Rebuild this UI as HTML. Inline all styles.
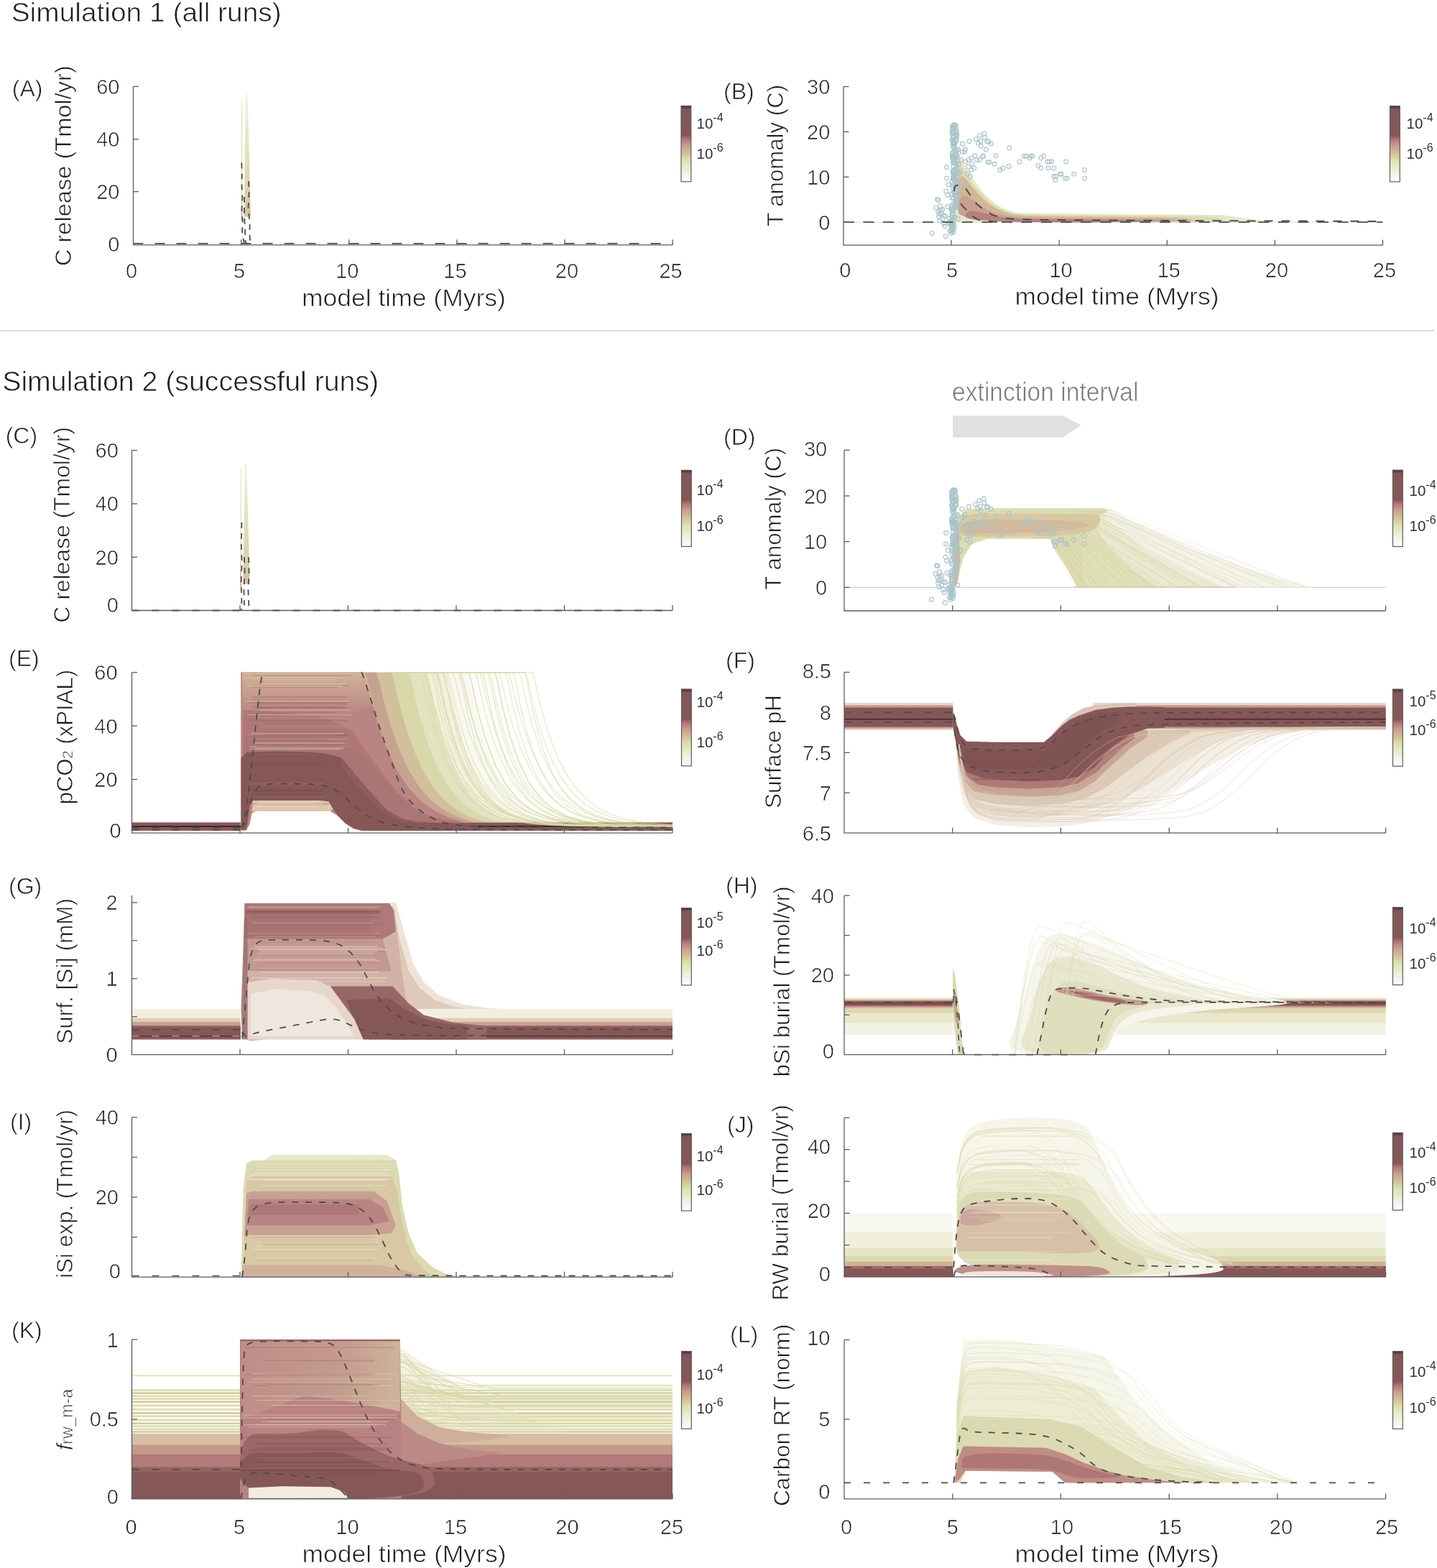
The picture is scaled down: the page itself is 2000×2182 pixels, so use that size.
<!DOCTYPE html><html><head><meta charset="utf-8"><style>html,body{margin:0;padding:0;background:#fff;}svg{display:block;}</style></head><body><svg width="2000" height="2182" viewBox="0 0 2000 2182" font-family="'Liberation Sans', Arial, Helvetica, sans-serif">
<style>text.t{stroke:#fff;stroke-width:0.65px;paint-order:normal;}</style>
<rect width="2000" height="2182" fill="#fff"/>
<polygon points="1328.7,1002.6 1333.3,1080.9 1340.8,1120.1 1355.9,1139.1 1386,1148.0 1431.2,1151.4 1476.4,1150.3 1512.6,1145.8 1551.8,1134.6 1597,1116.7 1642.2,1092.1 1687.4,1064.1 1732.7,1038.4 1777.9,1022.7 1823.1,1013.8 1823.1,1002.6 1621.1,1002.6 1572.9,1002.6 1548.8,1008.2 1524.7,1025.0 1500.6,1047.3 1476.4,1064.1 1452.3,1069.7 1343.8,1069.7 1331.7,1036.2" fill="#f3efe6" />
<polygon points="1328.7,1002.6 1333.3,1069.7 1340.8,1103.3 1355.9,1125.6 1386,1134.6 1431.2,1136.8 1476.4,1134.6 1512.6,1127.9 1551.8,1114.5 1597,1092.1 1642.2,1064.1 1687.4,1036.2 1732.7,1019.4 1732.7,1002.6 1621.1,1002.6 1572.9,1002.6 1548.8,1008.2 1524.7,1025.0 1500.6,1047.3 1476.4,1064.1 1452.3,1069.7 1343.8,1069.7 1331.7,1036.2" fill="#ebe1d2" />
<polygon points="1328.7,1002.6 1333.3,1060.8 1340.8,1092.1 1355.9,1112.2 1386,1118.9 1431.2,1121.2 1476.4,1118.9 1506.6,1112.2 1536.7,1097.7 1566.9,1075.3 1597,1052.9 1627.2,1033.9 1657.3,1019.4 1657.3,1002.6 1621.1,1002.6 1572.9,1002.6 1548.8,1008.2 1524.7,1025.0 1500.6,1047.3 1476.4,1064.1 1452.3,1069.7 1343.8,1069.7 1331.7,1036.2" fill="#dccab6" />
<polygon points="1328.7,1002.6 1333.3,1056.3 1340.8,1085.4 1355.9,1101.0 1386,1106.6 1431.2,1108.9 1476.4,1106.6 1500.6,1101.0 1524.7,1086.5 1548.8,1064.1 1572.9,1041.8 1597,1025.0 1597,1002.6 1621.1,1002.6 1572.9,1002.6 1548.8,1008.2 1524.7,1025.0 1500.6,1047.3 1476.4,1064.1 1452.3,1069.7 1343.8,1069.7 1331.7,1036.2" fill="#c8a494" />
<polygon points="1328.7,1002.6 1333.3,1052.9 1342.3,1078.7 1361.9,1092.1 1386,1095.4 1431.2,1097.7 1476.4,1095.4 1500.6,1089.9 1524.7,1075.3 1542.8,1058.5 1560.8,1041.8 1578.9,1027.2 1578.9,1002.6 1621.1,1002.6 1572.9,1002.6 1548.8,1008.2 1524.7,1025.0 1500.6,1047.3 1476.4,1064.1 1452.3,1069.7 1343.8,1069.7 1331.7,1036.2" fill="#ad7a76" />
<rect x="1175.0" y="978.0" width="151.3" height="38.0" fill="#e8d8c8"/>
<rect x="1175.0" y="981.4" width="151.3" height="32.4" fill="#c49a8c"/>
<rect x="1175.0" y="984.7" width="151.3" height="26.8" fill="#865757"/>
<rect x="1175.0" y="999.8" width="151.3" height="2.2" fill="#5a3434"/>
<rect x="1521.7" y="978.0" width="406.9" height="38.0" fill="#e8d8c8"/>
<rect x="1521.7" y="981.4" width="406.9" height="32.4" fill="#c49a8c"/>
<rect x="1521.7" y="984.7" width="406.9" height="26.8" fill="#865757"/>
<rect x="1521.7" y="999.8" width="406.9" height="2.2" fill="#5a3434"/>
<polygon points="1455.3,1033.9 1467.4,1018.3 1479.5,1004.8 1491.5,994.8 1506.6,985.8 1524.7,981.4 1551.8,979.1 1581.9,978.0 1581.9,991.4 1476.4,1036.2" fill="#dcc4b4" />
<polygon points="1326.3,1011.6 1326.3,991.4 1328.7,995.9 1331.7,1008.2 1336.3,1022.7 1345.3,1031.7 1386,1032.8 1452.9,1032.8 1465,1022.7 1477,1010.4 1488.8,1001.5 1500.9,995.9 1524.7,988.1 1548.8,984.7 1572.9,983.6 1597,983.6 1621.1,984.2 1621.1,1012.7 1597,1013.8 1572.9,1021.6 1560.8,1030.6 1548.8,1039.5 1536.7,1051.8 1524.7,1066.4 1500.6,1080.9 1476.4,1085.4 1429.1,1087.6 1369.1,1083.1 1345.3,1074.2 1333.3,1047.3 1328.7,1025.0" fill="#865757" />
<polygon points="1340.8,1041.8 1361.9,1045.1 1452.3,1045.1 1467.4,1031.7 1485.5,1013.8 1506.6,999.3 1530.7,992.5 1554.8,991.4 1554.8,1007.1 1530.7,1018.3 1512.6,1036.2 1494.5,1056.3 1470.4,1069.7 1361.9,1069.7 1343.8,1060.8" fill="#7c4e50" fill-opacity="0.6" />
<polyline points="1334.8,1036.2 1335.3,1041.0 1336.5,1050.8 1338.2,1065.4 1340.4,1084.9 1343.8,1100.9 1348.3,1113.5 1354,1122.5 1360.8,1128.1 1367.5,1132.7 1374.3,1136.2 1381,1138.6 1387.8,1140.0 1396.6,1139.1 1407.5,1135.7 1420.5,1130.1 1435.6,1122.1 1450.6,1112.0 1465.7,1100.0 1480.8,1086.0 1495.9,1069.9 1510.9,1055.9 1526,1043.9 1541.1,1033.8 1556.1,1025.8 1589.3,1019.7 1640.6,1015.4 1709.9,1013.0 1797.4,1012.4 1863,1012.0 1906.7,1011.7 1928.6,1011.6" fill="none" stroke="#d8c4ae" stroke-width="0.9" stroke-opacity="0.5" stroke-linejoin="round"/>
<polyline points="1334.8,1036.2 1335.3,1041.2 1336.5,1051.4 1338.2,1066.6 1340.4,1086.8 1343.8,1103.4 1348.3,1116.3 1354,1125.6 1360.8,1131.2 1368.5,1135.7 1377.2,1139.2 1386.9,1141.7 1397.5,1143.1 1409.3,1142.1 1422.1,1138.7 1436.1,1132.9 1451.1,1124.7 1466.2,1114.4 1481.3,1102.1 1496.4,1087.7 1511.4,1071.3 1526.5,1056.9 1541.6,1044.6 1556.6,1034.3 1571.7,1026.1 1603.9,1019.8 1653.2,1015.4 1719.7,1013.0 1803.2,1012.4 1865.9,1012.0 1907.7,1011.7 1928.6,1011.6" fill="none" stroke="#d8c4ae" stroke-width="0.9" stroke-opacity="0.5" stroke-linejoin="round"/>
<polyline points="1334.8,1036.2 1335.3,1040.5 1336.5,1049.2 1338.2,1062.3 1340.4,1079.6 1343.8,1094.1 1348.3,1105.6 1354,1114.1 1360.8,1119.7 1369,1124.3 1378.6,1127.8 1389.7,1130.2 1402.2,1131.6 1415.4,1130.8 1429.2,1127.7 1443.6,1122.5 1458.7,1115.0 1473.8,1105.6 1488.8,1094.4 1503.9,1081.2 1519,1066.3 1534.1,1053.1 1549.1,1041.9 1564.2,1032.5 1579.3,1025.0 1611,1019.3 1659.4,1015.2 1724.4,1013.0 1806.1,1012.4 1867.3,1012.0 1908.2,1011.7 1928.6,1011.6" fill="none" stroke="#d8c4ae" stroke-width="0.9" stroke-opacity="0.5" stroke-linejoin="round"/>
<polyline points="1334.8,1036.2 1335.3,1040.2 1336.5,1048.2 1338.2,1060.2 1340.4,1076.2 1343.8,1089.6 1348.3,1100.4 1354,1108.6 1360.8,1114.2 1369,1118.7 1378.8,1122.2 1390.1,1124.7 1402.9,1126.1 1416.2,1125.3 1430.1,1122.4 1444.6,1117.4 1459.7,1110.3 1474.8,1101.3 1489.8,1090.6 1504.9,1078.1 1520,1063.8 1535.1,1051.3 1550.1,1040.6 1565.2,1031.7 1580.3,1024.5 1611.9,1019.0 1660.2,1015.2 1725,1013.0 1806.5,1012.4 1867.5,1012.0 1908.2,1011.7 1928.6,1011.6" fill="none" stroke="#d8c4ae" stroke-width="0.9" stroke-opacity="0.5" stroke-linejoin="round"/>
<polyline points="1334.8,1036.2 1335.3,1040.3 1336.5,1048.7 1338.2,1061.3 1340.4,1078.0 1343.8,1091.9 1348.3,1103.1 1354,1111.5 1360.8,1117.1 1369.6,1121.6 1380.6,1125.1 1393.6,1127.5 1408.7,1128.9 1423.7,1128.2 1438.8,1125.2 1453.9,1120.0 1469,1112.7 1484.1,1103.6 1499.1,1092.6 1514.2,1079.7 1529.3,1065.1 1544.3,1052.3 1559.4,1041.3 1574.5,1032.1 1589.6,1024.8 1620.6,1019.2 1667.7,1015.2 1730.8,1013.0 1809.9,1012.4 1869.3,1012.0 1908.8,1011.7 1928.6,1011.6" fill="none" stroke="#d8c4ae" stroke-width="0.9" stroke-opacity="0.5" stroke-linejoin="round"/>
<polyline points="1334.8,1036.2 1335.3,1041.2 1336.5,1051.2 1338.2,1066.3 1340.4,1086.4 1343.8,1102.8 1348.3,1115.7 1354,1124.9 1360.8,1130.5 1370.3,1135.0 1382.5,1138.5 1397.4,1141.0 1415.1,1142.4 1432.1,1141.4 1448.4,1138.0 1464.1,1132.2 1479.2,1124.0 1494.3,1113.8 1509.4,1101.6 1524.4,1087.3 1539.5,1071.0 1554.6,1056.7 1569.6,1044.4 1584.7,1034.2 1599.8,1026.0 1630.2,1019.8 1676,1015.4 1737.2,1013.0 1813.8,1012.4 1871.2,1012.0 1909.5,1011.7 1928.6,1011.6" fill="none" stroke="#d8c4ae" stroke-width="0.9" stroke-opacity="0.5" stroke-linejoin="round"/>
<polyline points="1334.8,1036.2 1335.3,1039.4 1336.5,1045.8 1338.2,1055.5 1340.4,1068.4 1343.8,1079.4 1348.3,1088.7 1354,1096.1 1360.8,1101.7 1371.3,1106.2 1385.5,1109.7 1403.4,1112.2 1425.1,1113.5 1445.1,1113.0 1463.5,1110.5 1480.2,1106.1 1495.3,1099.7 1510.3,1091.8 1525.4,1082.2 1540.5,1071.1 1555.6,1058.4 1570.6,1047.2 1585.7,1037.7 1600.8,1029.7 1615.8,1023.3 1645.3,1018.4 1689.1,1015.0 1747.3,1013.0 1819.8,1012.4 1874.2,1012.0 1910.5,1011.7 1928.6,1011.6" fill="none" stroke="#d8c4ae" stroke-width="0.9" stroke-opacity="0.5" stroke-linejoin="round"/>
<polyline points="1334.8,1036.2 1335.3,1040.9 1336.5,1050.3 1338.2,1064.3 1340.4,1083.1 1343.8,1098.6 1348.3,1110.8 1354,1119.7 1360.8,1125.3 1371.5,1129.8 1386.3,1133.3 1405,1135.8 1427.7,1137.2 1448.5,1136.3 1467.4,1133.0 1484.4,1127.5 1499.5,1119.7 1514.6,1109.9 1529.6,1098.1 1544.7,1084.4 1559.8,1068.7 1574.8,1055.0 1589.9,1043.2 1605,1033.4 1620.1,1025.6 1649.2,1019.5 1692.5,1015.3 1749.9,1013.0 1821.4,1012.4 1875,1012.0 1910.7,1011.7 1928.6,1011.6" fill="none" stroke="#d8c4ae" stroke-width="0.9" stroke-opacity="0.5" stroke-linejoin="round"/>
<polyline points="1334.8,1036.2 1335.3,1039.1 1336.5,1044.9 1338.2,1053.7 1340.4,1065.4 1343.8,1075.6 1348.3,1084.2 1354,1091.3 1360.8,1096.9 1372.7,1101.5 1389.8,1105.0 1412,1107.4 1439.4,1108.8 1463.8,1108.3 1485,1106.0 1503.2,1101.8 1518.2,1095.7 1533.3,1088.2 1548.4,1079.0 1563.4,1068.4 1578.5,1056.3 1593.6,1045.7 1608.7,1036.6 1623.7,1029.0 1638.8,1022.9 1666.8,1018.2 1707.7,1014.9 1761.6,1013.0 1828.4,1012.4 1878.5,1012.0 1911.9,1011.7 1928.6,1011.6" fill="none" stroke="#d8c4ae" stroke-width="0.9" stroke-opacity="0.5" stroke-linejoin="round"/>
<polyline points="1334.8,1036.2 1335.3,1040.4 1336.5,1049.0 1338.2,1061.8 1340.4,1078.9 1343.8,1093.1 1348.3,1104.4 1354,1112.9 1360.8,1118.5 1373.2,1123.0 1391.4,1126.5 1415.3,1129.0 1444.9,1130.4 1470.9,1129.6 1493.2,1126.6 1511.9,1121.4 1527,1113.9 1542,1104.7 1557.1,1093.5 1572.2,1080.6 1587.3,1065.7 1602.3,1052.7 1617.4,1041.6 1632.5,1032.3 1647.5,1024.9 1675,1019.2 1714.8,1015.2 1767.1,1013.0 1831.7,1012.4 1880.1,1012.0 1912.4,1011.7 1928.6,1011.6" fill="none" stroke="#d8c4ae" stroke-width="0.9" stroke-opacity="0.5" stroke-linejoin="round"/>
<polyline points="1334.8,1036.2 1335.3,1041.3 1336.5,1051.6 1338.2,1066.9 1340.4,1087.5 1343.8,1104.2 1348.3,1117.3 1354,1126.6 1360.8,1132.2 1374.3,1136.8 1394.6,1140.2 1421.6,1142.7 1455.4,1144.1 1484.6,1143.1 1509,1139.6 1528.8,1133.8 1543.8,1125.5 1558.9,1115.2 1574,1102.7 1589.1,1088.3 1604.1,1071.7 1619.2,1057.2 1634.3,1044.8 1649.3,1034.5 1664.4,1026.2 1690.8,1019.9 1728.5,1015.4 1777.6,1013.0 1838,1012.4 1883.3,1012.0 1913.5,1011.7 1928.6,1011.6" fill="none" stroke="#d8c4ae" stroke-width="0.9" stroke-opacity="0.5" stroke-linejoin="round"/>
<polyline points="1334.8,1036.2 1335.3,1040.7 1336.5,1049.8 1338.2,1063.4 1340.4,1081.5 1343.8,1096.5 1348.3,1108.4 1354,1117.1 1360.8,1122.7 1374.8,1127.2 1396,1130.7 1424.5,1133.2 1460.1,1134.6 1490.7,1133.7 1516.1,1130.6 1536.3,1125.2 1551.4,1117.5 1566.4,1107.9 1581.5,1096.4 1596.6,1082.9 1611.6,1067.6 1626.7,1054.1 1641.8,1042.6 1656.9,1033.0 1671.9,1025.3 1697.9,1019.4 1734.7,1015.3 1782.3,1013.0 1840.8,1012.4 1884.7,1012.0 1914,1011.7 1928.6,1011.6" fill="none" stroke="#d8c4ae" stroke-width="0.9" stroke-opacity="0.5" stroke-linejoin="round"/>
<polyline points="1334.8,1036.2 1335.3,1041.1 1336.5,1051.0 1338.2,1065.9 1340.4,1085.7 1343.8,1102.0 1348.3,1114.7 1354,1123.8 1360.8,1129.4 1374.6,1134.0 1395.4,1137.5 1423.2,1139.9 1458.1,1141.3 1488,1140.3 1513,1137.0 1533,1131.3 1548.1,1123.2 1563.2,1113.0 1578.2,1100.9 1593.3,1086.7 1608.4,1070.5 1623.4,1056.3 1638.5,1044.2 1653.6,1034.0 1668.7,1025.9 1694.8,1019.7 1732,1015.4 1780.3,1013.0 1839.6,1012.4 1884.1,1012.0 1913.8,1011.7 1928.6,1011.6" fill="none" stroke="#d8c4ae" stroke-width="0.9" stroke-opacity="0.5" stroke-linejoin="round"/>
<polyline points="1334.8,1036.2 1335.3,1039.4 1336.5,1045.9 1338.2,1055.6 1340.4,1068.6 1343.8,1079.8 1348.3,1089.1 1354,1096.5 1360.8,1102.1 1375.4,1106.6 1397.8,1110.1 1428,1112.6 1466,1114.0 1498.3,1113.4 1524.8,1110.9 1545.6,1106.5 1560.7,1100.1 1575.8,1092.1 1590.8,1082.5 1605.9,1071.3 1621,1058.5 1636.1,1047.4 1651.1,1037.8 1666.2,1029.8 1681.3,1023.4 1706.6,1018.4 1742.2,1015.0 1788.1,1013.0 1844.3,1012.4 1886.5,1012.0 1914.6,1011.7 1928.6,1011.6" fill="none" stroke="#d8c4ae" stroke-width="0.9" stroke-opacity="0.5" stroke-linejoin="round"/>
<polyline points="1334.8,1036.2 1335.3,1040.0 1336.5,1047.6 1338.2,1059.1 1340.4,1074.4 1343.8,1087.2 1348.3,1097.7 1354,1105.7 1360.8,1111.3 1375.8,1115.8 1399.1,1119.3 1430.7,1121.8 1470.6,1123.1 1504.2,1122.5 1531.7,1119.7 1553,1114.8 1568,1107.8 1583.1,1099.1 1598.2,1088.7 1613.2,1076.5 1628.3,1062.6 1643.4,1050.4 1658.5,1039.9 1673.5,1031.2 1688.6,1024.2 1713.5,1018.9 1748.2,1015.1 1792.7,1013.0 1847.1,1012.4 1887.8,1012.0 1915,1011.7 1928.6,1011.6" fill="none" stroke="#d8c4ae" stroke-width="0.9" stroke-opacity="0.5" stroke-linejoin="round"/>
<polyline points="1334.8,1036.2 1335.3,1040.5 1336.5,1049.2 1338.2,1062.2 1340.4,1079.5 1343.8,1093.9 1348.3,1105.3 1354,1113.9 1360.8,1119.5 1376.9,1124.0 1402.5,1127.5 1437.4,1129.9 1481.8,1131.3 1518.8,1130.5 1548.5,1127.5 1570.9,1122.2 1586,1114.7 1601,1105.4 1616.1,1094.2 1631.2,1081.1 1646.3,1066.1 1661.3,1053.1 1676.4,1041.8 1691.5,1032.5 1706.5,1025.0 1730.3,1019.3 1762.8,1015.2 1803.9,1013.0 1853.8,1012.4 1891.2,1012.0 1916.1,1011.7 1928.6,1011.6" fill="none" stroke="#d8c4ae" stroke-width="0.9" stroke-opacity="0.5" stroke-linejoin="round"/>
<polyline points="1334.8,1036.2 1335.3,1041.3 1336.5,1051.4 1338.2,1066.7 1340.4,1087.1 1343.8,1103.7 1348.3,1116.7 1354,1126.0 1360.8,1131.6 1377.4,1136.1 1404,1139.6 1440.4,1142.1 1486.8,1143.5 1525.3,1142.4 1556,1139.0 1578.9,1133.2 1594,1125.0 1609,1114.7 1624.1,1102.3 1639.2,1087.9 1654.2,1071.4 1669.3,1057.0 1684.4,1044.7 1699.5,1034.4 1714.5,1026.1 1737.8,1019.8 1769.3,1015.4 1808.9,1013.0 1856.8,1012.4 1892.7,1012.0 1916.6,1011.7 1928.6,1011.6" fill="none" stroke="#d8c4ae" stroke-width="0.9" stroke-opacity="0.5" stroke-linejoin="round"/>
<polyline points="1334.8,1036.2 1335.3,1040.9 1336.5,1050.4 1338.2,1064.6 1340.4,1083.6 1343.8,1099.2 1348.3,1111.4 1354,1120.4 1360.8,1126.0 1377.5,1130.5 1404.1,1134.0 1440.7,1136.5 1487.3,1137.9 1526,1136.9 1556.8,1133.7 1579.7,1128.1 1594.8,1120.2 1609.9,1110.4 1624.9,1098.6 1640,1084.8 1655.1,1069.0 1670.1,1055.2 1685.2,1043.4 1700.3,1033.5 1715.4,1025.6 1738.6,1019.6 1769.9,1015.3 1809.5,1013.0 1857.1,1012.4 1892.9,1012.0 1916.7,1011.7 1928.6,1011.6" fill="none" stroke="#d8c4ae" stroke-width="0.9" stroke-opacity="0.5" stroke-linejoin="round"/>
<polyline points="1334.8,1036.2 1335.3,1040.4 1336.5,1048.8 1338.2,1061.3 1340.4,1078.1 1343.8,1092.1 1348.3,1103.3 1354,1111.7 1360.8,1117.3 1378.8,1121.8 1408.1,1125.3 1448.6,1127.8 1500.3,1129.2 1542.9,1128.4 1576.3,1125.4 1600.6,1120.3 1615.7,1112.9 1630.7,1103.7 1645.8,1092.7 1660.9,1079.9 1675.9,1065.2 1691,1052.3 1706.1,1041.3 1721.2,1032.2 1736.2,1024.8 1758.1,1019.2 1786.9,1015.2 1822.5,1013.0 1864.9,1012.4 1896.8,1012.0 1918,1011.7 1928.6,1011.6" fill="none" stroke="#d8c4ae" stroke-width="0.9" stroke-opacity="0.5" stroke-linejoin="round"/>
<polyline points="1334.8,1036.2 1335.3,1040.0 1336.5,1047.6 1338.2,1059.0 1340.4,1074.3 1343.8,1087.1 1348.3,1097.5 1354,1105.5 1360.8,1111.1 1379,1115.7 1408.6,1119.1 1449.7,1121.6 1502.2,1123.0 1545.4,1122.3 1579.2,1119.5 1603.6,1114.7 1618.7,1107.7 1633.7,1099.0 1648.8,1088.6 1663.9,1076.4 1679,1062.5 1694,1050.3 1709.1,1039.9 1724.2,1031.2 1739.3,1024.2 1761,1018.9 1789.4,1015.1 1824.4,1013.0 1866.1,1012.4 1897.3,1012.0 1918.2,1011.7 1928.6,1011.6" fill="none" stroke="#d8c4ae" stroke-width="0.9" stroke-opacity="0.5" stroke-linejoin="round"/>
<polyline points="1334.8,1036.2 1335.3,1040.7 1336.5,1049.7 1338.2,1063.2 1340.4,1081.3 1343.8,1096.2 1348.3,1108.0 1354,1116.7 1360.8,1122.3 1379.7,1126.8 1410.9,1130.3 1454.3,1132.8 1509.8,1134.2 1555.3,1133.3 1590.6,1130.2 1615.8,1124.8 1630.8,1117.1 1645.9,1107.6 1661,1096.1 1676.1,1082.7 1691.1,1067.4 1706.2,1054.0 1721.3,1042.5 1736.3,1032.9 1751.4,1025.3 1772.4,1019.4 1799.2,1015.3 1832,1013.0 1870.6,1012.4 1899.6,1012.0 1918.9,1011.7 1928.6,1011.6" fill="none" stroke="#d8c4ae" stroke-width="0.9" stroke-opacity="0.5" stroke-linejoin="round"/>
<polyline points="1334.8,1036.2 1335.3,1039.7 1336.5,1046.8 1338.2,1057.4 1340.4,1071.5 1343.8,1083.5 1348.3,1093.4 1354,1101.1 1360.8,1106.7 1380.7,1111.2 1413.9,1114.7 1460.2,1117.2 1519.7,1118.6 1568.1,1117.9 1605.4,1115.3 1631.6,1110.6 1646.7,1104.0 1661.7,1095.6 1676.8,1085.6 1691.9,1073.9 1706.9,1060.5 1722,1048.9 1737.1,1038.8 1752.2,1030.5 1767.2,1023.8 1787.2,1018.7 1812.1,1015.0 1841.9,1013.0 1876.6,1012.4 1902.6,1012.0 1919.9,1011.7 1928.6,1011.6" fill="none" stroke="#d8c4ae" stroke-width="0.9" stroke-opacity="0.5" stroke-linejoin="round"/>
<polyline points="1334.8,1036.2 1335.3,1040.0 1336.5,1047.7 1338.2,1059.2 1340.4,1074.5 1343.8,1087.5 1348.3,1097.9 1354,1106.0 1360.8,1111.5 1380.7,1116.1 1413.8,1119.6 1460.1,1122.0 1519.5,1123.4 1567.9,1122.7 1605.1,1119.9 1631.3,1115.1 1646.3,1108.1 1661.4,1099.3 1676.5,1088.9 1691.6,1076.6 1706.6,1062.7 1721.7,1050.5 1736.8,1040.0 1751.8,1031.3 1766.9,1024.3 1786.9,1018.9 1811.8,1015.1 1841.7,1013.0 1876.4,1012.4 1902.5,1012.0 1919.9,1011.7 1928.6,1011.6" fill="none" stroke="#d8c4ae" stroke-width="0.9" stroke-opacity="0.5" stroke-linejoin="round"/>
<polyline points="1334.8,1036.2 1335.3,1039.3 1336.5,1045.5 1338.2,1054.8 1340.4,1067.2 1343.8,1077.9 1348.3,1086.9 1354,1094.2 1360.8,1099.8 1381.6,1104.3 1416.6,1107.8 1465.6,1110.3 1528.7,1111.7 1579.8,1111.1 1618.9,1108.7 1646,1104.4 1661.1,1098.1 1676.1,1090.3 1691.2,1081.0 1706.3,1070.0 1721.4,1057.5 1736.4,1046.6 1751.5,1037.2 1766.6,1029.4 1781.7,1023.2 1800.7,1018.3 1823.8,1014.9 1850.9,1013.0 1882,1012.4 1905.3,1012.0 1920.8,1011.7 1928.6,1011.6" fill="none" stroke="#d8c4ae" stroke-width="0.9" stroke-opacity="0.5" stroke-linejoin="round"/>
<polyline points="1334.8,1036.2 1335.3,1040.7 1336.5,1049.8 1338.2,1063.4 1340.4,1081.5 1343.8,1096.6 1348.3,1108.4 1354,1117.2 1360.8,1122.8 1382.5,1127.3 1419.1,1130.8 1470.6,1133.2 1537.1,1134.6 1590.7,1133.8 1631.4,1130.6 1659.3,1125.2 1674.4,1117.5 1689.5,1107.9 1704.6,1096.4 1719.6,1083.0 1734.7,1067.6 1749.8,1054.1 1764.8,1042.6 1779.9,1033.0 1795,1025.3 1813.2,1019.4 1834.6,1015.3 1859.2,1013.0 1887,1012.4 1907.8,1012.0 1921.7,1011.7 1928.6,1011.6" fill="none" stroke="#d8c4ae" stroke-width="0.9" stroke-opacity="0.5" stroke-linejoin="round"/>
<polyline points="1334.8,1036.2 1335.3,1041.1 1336.5,1051.0 1338.2,1065.9 1340.4,1085.7 1343.8,1102.0 1348.3,1114.7 1354,1123.8 1360.8,1129.4 1383.3,1134.0 1421.7,1137.5 1475.9,1139.9 1545.9,1141.3 1602.2,1140.3 1644.7,1137.0 1673.5,1131.2 1688.6,1123.1 1703.7,1113.0 1718.7,1100.9 1733.8,1086.7 1748.9,1070.5 1764,1056.3 1779,1044.2 1794.1,1034.0 1809.2,1025.9 1826.5,1019.7 1846.2,1015.4 1868.1,1013.0 1892.3,1012.4 1910.4,1012.0 1922.5,1011.7 1928.6,1011.6" fill="none" stroke="#d8c4ae" stroke-width="0.9" stroke-opacity="0.5" stroke-linejoin="round"/>
<rect x="183.5" y="1404.1" width="151.1" height="42.3" fill="#f3efe0"/>
<rect x="183.5" y="1416.8" width="151.1" height="29.6" fill="#e2ccb6"/>
<rect x="183.5" y="1422.1" width="151.1" height="24.3" fill="#c8a090"/>
<rect x="183.5" y="1427.4" width="151.1" height="19.0" fill="#8e6060"/>
<rect x="183.5" y="1429.5" width="151.1" height="15.3" fill="#865757"/>
<rect x="183.5" y="1441.1" width="151.1" height="1.6" fill="#5a3434"/>
<rect x="544.7" y="1404.1" width="391.3" height="42.3" fill="#f3efe0"/>
<rect x="544.7" y="1416.8" width="391.3" height="29.6" fill="#e2ccb6"/>
<rect x="544.7" y="1422.1" width="391.3" height="24.3" fill="#c8a090"/>
<rect x="544.7" y="1427.4" width="391.3" height="19.0" fill="#8e6060"/>
<rect x="544.7" y="1429.5" width="391.3" height="15.3" fill="#865757"/>
<rect x="544.7" y="1441.1" width="391.3" height="1.6" fill="#5a3434"/>
<polygon points="532.7,1256.0 551.3,1256.0 562.8,1298.3 574.8,1340.6 589.9,1367.1 610.9,1385.1 644,1397.8 680.1,1403.1 707.2,1404.1 556.7,1404.1 556.7,1425.3 532.7,1425.3" fill="#ede4d6" />
<polygon points="532.7,1261.3 547.7,1261.3 556.7,1308.9 568.8,1351.2 583.8,1374.5 604.9,1391.4 629,1399.9 650,1404.1 556.7,1404.1 556.7,1425.3 532.7,1425.3" fill="#dfc9b8" />
<polygon points="337,1444.3 340,1257.1 541.7,1257.1 549.2,1266.6 553.7,1308.9 559.8,1356.5 565.8,1393.5 568.8,1425.3 349.1,1448.6" fill="#d2b2a6" />
<polygon points="344.5,1446.4 344.5,1367.1 379.1,1361.8 439.4,1363.9 459.8,1372.4 472.5,1388.2 514,1446.4" fill="#e6d6cc" />
<polygon points="349.1,1442.2 349.1,1383.0 379.1,1376.6 430.3,1378.7 451.4,1385.1 469.4,1404.1 493.5,1442.2" fill="#efe6de" />
<polygon points="340,1306.8 340.6,1257.1 541.7,1257.1 547.7,1266.6 550.7,1296.2 532.7,1306.8" fill="#b07878" />
<polygon points="341.5,1296.2 341.5,1260.2 514.6,1260.2 514.6,1296.2" fill="#a87272" fill-opacity="0.75" />
<polygon points="341.5,1271.9 341.5,1266.6 529.6,1266.6 529.6,1271.9" fill="#8e5e5e" fill-opacity="0.6" />
<polygon points="341.5,1351.2 343,1306.8 532.7,1306.8 544.7,1351.2" fill="#bf928a" fill-opacity="0.8" />
<polygon points="459.8,1372.4 546.5,1372.4 568.2,1395.7 589.9,1412.6 632,1423.2 677.1,1427.4 677.1,1446.4 514,1446.4" fill="#976767" />
<polygon points="481.5,1391.4 541.7,1389.3 562.8,1404.1 589.9,1417.9 620,1424.2 650,1427.4 650,1446.4 505.6,1446.4" fill="#865757" />
<polygon points="337,1446.4 335.5,1404.1 340,1277.2 344.5,1277.2 344.5,1446.4" fill="#9a6a6a" fill-opacity="0.8" />
<rect x="1175.0" y="1388.0" width="151.3" height="52.1" fill="#f2f2e2"/>
<rect x="1175.0" y="1389.1" width="151.3" height="34.3" fill="#e9e8cc"/>
<rect x="1175.0" y="1390.2" width="151.3" height="19.4" fill="#ddd6b0"/>
<rect x="1175.0" y="1391.3" width="151.3" height="11.1" fill="#c8a490"/>
<rect x="1175.0" y="1392.9" width="151.3" height="7.2" fill="#985e60"/>
<rect x="1175.0" y="1394.6" width="151.3" height="3.3" fill="#7a4a4c"/>
<rect x="1551.8" y="1388.0" width="376.8" height="52.1" fill="#f2f2e2"/>
<rect x="1551.8" y="1389.1" width="376.8" height="34.3" fill="#e9e8cc"/>
<rect x="1551.8" y="1390.2" width="376.8" height="19.4" fill="#ddd6b0"/>
<rect x="1551.8" y="1391.3" width="376.8" height="11.1" fill="#c8a490"/>
<rect x="1551.8" y="1392.9" width="376.8" height="7.2" fill="#985e60"/>
<rect x="1551.8" y="1394.6" width="376.8" height="3.3" fill="#7a4a4c"/>
<polygon points="1325.7,1395.7 1326.3,1345.9 1329.3,1357.0 1334.8,1401.2 1339.3,1451.1 1342.3,1467.7 1333.3,1467.7 1327.2,1423.4" fill="#dcd8b0" />
<polygon points="1326.3,1392.9 1328.1,1379.1 1331.1,1395.7 1334.8,1423.4 1330.2,1423.4" fill="#c09080" fill-opacity="0.7" />
<polygon points="1404.3,1448.3 1406.9,1442.8 1409.5,1436.9 1412.1,1430.7 1414.6,1424.1 1417,1417.2 1419.4,1409.9 1421.8,1402.3 1424.1,1394.3 1426.3,1386.0 1428.5,1378.1 1430.6,1370.4 1432.5,1363.2 1434.4,1356.3 1436.2,1349.7 1437.9,1343.5 1439.5,1337.6 1441,1332.0 1442.7,1326.9 1444.6,1322.3 1446.7,1318.0 1448.9,1314.2 1451.4,1310.8 1454,1307.9 1456.8,1305.4 1459.9,1303.3 1463.1,1301.7 1466.5,1300.5 1470,1299.7 1473.8,1299.3 1477.8,1299.4 1481.9,1299.9 1486.2,1300.9 1490.8,1302.3 1495.4,1303.7 1500.2,1305.3 1505.2,1306.9 1510.3,1308.7 1515.5,1310.5 1520.9,1312.4 1526.4,1314.4 1532,1316.5 1537.7,1318.6 1543.3,1320.9 1549,1323.2 1554.6,1325.6 1560.3,1328.1 1565.9,1330.7 1571.6,1333.4 1577.2,1336.2 1583.1,1339.0 1589.2,1341.7 1595.6,1344.5 1602.2,1347.3 1609,1350.0 1616.1,1352.8 1623.4,1355.6 1630.9,1358.3 1638.7,1361.0 1646.7,1363.6 1654.9,1366.1 1663.4,1368.5 1672.1,1370.9 1681.1,1373.1 1690.3,1375.3 1699.7,1377.4 1708.9,1379.3 1717.8,1381.1 1726.5,1382.8 1735,1384.3 1743.3,1385.7 1751.3,1386.9 1759,1388.0 1766.6,1389.0 1773.2,1389.9 1778.8,1390.9 1783.5,1391.7 1787.3,1392.6 1790.1,1393.5 1792,1394.3 1793,1395.1 1793,1395.8 1790.8,1396.6 1786.6,1397.4 1780.2,1398.3 1771.8,1399.2 1761.2,1400.1 1748.4,1401.1 1733.6,1402.1 1716.7,1403.2 1700.4,1404.3 1684.9,1405.6 1670,1407.0 1655.9,1408.6 1642.5,1410.3 1629.8,1412.1 1617.7,1414.1 1606.4,1416.1 1596.2,1418.4 1586.9,1420.8 1578.7,1423.4 1571.6,1426.2 1565.5,1429.1 1560.4,1432.2 1556.3,1435.5 1553.3,1439.0 1550.6,1442.3 1548.1,1445.4 1546,1448.3 1544.1,1451.1 1542.5,1453.7 1541.2,1456.1 1540.1,1458.4 1539.4,1460.4 1536.5,1462.2 1531.5,1463.8 1524.4,1465.1 1515.2,1466.1 1503.8,1466.9 1490.3,1467.4 1474.7,1467.7 1457,1467.7 1441.9,1467.0 1429.2,1465.6 1419.2,1463.5 1411.6,1460.8 1406.6,1457.3 1404.2,1453.2" fill="#f5f5eb" />
<polygon points="1421.1,1448.3 1423.3,1442.8 1425.5,1437.1 1427.7,1431.2 1429.8,1425.1 1431.9,1418.9 1433.9,1412.5 1435.9,1405.9 1437.8,1399.2 1439.7,1392.3 1441.6,1385.7 1443.5,1379.4 1445.4,1373.6 1447.2,1368.0 1449.1,1362.8 1451,1358.0 1452.9,1353.5 1454.8,1349.3 1456.8,1345.6 1459,1342.3 1461.3,1339.5 1463.7,1337.0 1466.3,1335.1 1469,1333.5 1471.9,1332.4 1474.9,1331.7 1478.1,1331.3 1481.5,1331.1 1485.1,1331.2 1488.9,1331.5 1492.8,1332.1 1497,1333.0 1501.3,1334.1 1505.8,1335.5 1510.5,1337.0 1515.3,1338.8 1520.2,1340.7 1525.3,1342.8 1530.6,1345.0 1535.9,1347.4 1541.4,1350.0 1547.1,1352.8 1552.7,1355.5 1558.4,1358.1 1564,1360.6 1569.7,1363.0 1575.3,1365.3 1581,1367.6 1586.7,1369.8 1592.3,1371.8 1598.2,1373.8 1604.3,1375.7 1610.7,1377.4 1617.3,1379.1 1624.1,1380.7 1631.2,1382.1 1638.5,1383.5 1646,1384.7 1652.6,1385.9 1658.2,1387.2 1663,1388.4 1666.7,1389.6 1669.5,1390.8 1671.4,1392.0 1672.4,1393.2 1672.4,1394.4 1671.2,1395.5 1668.8,1396.5 1665.3,1397.5 1660.6,1398.5 1654.7,1399.3 1647.6,1400.2 1639.4,1400.9 1630,1401.6 1621.2,1402.4 1613,1403.4 1605.4,1404.5 1598.4,1405.7 1592.1,1407.0 1586.3,1408.5 1581.2,1410.1 1576.7,1411.8 1572.5,1413.8 1568.6,1415.9 1565.1,1418.3 1561.9,1420.9 1559,1423.7 1556.5,1426.7 1554.2,1430.0 1552.4,1433.4 1550.6,1436.8 1549,1440.1 1547.6,1443.3 1546.2,1446.4 1545.1,1449.4 1544,1452.4 1543.1,1455.2 1542.4,1458.0 1539.7,1460.4 1535.2,1462.5 1528.8,1464.2 1520.5,1465.6 1510.4,1466.7 1498.3,1467.4 1484.4,1467.7 1468.5,1467.7 1455,1467.0 1443.7,1465.6 1434.6,1463.5 1427.8,1460.8 1423.3,1457.3 1421.1,1453.2" fill="#e9e9d2" />
<polygon points="1445.5,1448.3 1447,1442.8 1448.6,1437.2 1450.1,1431.7 1451.6,1426.2 1453.1,1420.6 1454.6,1415.1 1456.1,1409.6 1457.6,1404.0 1459.1,1398.5 1460.8,1393.4 1462.5,1388.7 1464.5,1384.5 1466.5,1380.7 1468.8,1377.3 1471.1,1374.3 1473.6,1371.8 1476.3,1369.8 1479.1,1368.1 1482.2,1366.8 1485.6,1365.9 1489.2,1365.3 1493,1365.2 1497,1365.5 1501.3,1366.1 1505.8,1367.2 1510.4,1368.2 1515,1369.4 1519.7,1370.5 1524.4,1371.7 1529.1,1373.0 1533.9,1374.3 1538.8,1375.6 1543.7,1377.0 1548.6,1378.4 1553.4,1379.7 1558.1,1380.9 1562.8,1382.1 1567.5,1383.3 1572.1,1384.4 1576.7,1385.5 1581.2,1386.5 1585.1,1387.6 1588.5,1388.7 1591.4,1389.8 1593.6,1391.0 1595.3,1392.1 1596.5,1393.3 1597,1394.5 1597,1395.8 1596.4,1397.0 1595,1398.2 1593.1,1399.5 1590.4,1400.7 1587.1,1401.9 1583.2,1403.1 1578.6,1404.3 1573.3,1405.4 1568.5,1406.9 1564.1,1408.8 1560.3,1410.9 1556.9,1413.4 1554,1416.3 1551.5,1419.4 1549.5,1422.9 1548,1426.7 1546.5,1430.5 1545,1434.2 1543.5,1437.8 1542,1441.5 1540.5,1445.1 1539,1448.6 1537.5,1452.1 1536,1455.6 1533.2,1458.6 1529.3,1461.2 1524.1,1463.4 1517.7,1465.1 1510.1,1466.4 1501.2,1467.3 1491.1,1467.7 1479.8,1467.7 1470.1,1467.0 1462,1465.6 1455.5,1463.5 1450.6,1460.8 1447.3,1457.3 1445.6,1453.2" fill="#dfdfbe" />
<polygon points="1474,1376.2 1475.9,1375.4 1477.9,1374.7 1480.1,1374.2 1482.4,1374.0 1484.8,1373.9 1487.4,1373.9 1490.1,1374.2 1493,1374.6 1496,1375.3 1499.1,1375.9 1502.3,1376.6 1505.6,1377.3 1509,1378.1 1512.5,1378.9 1516.1,1379.7 1519.8,1380.6 1523.5,1381.5 1527.3,1382.4 1531.1,1383.2 1534.8,1384.0 1538.6,1384.8 1542.4,1385.6 1546.1,1386.3 1549.9,1387.1 1553.7,1387.8 1557.5,1388.4 1561.2,1389.0 1565,1389.6 1568.8,1390.1 1572.5,1390.6 1576.3,1391.0 1580.1,1391.4 1583.8,1391.7 1587.1,1392.1 1590,1392.6 1592.3,1393.1 1594.2,1393.6 1595.6,1394.2 1596.5,1394.9 1597,1395.6 1597,1396.4 1596.5,1397.0 1595.6,1397.6 1594.2,1398.0 1592.3,1398.3 1590,1398.5 1587.1,1398.6 1583.8,1398.6 1580.1,1398.4 1576.3,1398.2 1572.5,1398.0 1568.8,1397.8 1565,1397.5 1561.2,1397.2 1557.5,1396.9 1553.7,1396.5 1549.9,1396.1 1546.1,1395.6 1542.4,1395.1 1538.6,1394.6 1534.8,1394.1 1531.1,1393.5 1527.3,1392.8 1523.5,1392.2 1519.8,1391.5 1516.1,1390.8 1512.5,1390.1 1509,1389.4 1505.6,1388.7 1502.3,1388.0 1499.1,1387.3 1496,1386.6 1493,1386.0 1490.1,1385.3 1487.4,1384.6 1484.8,1384.0 1482.4,1383.4 1480.1,1382.8 1477.9,1382.2 1475.9,1381.6 1474,1381.0 1472.6,1380.4 1471.6,1379.8 1471.2,1379.2 1471.2,1378.5 1471.6,1377.8 1472.6,1377.0" fill="#c09088" />
<polygon points="1494.7,1379.4 1497.4,1379.9 1500.1,1380.3 1503.1,1380.8 1506.1,1381.4 1509.3,1382.0 1512.7,1382.6 1516.1,1383.3 1519.8,1384.0 1523.5,1384.7 1527.3,1385.5 1531.1,1386.2 1534.8,1386.9 1538.6,1387.6 1542.4,1388.3 1546.1,1388.9 1549.9,1389.6 1553.7,1390.2 1557,1390.8 1559.8,1391.4 1562.2,1392.0 1564,1392.6 1565.5,1393.2 1566.4,1393.8 1566.9,1394.3 1566.9,1394.9 1566.4,1395.3 1565.5,1395.6 1564,1395.8 1562.2,1395.8 1559.8,1395.7 1557,1395.5 1553.7,1395.1 1549.9,1394.6 1546.1,1394.1 1542.4,1393.6 1538.6,1393.0 1534.8,1392.4 1531.1,1391.7 1527.3,1391.0 1523.5,1390.3 1519.8,1389.5 1516.1,1388.7 1512.7,1387.9 1509.3,1387.0 1506.1,1386.0 1503.1,1385.1 1500.1,1384.0 1497.4,1383.0 1494.7,1381.9 1492.7,1381.0 1491.4,1380.2 1490.8,1379.7 1490.8,1379.3 1491.4,1379.2 1492.7,1379.2" fill="#986262" fill-opacity="0.85" />
<polyline points="1438.6,1467.7 1440.1,1457.3 1443.1,1436.4 1447.7,1405.1 1453.7,1363.4 1460.1,1332.6 1466.9,1312.8 1474,1303.9 1481.6,1306.0 1493.3,1312.9 1509.2,1324.6 1529.2,1341.2 1553.5,1362.6 1575.4,1378.6 1595.1,1389.5 1612.4,1395.0 1627.5,1395.3 1638.8,1395.5 1646.3,1395.6 1650.1,1395.7" fill="none" stroke="#dcdcb4" stroke-width="0.9" stroke-opacity="0.55" stroke-linejoin="round"/>
<polyline points="1444,1467.7 1445.5,1462.2 1448.5,1451.3 1453,1434.9 1459,1413.1 1465.4,1397.0 1472.2,1386.6 1479.4,1381.9 1486.9,1383.0 1506.4,1384.5 1537.9,1386.3 1581.3,1388.4 1636.6,1390.9 1681.9,1392.8 1717.1,1394.2 1742.3,1395.0 1757.3,1395.3 1768.6,1395.5 1776.2,1395.6 1779.9,1395.7" fill="none" stroke="#dcdcb4" stroke-width="0.9" stroke-opacity="0.55" stroke-linejoin="round"/>
<polyline points="1464.7,1467.7 1466.2,1458.5 1469.2,1440.2 1473.8,1412.8 1479.8,1376.1 1486.2,1349.1 1493,1331.7 1500.1,1323.9 1507.7,1325.8 1530.3,1331.3 1568,1340.4 1620.8,1353.3 1688.6,1369.8 1743.3,1382.3 1784.7,1390.7 1813,1395.0 1828.1,1395.3 1839.4,1395.5 1846.9,1395.6 1850.7,1395.7" fill="none" stroke="#dcdcb4" stroke-width="0.9" stroke-opacity="0.55" stroke-linejoin="round"/>
<polyline points="1430.8,1467.7 1432.3,1457.7 1435.3,1437.7 1439.8,1407.7 1445.8,1367.7 1452.2,1338.1 1459,1319.1 1466.2,1310.6 1473.7,1312.6 1492.1,1319.1 1521.3,1329.9 1561.4,1345.2 1612.3,1365.0 1654.2,1379.9 1687.2,1389.9 1711.2,1395.0 1726.3,1395.3 1737.6,1395.5 1745.2,1395.6 1748.9,1395.7" fill="none" stroke="#dcdcb4" stroke-width="0.9" stroke-opacity="0.55" stroke-linejoin="round"/>
<polyline points="1450.8,1467.7 1452.3,1459.4 1455.3,1442.7 1459.9,1417.6 1465.9,1384.2 1472.3,1359.6 1479.1,1343.7 1486.2,1336.6 1493.8,1338.3 1515.8,1342.9 1552.5,1350.5 1603.6,1361.0 1669.3,1374.4 1722.4,1384.6 1762.8,1391.4 1790.5,1395.0 1805.6,1395.3 1816.9,1395.5 1824.4,1395.6 1828.2,1395.7" fill="none" stroke="#dcdcb4" stroke-width="0.9" stroke-opacity="0.55" stroke-linejoin="round"/>
<polyline points="1478.3,1467.7 1479.8,1459.2 1482.8,1442.3 1487.3,1416.9 1493.4,1383.0 1499.8,1358.0 1506.6,1341.9 1513.7,1334.7 1521.3,1336.4 1540.7,1341.1 1572,1348.9 1615.2,1359.8 1670.3,1373.7 1715.4,1384.2 1750.5,1391.3 1775.6,1395.0 1790.7,1395.3 1802,1395.5 1809.5,1395.6 1813.3,1395.7" fill="none" stroke="#dcdcb4" stroke-width="0.9" stroke-opacity="0.55" stroke-linejoin="round"/>
<polyline points="1411.7,1467.7 1413.2,1457.7 1416.2,1437.6 1420.7,1407.4 1426.8,1367.2 1433.2,1337.6 1439.9,1318.5 1447.1,1310.0 1454.6,1312.0 1473.8,1318.5 1504.6,1329.4 1547.1,1344.8 1601.2,1364.7 1645.5,1379.7 1680.1,1389.8 1704.9,1395.0 1720,1395.3 1731.3,1395.5 1738.8,1395.6 1742.6,1395.7" fill="none" stroke="#dcdcb4" stroke-width="0.9" stroke-opacity="0.55" stroke-linejoin="round"/>
<polyline points="1481.9,1467.7 1483.5,1456.8 1486.5,1435.1 1491,1402.4 1497,1358.9 1503.4,1326.8 1510.2,1306.1 1517.4,1296.9 1524.9,1299.0 1538.6,1306.4 1558.5,1319.1 1584.6,1336.9 1616.8,1360.0 1644.7,1377.4 1668.4,1389.0 1687.7,1395.0 1702.8,1395.3 1714.1,1395.5 1721.6,1395.6 1725.4,1395.7" fill="none" stroke="#dcdcb4" stroke-width="0.9" stroke-opacity="0.55" stroke-linejoin="round"/>
<polyline points="1436.2,1467.7 1437.7,1457.9 1440.7,1438.2 1445.2,1408.8 1451.3,1369.5 1457.7,1340.5 1464.4,1321.9 1471.6,1313.5 1479.1,1315.5 1488.9,1321.7 1500.9,1332.2 1515.1,1347.0 1531.5,1366.0 1547.6,1380.4 1563.4,1390.1 1578.8,1395.0 1593.9,1395.3 1605.2,1395.5 1612.7,1395.6 1616.5,1395.7" fill="none" stroke="#dcdcb4" stroke-width="0.9" stroke-opacity="0.55" stroke-linejoin="round"/>
<polyline points="1441.9,1467.7 1443.4,1461.3 1446.4,1448.6 1450.9,1429.6 1457,1404.2 1463.4,1385.4 1470.2,1373.3 1477.3,1367.9 1484.9,1369.2 1496,1371.6 1510.9,1375.2 1529.4,1379.9 1551.5,1385.8 1571.9,1390.3 1590.5,1393.3 1607.3,1395.0 1622.4,1395.3 1633.7,1395.5 1641.2,1395.6 1645,1395.7" fill="none" stroke="#dcdcb4" stroke-width="0.9" stroke-opacity="0.55" stroke-linejoin="round"/>
<polyline points="1411.6,1467.7 1413.1,1457.2 1416.1,1436.2 1420.6,1404.6 1426.6,1362.6 1433,1331.6 1439.8,1311.6 1447,1302.7 1454.5,1304.8 1465.9,1311.8 1481.1,1323.7 1500.1,1340.5 1523,1362.1 1543.9,1378.4 1562.9,1389.4 1579.9,1395.0 1595,1395.3 1606.3,1395.5 1613.8,1395.6 1617.6,1395.7" fill="none" stroke="#dcdcb4" stroke-width="0.9" stroke-opacity="0.55" stroke-linejoin="round"/>
<polyline points="1425.8,1467.7 1427.3,1459.8 1430.3,1444.0 1434.8,1420.3 1440.8,1388.7 1447.2,1365.4 1454,1350.4 1461.2,1343.7 1468.7,1345.3 1491.3,1349.4 1528.9,1356.1 1581.4,1365.3 1649,1377.0 1703.5,1385.9 1744.9,1391.9 1773.1,1395.0 1788.1,1395.3 1799.4,1395.5 1807,1395.6 1810.7,1395.7" fill="none" stroke="#dcdcb4" stroke-width="0.9" stroke-opacity="0.55" stroke-linejoin="round"/>
<polyline points="1413.2,1467.7 1414.7,1459.4 1417.7,1442.8 1422.2,1417.9 1428.3,1384.7 1434.7,1360.2 1441.4,1344.4 1448.6,1337.4 1456.1,1339.0 1473.8,1343.6 1501.7,1351.1 1539.7,1361.4 1587.9,1374.7 1627.8,1384.7 1659.5,1391.5 1682.8,1395.0 1697.9,1395.3 1709.2,1395.5 1716.7,1395.6 1720.5,1395.7" fill="none" stroke="#dcdcb4" stroke-width="0.9" stroke-opacity="0.55" stroke-linejoin="round"/>
<polyline points="1473.7,1467.7 1475.2,1456.8 1478.2,1435.1 1482.7,1402.5 1488.8,1359.1 1495.2,1327.0 1501.9,1306.4 1509.1,1297.2 1516.6,1299.3 1539.1,1306.7 1576.4,1319.3 1628.7,1337.1 1695.8,1360.1 1750,1377.4 1791.1,1389.1 1819.2,1395.0 1834.3,1395.3 1845.6,1395.5 1853.1,1395.6 1856.9,1395.7" fill="none" stroke="#dcdcb4" stroke-width="0.9" stroke-opacity="0.55" stroke-linejoin="round"/>
<polyline points="1428.1,1467.7 1429.6,1459.6 1432.6,1443.5 1437.1,1419.3 1443.2,1387.0 1449.6,1363.2 1456.4,1347.9 1463.5,1341.1 1471,1342.7 1485.9,1347.0 1508,1354.0 1537.4,1363.7 1574.1,1376.0 1605.4,1385.4 1631.3,1391.7 1651.8,1395.0 1666.8,1395.3 1678.1,1395.5 1685.7,1395.6 1689.4,1395.7" fill="none" stroke="#dcdcb4" stroke-width="0.9" stroke-opacity="0.55" stroke-linejoin="round"/>
<polyline points="1473.7,1467.7 1475.2,1455.9 1478.3,1432.2 1482.8,1396.8 1488.8,1349.5 1495.2,1314.6 1502,1292.2 1509.2,1282.1 1516.7,1284.5 1528.4,1292.9 1544.2,1307.4 1564.3,1328.0 1588.4,1354.6 1610.3,1374.7 1629.9,1388.2 1647.3,1395.0 1662.4,1395.3 1673.7,1395.5 1681.2,1395.6 1685,1395.7" fill="none" stroke="#dcdcb4" stroke-width="0.9" stroke-opacity="0.55" stroke-linejoin="round"/>
<polyline points="1420.4,1467.7 1421.9,1460.9 1424.9,1447.3 1429.4,1426.9 1435.5,1399.7 1441.9,1379.7 1448.6,1366.8 1455.8,1361.0 1463.3,1362.3 1476.3,1365.3 1494.6,1369.7 1518.4,1375.7 1547.5,1383.3 1573.1,1389.0 1595.2,1392.9 1613.8,1395.0 1628.9,1395.3 1640.2,1395.5 1647.7,1395.6 1651.5,1395.7" fill="none" stroke="#dcdcb4" stroke-width="0.9" stroke-opacity="0.55" stroke-linejoin="round"/>
<polyline points="1443.7,1467.7 1445.2,1458.4 1448.2,1439.9 1452.7,1412.1 1458.7,1375.0 1465.1,1347.7 1471.9,1330.1 1479.1,1322.2 1486.6,1324.0 1500,1329.7 1519.2,1339.1 1544.3,1352.2 1575.2,1369.2 1602.1,1382.0 1625.1,1390.6 1644.2,1395.0 1659.2,1395.3 1670.5,1395.5 1678.1,1395.6 1681.9,1395.7" fill="none" stroke="#dcdcb4" stroke-width="0.9" stroke-opacity="0.55" stroke-linejoin="round"/>
<polyline points="1407.4,1467.7 1408.9,1459.6 1411.9,1443.4 1416.5,1419.2 1422.5,1386.8 1428.9,1362.9 1435.7,1347.5 1442.8,1340.7 1450.4,1342.3 1465.4,1346.6 1487.8,1353.7 1517.7,1363.4 1555,1375.9 1586.8,1385.3 1613,1391.7 1633.6,1395.0 1648.7,1395.3 1660,1395.5 1667.5,1395.6 1671.3,1395.7" fill="none" stroke="#dcdcb4" stroke-width="0.9" stroke-opacity="0.55" stroke-linejoin="round"/>
<polyline points="1449.8,1467.7 1451.3,1455.9 1454.3,1432.3 1458.8,1397.0 1464.9,1349.8 1471.3,1315.0 1478,1292.6 1485.2,1282.6 1492.7,1285.0 1512.6,1293.4 1544.7,1307.8 1589.1,1328.3 1645.8,1354.8 1692.1,1374.8 1728,1388.2 1753.5,1395.0 1768.5,1395.3 1779.8,1395.5 1787.4,1395.6 1791.1,1395.7" fill="none" stroke="#dcdcb4" stroke-width="0.9" stroke-opacity="0.55" stroke-linejoin="round"/>
<polyline points="1446,1467.7 1447.5,1458.2 1450.5,1439.3 1455,1410.9 1461,1373.0 1467.4,1345.1 1474.2,1327.1 1481.4,1319.1 1488.9,1321.0 1508.5,1326.8 1540.2,1336.6 1584,1350.4 1639.8,1368.1 1685.5,1381.4 1720.9,1390.4 1746.2,1395.0 1761.3,1395.3 1772.6,1395.5 1780.1,1395.6 1783.9,1395.7" fill="none" stroke="#dcdcb4" stroke-width="0.9" stroke-opacity="0.55" stroke-linejoin="round"/>
<polyline points="1411.2,1467.7 1412.7,1456.3 1415.7,1433.4 1420.2,1399.2 1426.2,1353.5 1432.7,1319.8 1439.4,1298.1 1446.6,1288.4 1454.1,1290.7 1475.3,1298.7 1510.1,1312.4 1558.6,1331.8 1620.7,1356.9 1671,1375.8 1709.6,1388.5 1736.4,1395.0 1751.5,1395.3 1762.8,1395.5 1770.3,1395.6 1774.1,1395.7" fill="none" stroke="#dcdcb4" stroke-width="0.9" stroke-opacity="0.55" stroke-linejoin="round"/>
<polyline points="1473,1467.7 1474.5,1457.0 1477.5,1435.6 1482.1,1403.4 1488.1,1360.6 1494.5,1329.0 1501.3,1308.6 1508.4,1299.5 1516,1301.6 1531.3,1308.8 1554.4,1321.1 1585.4,1338.5 1624.1,1360.9 1656.9,1377.8 1683.8,1389.2 1704.8,1395.0 1719.9,1395.3 1731.2,1395.5 1738.7,1395.6 1742.5,1395.7" fill="none" stroke="#dcdcb4" stroke-width="0.9" stroke-opacity="0.55" stroke-linejoin="round"/>
<polyline points="1437.2,1467.7 1438.7,1461.8 1441.7,1450.0 1446.2,1432.3 1452.2,1408.6 1458.7,1391.2 1465.4,1380.0 1472.6,1374.9 1480.1,1376.1 1499.1,1378.1 1529.5,1380.7 1571.4,1384.2 1624.7,1388.3 1668.5,1391.5 1702.7,1393.8 1727.3,1395.0 1742.4,1395.3 1753.7,1395.5 1761.2,1395.6 1765,1395.7" fill="none" stroke="#dcdcb4" stroke-width="0.9" stroke-opacity="0.55" stroke-linejoin="round"/>
<polygon points="364.1,1616.0 379.1,1607.1 538.7,1607.1 553.7,1616.0" fill="#e8e8cc" />
<polygon points="335.5,1777.2 338.5,1654.9 343,1618.7 352.1,1614.8 550.7,1614.3 555.2,1632.6 559.8,1677.1 568.8,1716.0 580.8,1743.8 601.9,1763.3 623,1773.9 644,1777.2" fill="#dcdab0" />
<polygon points="338.5,1777.2 340,1710.5 343,1643.8 352.1,1635.4 544.7,1635.4 552.2,1654.9 558.2,1693.8 565.8,1727.2 574.8,1749.4 592.9,1768.9 604.9,1777.2" fill="#d8c8a4" />
<polygon points="340,1718.8 343,1660.4 352.1,1657.7 520.6,1657.7 538.7,1671.6 550.7,1704.9 544.7,1716.0 514.6,1718.8" fill="#c8a092" />
<polygon points="343,1704.9 346,1668.8 514.6,1668.8 532.7,1679.9 541.7,1699.4 514.6,1704.9" fill="#b98481" />
<polygon points="346,1691.0 349.1,1676.0 499.6,1676.0 499.6,1691.0" fill="#a87474" fill-opacity="0.7" />
<polygon points="337,1777.2 337,1760.5 529.6,1760.5 568.8,1768.9 586.8,1777.2" fill="#d0aa9c" fill-opacity="0.8" />
<rect x="1175.0" y="1688.3" width="151.3" height="88.6" fill="#f8f8f0"/>
<rect x="1175.0" y="1714.9" width="151.3" height="62.0" fill="#f0f0dc"/>
<rect x="1175.0" y="1737.0" width="151.3" height="39.9" fill="#e6e6c4"/>
<rect x="1175.0" y="1748.1" width="151.3" height="28.8" fill="#dcd8ac"/>
<rect x="1175.0" y="1755.6" width="151.3" height="21.3" fill="#d2b098"/>
<rect x="1175.0" y="1761.8" width="151.3" height="15.1" fill="#a06a6a"/>
<rect x="1175.0" y="1765.4" width="151.3" height="11.5" fill="#865757"/>
<rect x="1536.7" y="1688.3" width="391.9" height="88.6" fill="#f8f8f0"/>
<rect x="1536.7" y="1714.9" width="391.9" height="62.0" fill="#f0f0dc"/>
<rect x="1536.7" y="1737.0" width="391.9" height="39.9" fill="#e6e6c4"/>
<rect x="1536.7" y="1748.1" width="391.9" height="28.8" fill="#dcd8ac"/>
<rect x="1536.7" y="1755.6" width="391.9" height="21.3" fill="#d2b098"/>
<rect x="1536.7" y="1761.8" width="391.9" height="15.1" fill="#a06a6a"/>
<rect x="1536.7" y="1765.4" width="391.9" height="11.5" fill="#865757"/>
<polygon points="1330.1,1718.8 1330.4,1702.1 1330.9,1686.6 1331.3,1672.0 1331.8,1658.5 1332.4,1646.1 1333,1634.7 1333.7,1624.3 1334.4,1614.9 1335.1,1606.6 1336.3,1599.0 1337.9,1592.1 1339.9,1585.9 1342.4,1580.3 1345.3,1575.5 1348.6,1571.3 1352.3,1567.9 1356.4,1565.1 1362.2,1562.7 1369.5,1560.6 1378.5,1558.9 1389,1557.5 1401.2,1556.4 1414.9,1555.7 1430.3,1555.4 1447.2,1555.4 1462.4,1556.0 1475.6,1557.1 1487.1,1558.7 1496.7,1560.9 1504.5,1563.7 1510.4,1567.0 1514.5,1570.9 1516.8,1575.3 1519.1,1580.0 1521.4,1585.0 1523.8,1590.3 1526.3,1595.8 1528.8,1601.6 1531.3,1607.7 1533.9,1614.1 1536.5,1620.7 1539.3,1627.2 1542.1,1633.6 1545,1639.8 1548,1645.9 1551.1,1651.9 1554.3,1657.7 1557.6,1663.4 1561,1668.9 1564.6,1674.3 1568.4,1679.6 1572.3,1684.7 1576.5,1689.7 1580.8,1694.5 1585.3,1699.2 1590,1703.8 1594.9,1708.2 1599.9,1712.4 1605,1716.3 1610.2,1719.9 1615.5,1723.2 1620.8,1726.2 1626.3,1729.0 1631.9,1731.5 1637.5,1733.7 1643.2,1735.9 1648.8,1737.9 1654.5,1739.9 1660.1,1741.9 1665.8,1743.7 1671.4,1745.5 1677.1,1747.3 1682.7,1748.9 1687.7,1750.7 1691.9,1752.7 1695.5,1754.8 1698.3,1757.0 1700.4,1759.3 1701.8,1761.8 1702.5,1764.4 1702.5,1767.2 1696.7,1769.6 1685,1771.7 1667.5,1773.4 1644.1,1774.8 1614.9,1775.9 1579.9,1776.6 1539,1776.9 1492.3,1776.9 1451.4,1774.8 1416.5,1770.7 1387.4,1764.4 1364.2,1756.1 1347,1745.8 1335.6,1733.3" fill="#f5f5ea" />
<polygon points="1330.1,1730.4 1330.4,1717.1 1330.9,1704.9 1331.3,1693.8 1331.8,1683.9 1332.4,1675.0 1333,1667.3 1333.7,1660.6 1334.4,1655.1 1335.1,1650.6 1336.3,1646.6 1337.9,1643.0 1339.9,1639.8 1342.4,1637.1 1345.3,1634.7 1348.6,1632.8 1352.3,1631.3 1356.4,1630.2 1362.1,1629.3 1369.2,1628.6 1377.9,1628.1 1388.1,1627.8 1399.8,1627.7 1412.9,1627.9 1427.6,1628.2 1443.8,1628.8 1458.4,1629.6 1471.2,1630.7 1482.3,1632.1 1491.7,1633.8 1499.4,1635.7 1505.5,1637.9 1509.8,1640.4 1512.4,1643.2 1515.1,1646.1 1517.8,1649.3 1520.6,1652.7 1523.4,1656.3 1526.3,1660.1 1529.2,1664.1 1532.2,1668.4 1535.2,1672.8 1538.3,1677.2 1541.5,1681.4 1544.8,1685.7 1548.2,1689.8 1551.7,1693.9 1555.3,1697.9 1559,1701.9 1562.7,1705.7 1566.6,1709.5 1570.5,1713.1 1574.6,1716.5 1578.7,1719.9 1583,1723.0 1587.3,1726.1 1591.7,1729.0 1596.3,1731.8 1600.7,1734.4 1605,1736.8 1609.3,1739.0 1613.4,1741.1 1617.5,1743.0 1621.4,1744.7 1625.3,1746.3 1629,1747.7 1632.3,1749.3 1635.2,1751.1 1637.5,1753.1 1639.4,1755.3 1640.8,1757.7 1641.8,1760.4 1642.2,1763.2 1642.2,1766.2 1637.3,1768.9 1627.5,1771.2 1612.8,1773.1 1593.2,1774.6 1568.8,1775.8 1539.4,1776.5 1505.1,1776.9 1465.9,1776.9 1431.6,1775.2 1402.4,1771.9 1378,1766.9 1358.6,1760.3 1344.1,1752.0 1334.6,1742.0" fill="#eaebd2" />
<polygon points="1330.1,1738.1 1330.4,1727.1 1330.9,1717.0 1331.5,1707.8 1332.1,1699.7 1332.9,1692.5 1333.7,1686.2 1334.7,1681.0 1335.7,1676.7 1336.8,1673.3 1338.3,1670.4 1340.1,1667.7 1342.2,1665.5 1344.7,1663.5 1347.4,1661.9 1350.5,1660.7 1354,1659.8 1357.7,1659.2 1362.9,1658.8 1369.5,1658.5 1377.5,1658.4 1387,1658.4 1397.8,1658.5 1410,1658.8 1423.7,1659.2 1438.8,1659.8 1452.3,1660.5 1464.2,1661.5 1474.7,1662.7 1483.5,1664.1 1490.8,1665.7 1496.6,1667.5 1500.7,1669.5 1503.4,1671.7 1506.1,1674.1 1508.8,1676.7 1511.6,1679.6 1514.4,1682.6 1517.3,1685.9 1520.2,1689.3 1523.2,1693.0 1526.2,1696.9 1529.3,1700.7 1532.5,1704.4 1535.8,1708.1 1539.2,1711.7 1542.7,1715.2 1546.2,1718.7 1549.9,1722.1 1553.7,1725.4 1557.5,1728.5 1561.2,1731.4 1565,1734.1 1568.8,1736.6 1572.5,1738.9 1576.3,1741.0 1580.1,1742.8 1583.8,1744.5 1587.1,1746.4 1590,1748.5 1592.3,1750.7 1594.2,1753.2 1595.6,1755.9 1596.5,1758.8 1597,1761.9 1597,1765.3 1592.8,1768.2 1584.4,1770.7 1571.9,1772.7 1555.1,1774.4 1534.1,1775.7 1509,1776.5 1479.6,1776.9 1446.1,1776.9 1416.8,1775.5 1391.8,1772.7 1370.9,1768.6 1354.4,1763.1 1342,1756.1 1333.9,1747.8" fill="#dcdab4" />
<polygon points="1331.6,1722.1 1331.9,1716.5 1332.4,1711.3 1332.9,1706.5 1333.5,1702.0 1334.2,1697.9 1334.9,1694.0 1335.7,1690.6 1336.6,1687.5 1337.5,1684.7 1339,1682.2 1341.1,1680.0 1343.9,1678.1 1347.2,1676.4 1351,1675.0 1355.5,1673.9 1360.6,1673.1 1366.2,1672.5 1372.3,1672.1 1378.9,1671.8 1386,1671.7 1393.5,1671.7 1401.6,1671.8 1410,1672.1 1419,1672.5 1428.4,1673.1 1437.1,1673.8 1445.1,1674.6 1452.4,1675.6 1459,1676.7 1464.9,1677.9 1470.1,1679.3 1474.6,1680.8 1478.3,1682.5 1482,1684.3 1485.4,1686.2 1488.8,1688.3 1492,1690.5 1495,1692.9 1498,1695.4 1500.7,1698.0 1503.4,1700.8 1506.1,1703.6 1508.8,1706.5 1511.6,1709.5 1514.4,1712.5 1517.3,1715.6 1520.2,1718.8 1523.2,1722.1 1526.2,1725.4 1528.3,1728.4 1529.7,1731.2 1530.1,1733.7 1529.8,1735.9 1528.5,1737.9 1526.5,1739.5 1523.5,1740.9 1519.8,1742.0 1515.1,1742.9 1509.4,1743.6 1502.8,1744.1 1495.3,1744.4 1486.8,1744.4 1477.4,1744.3 1467,1744.0 1455.7,1743.4 1444.6,1742.9 1433.8,1742.5 1423.2,1742.2 1412.9,1741.9 1402.7,1741.7 1392.8,1741.5 1383.2,1741.5 1373.8,1741.5 1365.4,1741.5 1358,1741.5 1351.6,1741.5 1346.2,1741.5 1341.9,1741.5 1338.5,1741.5 1336.2,1741.5 1334.9,1741.5 1333.8,1740.8 1332.9,1739.4 1332.2,1737.3 1331.7,1734.5 1331.4,1731.1 1331.4,1726.9" fill="#d8c0a8" />
<polygon points="1337.4,1692.9 1338.2,1690.4 1339.3,1688.2 1340.8,1686.4 1342.7,1685.0 1344.9,1683.9 1347.6,1683.1 1350.6,1682.7 1354,1682.6 1357.7,1682.9 1361.5,1683.3 1365.3,1683.8 1369.1,1684.4 1372.8,1685.0 1376.6,1685.8 1380.4,1686.7 1384.1,1687.7 1387.9,1688.9 1390.7,1690.0 1392.6,1691.2 1393.5,1692.4 1393.5,1693.6 1392.6,1694.9 1390.7,1696.2 1387.9,1697.6 1384.1,1699.0 1380.4,1700.2 1376.7,1701.3 1373.1,1702.3 1369.5,1703.1 1366,1703.8 1362.5,1704.4 1359.1,1704.8 1355.7,1705.1 1352.6,1705.2 1349.7,1705.3 1347.2,1705.3 1344.9,1705.1 1343,1704.9 1341.3,1704.5 1339.8,1704.1 1338.7,1703.5 1337.8,1702.7 1337.2,1701.7 1336.7,1700.4 1336.6,1698.9 1336.6,1697.1 1336.9,1695.1" fill="#c8a098" fill-opacity="0.8" />
<polygon points="1329.4,1769.1 1329.6,1766.9 1331.6,1765.0 1335.3,1763.4 1340.9,1762.0 1348.2,1761.0 1357.4,1760.2 1368.3,1759.7 1381,1759.6 1395.5,1759.7 1408.9,1759.8 1421.2,1759.9 1432.4,1760.1 1442.5,1760.2 1451.5,1760.3 1459.3,1760.5 1466.1,1760.6 1471.7,1760.8 1477.4,1761.0 1483,1761.1 1488.7,1761.3 1494.3,1761.5 1500,1761.6 1505.6,1761.8 1511.3,1762.0 1516.9,1762.1 1522.1,1762.5 1526.8,1763.1 1531.1,1763.8 1534.8,1764.8 1538.1,1766.0 1541,1767.4 1543.3,1768.9 1545.2,1770.7 1543.4,1772.2 1537.8,1773.6 1528.5,1774.7 1515.5,1775.6 1498.8,1776.2 1478.4,1776.7 1454.2,1776.9 1426.3,1776.9 1402,1776.6 1381.1,1776.1 1363.7,1775.2 1349.9,1774.1 1339.5,1772.7 1332.7,1771.1" fill="#c09088" />
<polygon points="1340.8,1773.0 1340.8,1772.1 1342.2,1771.3 1345,1770.6 1349.3,1770.1 1354.9,1769.6 1362,1769.3 1370.5,1769.0 1380.4,1768.9 1391.7,1768.9 1402,1769.0 1411.4,1769.1 1419.9,1769.3 1427.5,1769.5 1434,1769.8 1439.7,1770.1 1444.4,1770.5 1448.2,1770.9 1451.6,1771.4 1454.7,1771.8 1457.5,1772.3 1460,1772.7 1462.1,1773.2 1463.9,1773.7 1465.3,1774.1 1466.5,1774.6 1465.4,1775.0 1462.2,1775.4 1456.8,1775.6 1449.3,1775.9 1439.6,1776.1 1427.7,1776.2 1413.7,1776.2 1397.5,1776.2 1383.3,1776.1 1371.2,1775.9 1361,1775.6 1352.9,1775.1 1346.9,1774.5 1342.8,1773.8" fill="#f0e4dc" />
<polyline points="1331.7,1685.8 1332.3,1684.0 1333.4,1680.5 1335.1,1675.1 1337.4,1667.9 1341,1661.9 1345.9,1657.0 1352.1,1653.3 1359.6,1650.7 1370.4,1648.7 1384.3,1647.4 1401.5,1646.8 1421.8,1646.8 1439.9,1650.5 1455.8,1657.8 1469.3,1668.7 1480.6,1683.4 1492,1696.4 1503.3,1707.8 1514.6,1717.5 1525.9,1725.7 1540,1733.1 1556.9,1739.8 1576.7,1745.9 1599.3,1751.2 1616.3,1755.2 1627.6,1757.8 1633.3,1759.2" fill="none" stroke="#dcdcb0" stroke-width="0.9" stroke-opacity="0.6" stroke-linejoin="round"/>
<polyline points="1331.7,1675.8 1332.3,1673.8 1333.4,1669.9 1335.1,1663.9 1337.4,1656.0 1341,1649.3 1345.9,1643.9 1352.1,1639.7 1359.6,1636.8 1370.9,1634.7 1385.9,1633.2 1404.7,1632.5 1427.2,1632.5 1446.9,1636.6 1463.8,1644.7 1477.9,1656.9 1489.2,1673.1 1500.5,1687.6 1511.8,1700.2 1523.1,1711.0 1534.4,1720.0 1548.6,1728.4 1565.5,1736.1 1585.3,1743.2 1607.9,1749.6 1624.9,1754.4 1636.2,1757.6 1641.8,1759.2" fill="none" stroke="#dcdcb0" stroke-width="0.9" stroke-opacity="0.6" stroke-linejoin="round"/>
<polyline points="1331.7,1666.9 1332.3,1664.7 1333.4,1660.4 1335.1,1653.9 1337.4,1645.3 1341,1638.0 1345.9,1632.1 1352.1,1627.6 1359.6,1624.4 1370.3,1622.1 1384.1,1620.5 1401,1619.7 1421,1619.7 1438.9,1624.1 1454.5,1633.0 1468,1646.2 1479.3,1663.9 1490.6,1679.6 1501.9,1693.4 1513.2,1705.2 1524.5,1715.0 1538.7,1724.2 1555.6,1732.8 1575.4,1740.8 1598,1748.1 1615,1753.7 1626.3,1757.3 1631.9,1759.2" fill="none" stroke="#dcdcb0" stroke-width="0.9" stroke-opacity="0.6" stroke-linejoin="round"/>
<polyline points="1331.7,1690.1 1332.3,1688.4 1333.4,1684.9 1335.1,1679.8 1337.4,1673.0 1341,1667.3 1345.9,1662.6 1352.1,1659.0 1359.6,1656.6 1370.8,1654.7 1385.7,1653.5 1404.3,1652.8 1426.6,1652.8 1446.1,1656.3 1462.9,1663.3 1476.9,1673.8 1488.2,1687.7 1499.5,1700.1 1510.8,1711.0 1522.1,1720.3 1533.5,1728.1 1547.6,1735.1 1564.5,1741.4 1584.3,1747.0 1606.9,1751.9 1623.9,1755.5 1635.2,1758.0 1640.8,1759.2" fill="none" stroke="#dcdcb0" stroke-width="0.9" stroke-opacity="0.6" stroke-linejoin="round"/>
<polyline points="1331.7,1683.1 1332.3,1681.3 1333.4,1677.6 1335.1,1672.1 1337.4,1664.7 1341,1658.5 1345.9,1653.5 1352.1,1649.7 1359.6,1647.0 1372,1645.0 1389.3,1643.6 1411.5,1643.0 1438.6,1643.0 1461.7,1646.7 1480.9,1654.3 1496.1,1665.6 1507.4,1680.6 1518.7,1694.0 1530,1705.8 1541.3,1715.8 1552.7,1724.2 1566.8,1731.8 1583.7,1738.8 1603.5,1745.1 1626.1,1750.8 1643.1,1755.0 1654.4,1757.8 1660,1759.2" fill="none" stroke="#dcdcb0" stroke-width="0.9" stroke-opacity="0.6" stroke-linejoin="round"/>
<polyline points="1331.7,1688.3 1332.3,1686.6 1333.4,1683.1 1335.1,1677.9 1337.4,1670.9 1341,1665.1 1345.9,1660.3 1352.1,1656.7 1359.6,1654.2 1374.9,1652.3 1398,1651.0 1428.8,1650.4 1467.5,1650.4 1499.2,1653.9 1524.2,1661.1 1542.3,1671.7 1553.6,1686.0 1564.9,1698.6 1576.2,1709.7 1587.5,1719.2 1598.8,1727.1 1613,1734.3 1629.9,1740.8 1649.7,1746.5 1672.3,1751.6 1689.3,1755.4 1700.6,1757.9 1706.2,1759.2" fill="none" stroke="#dcdcb0" stroke-width="0.9" stroke-opacity="0.6" stroke-linejoin="round"/>
<polyline points="1331.7,1648.2 1332.3,1645.7 1333.4,1640.6 1335.1,1633.0 1337.4,1622.9 1341,1614.4 1345.9,1607.5 1352.1,1602.2 1359.6,1598.5 1370.8,1595.8 1385.7,1593.9 1404.2,1593.0 1426.4,1593.0 1445.9,1598.2 1462.7,1608.5 1476.7,1624.0 1488,1644.7 1499.3,1663.1 1510.6,1679.2 1521.9,1693.0 1533.2,1704.5 1547.3,1715.5 1564.3,1725.9 1584.1,1735.8 1606.7,1745.1 1623.6,1752.2 1634.9,1756.8 1640.6,1759.2" fill="none" stroke="#dcdcb0" stroke-width="0.9" stroke-opacity="0.6" stroke-linejoin="round"/>
<polyline points="1331.7,1672.9 1332.3,1670.8 1333.4,1666.7 1335.1,1660.6 1337.4,1652.4 1341,1645.6 1345.9,1640.0 1352.1,1635.7 1359.6,1632.7 1372,1630.5 1389.1,1629.0 1411,1628.3 1437.7,1628.3 1460.5,1632.5 1479.5,1640.8 1494.7,1653.4 1506,1670.1 1517.3,1684.9 1528.6,1697.9 1539.9,1709.1 1551.2,1718.4 1565.3,1727.0 1582.3,1735.0 1602.1,1742.4 1624.7,1749.1 1641.6,1754.1 1652.9,1757.5 1658.6,1759.2" fill="none" stroke="#dcdcb0" stroke-width="0.9" stroke-opacity="0.6" stroke-linejoin="round"/>
<polyline points="1331.7,1665.2 1332.3,1663.0 1333.4,1658.6 1335.1,1652.1 1337.4,1643.3 1341,1635.9 1345.9,1629.9 1352.1,1625.3 1359.6,1622.2 1370.7,1619.8 1385.3,1618.2 1403.4,1617.4 1425,1617.4 1444,1621.9 1460.5,1630.8 1474.4,1644.3 1485.7,1662.2 1497,1678.2 1508.3,1692.1 1519.6,1704.1 1530.9,1714.1 1545,1723.4 1562,1732.2 1581.7,1740.3 1604.4,1747.9 1621.3,1753.5 1632.6,1757.3 1638.3,1759.2" fill="none" stroke="#dcdcb0" stroke-width="0.9" stroke-opacity="0.6" stroke-linejoin="round"/>
<polyline points="1331.7,1632.2 1332.3,1629.3 1333.4,1623.6 1335.1,1615.1 1337.4,1603.7 1341,1594.2 1345.9,1586.4 1352.1,1580.5 1359.6,1576.3 1375.6,1573.2 1400,1571.2 1432.9,1570.1 1474.2,1570.1 1508,1575.9 1534.3,1587.6 1553.1,1605.0 1564.4,1628.3 1575.7,1649.0 1587,1667.0 1598.3,1682.6 1609.6,1695.5 1623.7,1707.9 1640.7,1719.9 1660.4,1731.5 1683.1,1742.6 1700,1750.9 1711.3,1756.4 1717,1759.2" fill="none" stroke="#dcdcb0" stroke-width="0.9" stroke-opacity="0.6" stroke-linejoin="round"/>
<polyline points="1331.7,1658.3 1332.3,1656.0 1333.4,1651.3 1335.1,1644.3 1337.4,1635.0 1341,1627.1 1345.9,1620.8 1352.1,1615.9 1359.6,1612.5 1372.7,1610.0 1391.4,1608.3 1415.6,1607.4 1445.4,1607.4 1470.5,1612.2 1491.1,1621.7 1507,1636.0 1518.3,1655.1 1529.6,1672.0 1540.9,1686.9 1552.2,1699.6 1563.5,1710.2 1577.7,1720.2 1594.6,1729.6 1614.4,1738.5 1637,1746.8 1654,1753.0 1665.3,1757.1 1670.9,1759.2" fill="none" stroke="#dcdcb0" stroke-width="0.9" stroke-opacity="0.6" stroke-linejoin="round"/>
<polyline points="1331.7,1684.2 1332.3,1682.4 1333.4,1678.8 1335.1,1673.3 1337.4,1666.0 1341,1659.9 1345.9,1654.9 1352.1,1651.1 1359.6,1648.5 1370.6,1646.5 1384.9,1645.2 1402.7,1644.5 1423.8,1644.5 1442.5,1648.2 1458.7,1655.7 1472.5,1666.8 1483.8,1681.7 1495.1,1695.0 1506.4,1706.6 1517.7,1716.5 1529,1724.8 1543.1,1732.3 1560.1,1739.2 1579.9,1745.4 1602.5,1750.9 1619.4,1755.1 1630.7,1757.8 1636.4,1759.2" fill="none" stroke="#dcdcb0" stroke-width="0.9" stroke-opacity="0.6" stroke-linejoin="round"/>
<polyline points="1331.7,1666.7 1332.3,1664.5 1333.4,1660.2 1335.1,1653.7 1337.4,1645.0 1341,1637.8 1345.9,1631.9 1352.1,1627.3 1359.6,1624.2 1371.5,1621.8 1387.7,1620.3 1408.2,1619.5 1433,1619.5 1454.4,1623.9 1472.5,1632.8 1487.2,1646.0 1498.5,1663.7 1509.8,1679.5 1521.1,1693.3 1532.4,1705.1 1543.7,1714.9 1557.8,1724.1 1574.8,1732.7 1594.6,1740.7 1617.2,1748.1 1634.1,1753.6 1645.5,1757.3 1651.1,1759.2" fill="none" stroke="#dcdcb0" stroke-width="0.9" stroke-opacity="0.6" stroke-linejoin="round"/>
<polyline points="1331.7,1633.5 1332.3,1630.7 1333.4,1625.1 1335.1,1616.6 1337.4,1605.4 1341,1595.9 1345.9,1588.2 1352.1,1582.3 1359.6,1578.2 1370.9,1575.2 1385.9,1573.1 1404.7,1572.1 1427.2,1572.1 1446.9,1577.8 1463.8,1589.4 1477.9,1606.6 1489.2,1629.7 1500.5,1650.2 1511.8,1668.1 1523.1,1683.5 1534.4,1696.3 1548.5,1708.6 1565.5,1720.5 1585.2,1731.9 1607.8,1742.8 1624.8,1751.0 1636.1,1756.4 1641.8,1759.2" fill="none" stroke="#dcdcb0" stroke-width="0.9" stroke-opacity="0.6" stroke-linejoin="round"/>
<polyline points="1331.7,1688.5 1332.3,1686.8 1333.4,1683.3 1335.1,1678.1 1337.4,1671.1 1341,1665.3 1345.9,1660.6 1352.1,1656.9 1359.6,1654.4 1375.4,1652.5 1399.3,1651.2 1431.4,1650.6 1471.8,1650.6 1504.9,1654.2 1530.7,1661.3 1549.3,1671.9 1560.6,1686.1 1571.9,1698.8 1583.2,1709.8 1594.5,1719.3 1605.8,1727.2 1619.9,1734.4 1636.9,1740.8 1656.6,1746.6 1679.2,1751.6 1696.2,1755.4 1707.5,1757.9 1713.2,1759.2" fill="none" stroke="#dcdcb0" stroke-width="0.9" stroke-opacity="0.6" stroke-linejoin="round"/>
<polyline points="1331.7,1654.0 1332.3,1651.6 1333.4,1646.8 1335.1,1639.6 1337.4,1629.9 1341,1621.8 1345.9,1615.2 1352.1,1610.2 1359.6,1606.6 1370.8,1604.0 1385.7,1602.3 1404.2,1601.4 1426.3,1601.4 1445.8,1606.3 1462.5,1616.2 1476.5,1631.0 1487.8,1650.7 1499.1,1668.3 1510.4,1683.7 1521.7,1696.8 1533,1707.8 1547.2,1718.2 1564.1,1728.1 1583.9,1737.3 1606.5,1746.1 1623.5,1752.6 1634.8,1757.0 1640.4,1759.2" fill="none" stroke="#dcdcb0" stroke-width="0.9" stroke-opacity="0.6" stroke-linejoin="round"/>
<polyline points="1331.7,1653.0 1332.3,1650.6 1333.4,1645.7 1335.1,1638.4 1337.4,1628.7 1341,1620.5 1345.9,1613.9 1352.1,1608.8 1359.6,1605.2 1370.1,1602.6 1383.6,1600.8 1400.1,1599.9 1419.6,1599.9 1437,1604.9 1452.4,1614.9 1465.7,1629.8 1477,1649.7 1488.3,1667.4 1499.6,1682.9 1510.9,1696.2 1522.2,1707.2 1536.3,1717.7 1553.3,1727.7 1573.1,1737.1 1595.7,1745.9 1612.6,1752.5 1624,1757.0 1629.6,1759.2" fill="none" stroke="#dcdcb0" stroke-width="0.9" stroke-opacity="0.6" stroke-linejoin="round"/>
<polyline points="1331.7,1654.0 1332.3,1651.6 1333.4,1646.8 1335.1,1639.6 1337.4,1629.9 1341,1621.8 1345.9,1615.2 1352.1,1610.2 1359.6,1606.7 1375.5,1604.0 1399.8,1602.3 1432.4,1601.4 1473.3,1601.4 1506.9,1606.3 1533,1616.2 1551.7,1631.0 1563,1650.8 1574.3,1668.3 1585.7,1683.7 1597,1696.8 1608.3,1707.8 1622.4,1718.2 1639.3,1728.1 1659.1,1737.3 1681.7,1746.1 1698.7,1752.6 1710,1757.0 1715.6,1759.2" fill="none" stroke="#dcdcb0" stroke-width="0.9" stroke-opacity="0.6" stroke-linejoin="round"/>
<polyline points="1331.7,1631.2 1332.3,1628.3 1333.4,1622.6 1335.1,1614.0 1337.4,1602.5 1341,1592.9 1345.9,1585.1 1352.1,1579.1 1359.6,1575.0 1373.9,1571.8 1395,1569.8 1422.8,1568.7 1457.4,1568.7 1486.1,1574.6 1509.1,1586.3 1526.2,1603.9 1537.5,1627.3 1548.8,1648.1 1560.1,1666.3 1571.4,1681.9 1582.7,1694.9 1596.9,1707.5 1613.8,1719.6 1633.6,1731.2 1656.2,1742.4 1673.2,1750.8 1684.5,1756.4 1690.1,1759.2" fill="none" stroke="#dcdcb0" stroke-width="0.9" stroke-opacity="0.6" stroke-linejoin="round"/>
<polyline points="1331.7,1672.3 1332.3,1670.2 1333.4,1666.1 1335.1,1659.9 1337.4,1651.7 1341,1644.8 1345.9,1639.2 1352.1,1634.9 1359.6,1631.9 1372.1,1629.7 1389.4,1628.2 1411.6,1627.4 1438.8,1627.4 1461.9,1631.6 1481.2,1640.0 1496.4,1652.6 1507.7,1669.5 1519,1684.4 1530.3,1697.5 1541.6,1708.7 1552.9,1718.0 1567.1,1726.7 1584,1734.8 1603.8,1742.2 1626.4,1749.0 1643.4,1754.1 1654.7,1757.5 1660.3,1759.2" fill="none" stroke="#dcdcb0" stroke-width="0.9" stroke-opacity="0.6" stroke-linejoin="round"/>
<polyline points="1331.7,1678.7 1332.3,1676.7 1333.4,1672.9 1335.1,1667.1 1337.4,1659.4 1341,1652.9 1345.9,1647.6 1352.1,1643.6 1359.6,1640.8 1374.4,1638.7 1396.3,1637.3 1425.4,1636.6 1461.7,1636.6 1491.7,1640.5 1515.5,1648.4 1533.1,1660.3 1544.4,1676.0 1555.7,1690.1 1567,1702.4 1578.3,1712.9 1589.6,1721.6 1603.7,1729.8 1620.7,1737.2 1640.4,1743.9 1663.1,1750.0 1680,1754.6 1691.3,1757.7 1697,1759.2" fill="none" stroke="#dcdcb0" stroke-width="0.9" stroke-opacity="0.6" stroke-linejoin="round"/>
<polyline points="1331.7,1653.7 1332.3,1651.3 1333.4,1646.5 1335.1,1639.2 1337.4,1629.5 1341,1621.4 1345.9,1614.8 1352.1,1609.8 1359.6,1606.2 1374.4,1603.6 1396.4,1601.8 1425.6,1601.0 1462.1,1601.0 1492.2,1605.9 1516.1,1615.8 1533.7,1630.6 1545,1650.4 1556.3,1668.0 1567.6,1683.4 1578.9,1696.6 1590.2,1707.6 1604.4,1718.1 1621.3,1727.9 1641.1,1737.3 1663.7,1746.0 1680.7,1752.6 1692,1757.0 1697.6,1759.2" fill="none" stroke="#dcdcb0" stroke-width="0.9" stroke-opacity="0.6" stroke-linejoin="round"/>
<polyline points="1331.7,1667.6 1332.3,1665.4 1333.4,1661.1 1335.1,1654.7 1337.4,1646.1 1341,1638.9 1345.9,1633.0 1352.1,1628.5 1359.6,1625.4 1371.3,1623.1 1387,1621.5 1406.8,1620.7 1430.6,1620.7 1451.4,1625.1 1469,1633.9 1483.4,1647.1 1494.7,1664.7 1506,1680.3 1517.3,1693.9 1528.6,1705.6 1539.9,1715.4 1554.1,1724.5 1571,1733.1 1590.8,1741.0 1613.4,1748.3 1630.4,1753.7 1641.7,1757.4 1647.3,1759.2" fill="none" stroke="#dcdcb0" stroke-width="0.9" stroke-opacity="0.6" stroke-linejoin="round"/>
<polyline points="1331.7,1634.7 1332.3,1631.9 1333.4,1626.3 1335.1,1618.0 1337.4,1606.8 1341,1597.4 1345.9,1589.8 1352.1,1583.9 1359.6,1579.9 1375.6,1576.8 1399.9,1574.8 1432.6,1573.8 1473.7,1573.8 1507.4,1579.5 1533.6,1590.9 1552.3,1608.0 1563.6,1630.9 1574.9,1651.2 1586.2,1669.0 1597.5,1684.2 1608.8,1696.9 1623,1709.1 1639.9,1720.9 1659.7,1732.2 1682.3,1743.0 1699.3,1751.1 1710.6,1756.5 1716.2,1759.2" fill="none" stroke="#dcdcb0" stroke-width="0.9" stroke-opacity="0.6" stroke-linejoin="round"/>
<polyline points="1331.7,1631.9 1332.3,1629.1 1333.4,1623.4 1335.1,1614.8 1337.4,1603.4 1341,1593.8 1345.9,1586.1 1352.1,1580.1 1359.6,1576.0 1374.5,1572.9 1396.8,1570.8 1426.5,1569.8 1463.6,1569.8 1494.2,1575.6 1518.4,1587.2 1536.1,1604.7 1547.5,1628.0 1558.8,1648.7 1570.1,1666.9 1581.4,1682.4 1592.7,1695.3 1606.8,1707.8 1623.8,1719.9 1643.5,1731.4 1666.1,1742.5 1683.1,1750.9 1694.4,1756.4 1700.1,1759.2" fill="none" stroke="#dcdcb0" stroke-width="0.9" stroke-opacity="0.6" stroke-linejoin="round"/>
<polyline points="1331.7,1634.2 1332.3,1631.4 1333.4,1625.8 1335.1,1617.4 1337.4,1606.2 1341,1596.8 1345.9,1589.2 1352.1,1583.3 1359.6,1579.2 1374.2,1576.2 1395.7,1574.1 1424.3,1573.1 1459.9,1573.1 1489.4,1578.8 1512.8,1590.3 1530.2,1607.5 1541.5,1630.4 1552.8,1650.8 1564.1,1668.6 1575.4,1683.9 1586.7,1696.7 1600.8,1708.9 1617.8,1720.7 1637.5,1732.0 1660.2,1742.9 1677.1,1751.0 1688.4,1756.5 1694.1,1759.2" fill="none" stroke="#dcdcb0" stroke-width="0.9" stroke-opacity="0.6" stroke-linejoin="round"/>
<polyline points="1331.7,1674.6 1332.3,1672.6 1333.4,1668.6 1335.1,1662.5 1337.4,1654.5 1341,1647.8 1345.9,1642.3 1352.1,1638.1 1359.6,1635.1 1372.9,1633.0 1392,1631.5 1416.8,1630.8 1447.3,1630.8 1473,1634.9 1493.9,1643.1 1510.1,1655.4 1521.4,1671.9 1532.7,1686.5 1544,1699.3 1555.3,1710.2 1566.6,1719.4 1580.7,1727.8 1597.7,1735.7 1617.5,1742.9 1640.1,1749.4 1657,1754.3 1668.3,1757.5 1674,1759.2" fill="none" stroke="#dcdcb0" stroke-width="0.9" stroke-opacity="0.6" stroke-linejoin="round"/>
<polyline points="1331.7,1665.8 1332.3,1663.6 1333.4,1659.3 1335.1,1652.7 1337.4,1644.0 1341,1636.7 1345.9,1630.7 1352.1,1626.1 1359.6,1623.0 1370.2,1620.6 1383.7,1619.0 1400.2,1618.2 1419.7,1618.2 1437.1,1622.7 1452.5,1631.6 1465.9,1645.0 1477.2,1662.8 1488.5,1678.7 1499.8,1692.6 1511.1,1704.5 1522.4,1714.4 1536.5,1723.7 1553.5,1732.4 1573.3,1740.5 1595.9,1748.0 1612.8,1753.6 1624.1,1757.3 1629.8,1759.2" fill="none" stroke="#dcdcb0" stroke-width="0.9" stroke-opacity="0.6" stroke-linejoin="round"/>
<rect x="183.5" y="1995.0" width="151.1" height="90.9" fill="#d6bea4"/>
<rect x="183.5" y="2010.5" width="151.1" height="75.4" fill="#c49a8a"/>
<rect x="183.5" y="2023.8" width="151.1" height="62.1" fill="#b27a78"/>
<rect x="183.5" y="2041.5" width="151.1" height="44.4" fill="#966262"/>
<rect x="183.5" y="2048.2" width="151.1" height="37.7" fill="#865757"/>
<rect x="556.7" y="1995.0" width="379.3" height="90.9" fill="#d6bea4"/>
<rect x="556.7" y="2010.5" width="379.3" height="75.4" fill="#c49a8a"/>
<rect x="556.7" y="2023.8" width="379.3" height="62.1" fill="#b27a78"/>
<rect x="556.7" y="2041.5" width="379.3" height="44.4" fill="#966262"/>
<rect x="556.7" y="2048.2" width="379.3" height="37.7" fill="#865757"/>
<rect x="183.5" y="1991.2" width="151.1" height="2.7" fill="#d6c8a2"/>
<rect x="556.7" y="1991.2" width="379.3" height="2.7" fill="#d6c8a2"/>
<rect x="183.5" y="1987.6" width="151.1" height="2.7" fill="#dcdcaa"/>
<rect x="556.7" y="1987.6" width="379.3" height="2.7" fill="#dcdcaa"/>
<rect x="183.5" y="1983.5" width="151.1" height="2.7" fill="#dcdcaa"/>
<rect x="556.7" y="1983.5" width="379.3" height="2.7" fill="#dcdcaa"/>
<rect x="183.5" y="1979.5" width="151.1" height="2.7" fill="#d6c8a2"/>
<rect x="556.7" y="1979.5" width="379.3" height="2.7" fill="#d6c8a2"/>
<rect x="183.5" y="1974.8" width="151.1" height="2.7" fill="#dcdcaa"/>
<rect x="556.7" y="1974.8" width="379.3" height="2.7" fill="#dcdcaa"/>
<rect x="183.5" y="1969.5" width="151.1" height="2.7" fill="#dcdcaa"/>
<rect x="556.7" y="1969.5" width="379.3" height="2.7" fill="#dcdcaa"/>
<rect x="183.5" y="1965.2" width="151.1" height="2.7" fill="#d6c8a2"/>
<rect x="556.7" y="1965.2" width="379.3" height="2.7" fill="#d6c8a2"/>
<rect x="183.5" y="1960.0" width="151.1" height="2.7" fill="#dcdcaa"/>
<rect x="556.7" y="1960.0" width="379.3" height="2.7" fill="#dcdcaa"/>
<rect x="183.5" y="1954.7" width="151.1" height="2.7" fill="#dcdcaa"/>
<rect x="556.7" y="1954.7" width="379.3" height="2.7" fill="#dcdcaa"/>
<rect x="183.5" y="1949.4" width="151.1" height="2.7" fill="#d6c8a2"/>
<rect x="556.7" y="1949.4" width="379.3" height="2.7" fill="#d6c8a2"/>
<rect x="183.5" y="1945.2" width="151.1" height="2.7" fill="#dcdcaa"/>
<rect x="556.7" y="1945.2" width="379.3" height="2.7" fill="#dcdcaa"/>
<rect x="183.5" y="1941.3" width="151.1" height="2.7" fill="#dcdcaa"/>
<rect x="556.7" y="1941.3" width="379.3" height="2.7" fill="#dcdcaa"/>
<rect x="183.5" y="1937.3" width="151.1" height="2.7" fill="#d6c8a2"/>
<rect x="556.7" y="1937.3" width="379.3" height="2.7" fill="#d6c8a2"/>
<rect x="183.5" y="1933.4" width="151.1" height="2.7" fill="#dcdcaa"/>
<rect x="556.7" y="1933.4" width="379.3" height="2.7" fill="#dcdcaa"/>
<rect x="183.5" y="1913.6" width="151.1" height="1.6" fill="#dcdcaa"/>
<rect x="556.7" y="1913.6" width="379.3" height="1.6" fill="#dcdcaa"/>
<polygon points="556.7,1995.0 556.7,1875.2 589.9,1897.4 635,1926.2 680.1,1948.4 710.2,1961.7 740.4,1975.0 770.5,1986.1 785.5,1995.0" fill="#e8e4c8" fill-opacity="0.5" />
<polyline points="550.7,1912.7 562.8,1912.7 691,1932.8 936,1932.8" fill="none" stroke="#d8d8a6" stroke-width="1.2" stroke-opacity="0.75" stroke-linejoin="round"/>
<polyline points="550.7,1927.1 562.8,1927.1 686.1,1949.3 936,1949.3" fill="none" stroke="#d8d8a6" stroke-width="1.2" stroke-opacity="0.75" stroke-linejoin="round"/>
<polyline points="550.7,1966.5 562.8,1966.5 699.4,1977.6 936,1977.6" fill="none" stroke="#d8d8a6" stroke-width="1.2" stroke-opacity="0.75" stroke-linejoin="round"/>
<polyline points="550.7,1896.9 562.8,1896.9 647.4,1942.8 936,1942.8" fill="none" stroke="#d8d8a6" stroke-width="1.2" stroke-opacity="0.75" stroke-linejoin="round"/>
<polyline points="550.7,1957.2 562.8,1957.2 629.9,1968.3 936,1968.3" fill="none" stroke="#d8d8a6" stroke-width="1.2" stroke-opacity="0.75" stroke-linejoin="round"/>
<polyline points="550.7,1895.1 562.8,1895.1 637.5,1928.1 936,1928.1" fill="none" stroke="#d8d8a6" stroke-width="1.2" stroke-opacity="0.75" stroke-linejoin="round"/>
<polyline points="550.7,1934.9 562.8,1934.9 677.1,1946.0 936,1946.0" fill="none" stroke="#d8d8a6" stroke-width="1.2" stroke-opacity="0.75" stroke-linejoin="round"/>
<polyline points="550.7,1958.0 562.8,1958.0 608,1984.3 936,1984.3" fill="none" stroke="#d8d8a6" stroke-width="1.2" stroke-opacity="0.75" stroke-linejoin="round"/>
<polyline points="550.7,1884.7 562.8,1884.7 607.4,1939.1 936,1939.1" fill="none" stroke="#d8d8a6" stroke-width="1.2" stroke-opacity="0.75" stroke-linejoin="round"/>
<polyline points="550.7,1892.5 562.8,1892.5 669,1927.5 936,1927.5" fill="none" stroke="#d8d8a6" stroke-width="1.2" stroke-opacity="0.75" stroke-linejoin="round"/>
<polyline points="550.7,1940.0 562.8,1940.0 605.6,1956.2 936,1956.2" fill="none" stroke="#d8d8a6" stroke-width="1.2" stroke-opacity="0.75" stroke-linejoin="round"/>
<polyline points="550.7,1973.6 562.8,1973.6 668.1,1984.7 936,1984.7" fill="none" stroke="#d8d8a6" stroke-width="1.2" stroke-opacity="0.75" stroke-linejoin="round"/>
<polyline points="550.7,1922.4 562.8,1922.4 642.1,1930.6 936,1930.6" fill="none" stroke="#d8d8a6" stroke-width="1.2" stroke-opacity="0.75" stroke-linejoin="round"/>
<polyline points="550.7,1888.0 562.8,1888.0 615.3,1937.8 936,1937.8" fill="none" stroke="#d8d8a6" stroke-width="1.2" stroke-opacity="0.75" stroke-linejoin="round"/>
<polyline points="550.7,1949.9 562.8,1949.9 618.8,1973.2 936,1973.2" fill="none" stroke="#d8d8a6" stroke-width="1.2" stroke-opacity="0.75" stroke-linejoin="round"/>
<polyline points="550.7,1916.5 562.8,1916.5 640.3,1975.5 936,1975.5" fill="none" stroke="#d8d8a6" stroke-width="1.2" stroke-opacity="0.75" stroke-linejoin="round"/>
<polyline points="550.7,1961.9 562.8,1961.9 632.4,1973.0 936,1973.0" fill="none" stroke="#d8d8a6" stroke-width="1.2" stroke-opacity="0.75" stroke-linejoin="round"/>
<polyline points="550.7,1929.3 562.8,1929.3 698.7,1953.9 936,1953.9" fill="none" stroke="#d8d8a6" stroke-width="1.2" stroke-opacity="0.75" stroke-linejoin="round"/>
<polyline points="550.7,1933.0 562.8,1933.0 650.2,1944.1 936,1944.1" fill="none" stroke="#d8d8a6" stroke-width="1.2" stroke-opacity="0.75" stroke-linejoin="round"/>
<polyline points="550.7,1921.9 562.8,1921.9 592.1,1957.9 936,1957.9" fill="none" stroke="#d8d8a6" stroke-width="1.2" stroke-opacity="0.75" stroke-linejoin="round"/>
<polyline points="550.7,1931.1 562.8,1931.1 590.3,1980.6 936,1980.6" fill="none" stroke="#d8d8a6" stroke-width="1.2" stroke-opacity="0.75" stroke-linejoin="round"/>
<polyline points="550.7,1895.2 562.8,1895.2 646.9,1981.3 936,1981.3" fill="none" stroke="#d8d8a6" stroke-width="1.2" stroke-opacity="0.75" stroke-linejoin="round"/>
<polyline points="550.7,1902.6 562.8,1902.6 629.1,1955.7 936,1955.7" fill="none" stroke="#d8d8a6" stroke-width="1.2" stroke-opacity="0.75" stroke-linejoin="round"/>
<polyline points="550.7,1923.3 562.8,1923.3 684.3,1955.8 936,1955.8" fill="none" stroke="#d8d8a6" stroke-width="1.2" stroke-opacity="0.75" stroke-linejoin="round"/>
<polyline points="550.7,1964.4 562.8,1964.4 619.8,1975.5 936,1975.5" fill="none" stroke="#d8d8a6" stroke-width="1.2" stroke-opacity="0.75" stroke-linejoin="round"/>
<polyline points="550.7,1947.4 562.8,1947.4 651,1958.5 936,1958.5" fill="none" stroke="#d8d8a6" stroke-width="1.2" stroke-opacity="0.75" stroke-linejoin="round"/>
<polyline points="550.7,1918.9 562.8,1918.9 699.7,1942.2 936,1942.2" fill="none" stroke="#d8d8a6" stroke-width="1.2" stroke-opacity="0.75" stroke-linejoin="round"/>
<polyline points="550.7,1930.8 562.8,1930.8 650.7,1952.0 936,1952.0" fill="none" stroke="#d8d8a6" stroke-width="1.2" stroke-opacity="0.75" stroke-linejoin="round"/>
<polyline points="550.7,1923.9 562.8,1923.9 644.3,1946.6 936,1946.6" fill="none" stroke="#d8d8a6" stroke-width="1.2" stroke-opacity="0.75" stroke-linejoin="round"/>
<polyline points="550.7,1921.8 562.8,1921.8 703.2,1960.9 936,1960.9" fill="none" stroke="#d8d8a6" stroke-width="1.2" stroke-opacity="0.75" stroke-linejoin="round"/>
<polygon points="553.7,1941.7 580.8,1970.6 610.9,1986.1 650,1992.7 689.2,1996.1 710.2,1998.3 680.1,2003.8 635,2007.2 589.9,2009.4 553.7,2010.5" fill="#cfae9c" />
<polygon points="553.7,1975.0 580.8,1995.0 610.9,2008.3 641,2014.9 671.1,2019.4 701.2,2021.6 665.1,2027.1 620,2032.7 580.8,2039.3 553.7,2041.5" fill="#bc8a84" />
<polygon points="334,2085.9 334,1864.1 556.7,1864.1 558.2,1952.8 558.2,2085.9 334,2085.9" fill="#b98282" />
<defs><linearGradient id="gK" x1="0" y1="0" x2="1" y2="0"><stop offset="0" stop-color="#dcd2aa" stop-opacity="0.15"/><stop offset="0.6" stop-color="#dcd2aa" stop-opacity="0.3"/><stop offset="1" stop-color="#dcd6aa" stop-opacity="0.6"/></linearGradient></defs>
<polygon points="335.5,1975.0 335.5,1865.2 556.7,1865.2 556.7,1963.9 499.6,1952.8 424.3,1941.7" fill="url(#gK)" />
<polygon points="334,1864.1 334,1866.3 556.7,1866.3 556.7,1864.1" fill="#9a6262" />
<polygon points="334,2045.1 334,2033.5 334.9,2023.4 336.8,2014.8 339.6,2007.7 343.4,2002.2 348.1,1998.2 353.8,1995.7 360.3,1994.7 367.9,1995.2 375.6,1995.6 383.6,1995.6 391.8,1995.4 400.3,1995.0 409,1994.4 418,1993.5 427.1,1992.3 436.5,1990.9 445.2,1990.0 453.2,1989.6 460.5,1989.7 467.1,1990.2 473,1991.3 478.2,1992.8 482.6,1994.8 486.4,1997.3 490.1,1999.7 493.9,2002.1 497.7,2004.4 501.4,2006.6 505.2,2008.8 509,2010.8 512.7,2012.8 516.5,2014.8 520.2,2016.7 524,2018.5 527.8,2020.2 531.5,2021.9 535.3,2023.4 539.1,2025.0 542.8,2026.4 546.6,2027.8 550.6,2029.2 554.8,2030.5 559.3,2031.8 564,2033.0 568.9,2034.2 574.1,2035.4 579.5,2036.5 585.1,2037.7 590.1,2039.3 594.3,2041.5 597.8,2044.3 600.7,2047.6 602.8,2051.5 604.2,2056.0 604.9,2060.9 604.9,2066.5 600.7,2071.3 592.2,2075.5 579.5,2079.0 562.6,2081.7 541.4,2083.8 516,2085.2 486.4,2085.9 452.5,2085.9 422.9,2084.4 397.5,2081.5 376.3,2077.2 359.4,2071.3 346.7,2064.1 338.2,2055.3" fill="#9a6666" />
<polygon points="334,2056.8 334,2048.5 334.9,2041.3 336.8,2035.2 339.6,2030.2 343.4,2026.3 348.1,2023.5 353.8,2021.9 360.3,2021.3 367.9,2021.9 375.6,2022.3 383.6,2022.5 391.8,2022.7 400.3,2022.7 409,2022.5 418,2022.3 427.1,2021.9 436.5,2021.3 445.2,2021.0 453.2,2020.9 460.5,2021.1 467.1,2021.5 473,2022.2 478.2,2023.1 482.6,2024.2 486.4,2025.6 490.4,2027.1 494.6,2028.6 499.1,2030.2 503.8,2031.8 508.7,2033.6 513.9,2035.4 519.3,2037.2 524.9,2039.2 530.6,2040.9 536.2,2042.4 541.9,2043.8 547.5,2044.9 553.2,2045.8 558.8,2046.5 564.5,2046.9 570.1,2047.2 575,2048.1 579.3,2049.4 582.8,2051.4 585.6,2053.9 587.7,2056.9 589.1,2060.5 589.9,2064.7 589.9,2069.4 585.9,2073.5 577.9,2077.1 565.9,2080.0 549.9,2082.4 529.9,2084.1 505.9,2085.3 477.9,2085.9 445.9,2085.9 418,2084.9 394,2082.8 374,2079.7 358,2075.5 346,2070.3 338,2064.1" fill="#865757" />
<polygon points="346,2084.8 346,2070.4 394.2,2068.2 460.4,2069.3 478.5,2075.9 484.5,2084.8" fill="#f4ece2" />
<polyline points="334,2046.0 556.7,2046.0" fill="none" stroke="#5a3636" stroke-width="1.2" stroke-opacity="0.5" stroke-linejoin="round"/>
<polygon points="1328.7,2063.4 1331.7,1952.9 1340.8,1864.5 1401.1,1864.5 1461.4,1873.3 1536.7,1886.6 1551.8,1908.7 1581.9,1952.9 1627.2,1997.1 1687.4,2036.9 1747.7,2056.8 1808,2063.4 1485.5,2063.4 1464.4,2047.9 1343.8,2046.8 1336.3,2063.4" fill="#f5f5ea" />
<polygon points="1328.7,2063.4 1331.7,1975.0 1340.8,1908.7 1386,1902.1 1461.4,1913.1 1521.7,1930.8 1551.8,1964.0 1597,2008.2 1657.3,2041.3 1717.6,2059.0 1747.7,2063.4 1485.5,2063.4 1464.4,2047.9 1343.8,2046.8 1336.3,2063.4" fill="#ecedd4" />
<polygon points="1328.7,2063.4 1331.7,1997.1 1340.8,1970.6 1461.4,1975.0 1506.6,1986.0 1536.7,2005.9 1566.9,2023.6 1597,2041.3 1642.2,2054.6 1687.4,2062.3 1702.5,2063.4 1485.5,2063.4 1464.4,2047.9 1343.8,2046.8 1336.3,2063.4" fill="#dcdab2" />
<polygon points="1328.7,2063.4 1333.3,2030.2 1340.8,2012.6 1455.3,2014.8 1482.5,2023.6 1506.6,2034.7 1536.7,2045.7 1566.9,2053.5 1612.1,2060.1 1642.2,2063.0 1506.6,2063.4 1482.5,2063.4 1464.4,2047.9 1343.8,2046.8 1334.8,2059.0" fill="#c08c86" />
<polygon points="1339.1,2032.6 1339.5,2030.1 1341.5,2028.0 1345.3,2026.2 1350.8,2024.7 1357.9,2023.6 1366.8,2022.9 1377.3,2022.4 1389.6,2022.4 1403.5,2022.7 1416.1,2023.0 1427.3,2023.4 1437.2,2023.9 1445.6,2024.4 1452.7,2025.1 1458.5,2025.8 1462.9,2026.5 1465.9,2027.3 1469,2028.2 1472.2,2029.2 1475.5,2030.2 1478.9,2031.4 1482.4,2032.5 1486,2033.8 1489.6,2035.1 1493.4,2036.5 1497.2,2037.8 1500.9,2039.1 1504.7,2040.4 1508.5,2041.6 1512.2,2042.9 1516,2044.0 1519.8,2045.2 1523.5,2046.3 1527.3,2047.3 1531.1,2048.3 1534.8,2049.3 1538.6,2050.2 1542.4,2051.0 1546.1,2051.8 1549.9,2052.6 1553.7,2053.2 1556.5,2053.9 1558.4,2054.4 1559.3,2054.9 1559.3,2055.3 1558.4,2055.7 1556.5,2055.9 1553.7,2056.1 1549.9,2056.3 1545.9,2056.4 1541.7,2056.5 1537.2,2056.6 1532.5,2056.7 1527.5,2056.7 1522.4,2056.8 1516.9,2056.8 1511.3,2056.8 1505.9,2056.6 1500.8,2056.1 1496,2055.5 1491.5,2054.7 1487.3,2053.7 1483.3,2052.4 1479.6,2051.0 1476.3,2049.3 1471.4,2047.9 1465.1,2046.6 1457.3,2045.6 1448.1,2044.8 1437.4,2044.1 1425.2,2043.7 1411.6,2043.5 1396.6,2043.5 1383.3,2043.5 1371.8,2043.4 1362.1,2043.3 1354.2,2043.2 1348,2043.0 1343.7,2042.8 1341.2,2042.5 1340.4,2042.3 1339.8,2041.7 1339.3,2040.9 1339,2039.8 1338.8,2038.4 1338.8,2036.7 1338.9,2034.8" fill="#a87070" fill-opacity="0.75" />
<polyline points="1331.7,1976.8 1332.3,1972.9 1333.4,1964.9 1335.1,1953.1 1337.4,1937.2 1340,1924.8 1343.1,1915.7 1346.4,1910.0 1350.2,1907.8 1365.3,1906.6 1391.7,1906.6 1429.4,1907.8 1478.4,1910.0 1519.9,1917.4 1553.9,1929.9 1580.2,1947.4 1599.1,1970.0 1617.9,1988.6 1636.8,2003.1 1655.6,2013.5 1674.4,2019.9 1694.2,2026.8 1715,2034.2 1736.6,2042.1 1759.2,2050.6 1776.2,2057.0 1787.5,2061.3 1793.1,2063.4" fill="none" stroke="#d8d8aa" stroke-width="0.9" stroke-opacity="0.45" stroke-linejoin="round"/>
<polyline points="1331.7,1957.5 1332.3,1952.8 1333.4,1943.5 1335.1,1929.5 1337.4,1910.8 1340,1896.2 1343.1,1885.5 1346.4,1878.8 1350.2,1876.2 1360.6,1874.8 1377.7,1874.8 1401.5,1876.2 1431.9,1878.8 1459.5,1887.5 1484.1,1902.2 1505.9,1922.8 1524.7,1949.5 1543.5,1971.6 1562.4,1989.1 1581.2,2002.0 1600.1,2010.4 1619.8,2019.2 1640.6,2028.4 1662.2,2038.1 1684.8,2048.2 1701.8,2055.8 1713.1,2060.9 1718.7,2063.4" fill="none" stroke="#d8d8aa" stroke-width="0.9" stroke-opacity="0.45" stroke-linejoin="round"/>
<polyline points="1331.7,1987.9 1332.3,1984.4 1333.4,1977.3 1335.1,1966.6 1337.4,1952.4 1340,1941.2 1343.1,1933.1 1346.4,1928.0 1350.2,1926.0 1365.8,1924.9 1393.2,1924.9 1432.4,1926.0 1483.5,1928.0 1526.5,1934.6 1561.4,1945.8 1588.3,1961.5 1607.1,1981.8 1626,1998.4 1644.8,2011.1 1663.7,2020.1 1682.5,2025.3 1702.3,2031.1 1723,2037.5 1744.7,2044.5 1767.3,2052.0 1784.2,2057.7 1795.5,2061.5 1801.2,2063.4" fill="none" stroke="#d8d8aa" stroke-width="0.9" stroke-opacity="0.45" stroke-linejoin="round"/>
<polyline points="1331.7,1965.6 1332.3,1961.3 1333.4,1952.5 1335.1,1939.4 1337.4,1921.9 1340,1908.2 1343.1,1898.2 1346.4,1892.0 1350.2,1889.5 1359.7,1888.2 1375,1888.2 1396,1889.5 1422.7,1892.0 1447.5,1900.1 1470.3,1913.8 1491.1,1933.2 1509.9,1958.1 1528.8,1978.7 1547.6,1995.0 1566.5,2006.9 1585.3,2014.4 1605.1,2022.4 1625.8,2030.9 1647.5,2039.8 1670.1,2049.2 1687,2056.3 1698.3,2061.0 1704,2063.4" fill="none" stroke="#d8d8aa" stroke-width="0.9" stroke-opacity="0.45" stroke-linejoin="round"/>
<polyline points="1331.7,2022.8 1332.3,2020.5 1333.4,2015.9 1335.1,2009.1 1337.4,1999.9 1340,1992.7 1343.1,1987.5 1346.4,1984.2 1350.2,1982.9 1362,1982.3 1381.9,1982.3 1409.8,1982.9 1445.7,1984.2 1477.4,1988.5 1504.8,1995.7 1527.9,2005.8 1546.7,2018.9 1565.5,2029.1 1584.4,2036.4 1603.2,2040.8 1622.1,2042.4 1641.8,2044.7 1662.6,2047.8 1684.2,2051.7 1706.8,2056.4 1723.8,2059.9 1735.1,2062.2 1740.8,2063.4" fill="none" stroke="#d8d8aa" stroke-width="0.9" stroke-opacity="0.45" stroke-linejoin="round"/>
<polyline points="1331.7,2026.7 1332.3,2024.5 1333.4,2020.3 1335.1,2013.8 1337.4,2005.2 1340,1998.5 1343.1,1993.6 1346.4,1990.5 1350.2,1989.3 1360.5,1988.7 1377.3,1988.7 1400.7,1989.3 1430.5,1990.5 1457.6,1994.5 1482,2001.3 1503.6,2010.8 1522.4,2023.0 1541.3,2032.5 1560.1,2039.2 1578.9,2043.1 1597.8,2044.3 1617.6,2046.2 1638.3,2049.0 1659.9,2052.5 1682.6,2056.9 1699.5,2060.1 1710.8,2062.3 1716.5,2063.4" fill="none" stroke="#d8d8aa" stroke-width="0.9" stroke-opacity="0.45" stroke-linejoin="round"/>
<polyline points="1331.7,2026.6 1332.3,2024.5 1333.4,2020.2 1335.1,2013.8 1337.4,2005.2 1340,1998.4 1343.1,1993.5 1346.4,1990.5 1350.2,1989.2 1363.7,1988.6 1387,1988.6 1420,1989.2 1462.8,1990.5 1499.6,1994.5 1530.5,2001.2 1555.3,2010.7 1574.1,2023.0 1593,2032.5 1611.8,2039.2 1630.6,2043.1 1649.5,2044.3 1669.3,2046.2 1690,2049.0 1711.7,2052.5 1734.3,2056.9 1751.2,2060.1 1762.5,2062.3 1768.2,2063.4" fill="none" stroke="#d8d8aa" stroke-width="0.9" stroke-opacity="0.45" stroke-linejoin="round"/>
<polyline points="1331.7,1970.1 1332.3,1965.9 1333.4,1957.5 1335.1,1944.8 1337.4,1928.0 1340,1914.8 1343.1,1905.2 1346.4,1899.2 1350.2,1896.8 1365.4,1895.6 1392.2,1895.6 1430.3,1896.8 1480,1899.2 1521.9,1907.0 1556.2,1920.2 1582.7,1938.8 1601.6,1962.9 1620.4,1982.7 1639.2,1998.2 1658.1,2009.5 1676.9,2016.6 1696.7,2024.1 1717.4,2032.2 1739.1,2040.7 1761.7,2049.8 1778.7,2056.6 1790,2061.1 1795.6,2063.4" fill="none" stroke="#d8d8aa" stroke-width="0.9" stroke-opacity="0.45" stroke-linejoin="round"/>
<polyline points="1331.7,2020.2 1332.3,2017.8 1333.4,2013.0 1335.1,2005.9 1337.4,1996.4 1340,1988.9 1343.1,1983.4 1346.4,1980.0 1350.2,1978.7 1364.1,1978.0 1388.1,1978.0 1422.2,1978.7 1466.4,1980.0 1504.2,1984.4 1535.7,1991.9 1560.9,2002.5 1579.7,2016.1 1598.6,2026.8 1617.4,2034.5 1636.3,2039.3 1655.1,2041.1 1674.9,2043.7 1695.6,2047.0 1717.3,2051.2 1739.9,2056.1 1756.8,2059.7 1768.1,2062.2 1773.8,2063.4" fill="none" stroke="#d8d8aa" stroke-width="0.9" stroke-opacity="0.45" stroke-linejoin="round"/>
<polyline points="1331.7,1979.9 1332.3,1976.1 1333.4,1968.4 1335.1,1956.8 1337.4,1941.4 1340,1929.3 1343.1,1920.5 1346.4,1915.0 1350.2,1912.8 1359.8,1911.7 1375.1,1911.7 1396.2,1912.8 1423.2,1915.0 1448.1,1922.2 1470.9,1934.3 1491.8,1951.3 1510.6,1973.3 1529.5,1991.3 1548.3,2005.3 1567.2,2015.4 1586,2021.4 1605.8,2028.0 1626.5,2035.1 1648.2,2042.8 1670.8,2051.0 1687.7,2057.2 1699,2061.3 1704.7,2063.4" fill="none" stroke="#d8d8aa" stroke-width="0.9" stroke-opacity="0.45" stroke-linejoin="round"/>
<polyline points="1331.7,1962.2 1332.3,1957.7 1333.4,1948.7 1335.1,1935.3 1337.4,1917.3 1340,1903.2 1343.1,1892.9 1346.4,1886.5 1350.2,1883.9 1366,1882.6 1393.8,1882.6 1433.5,1883.9 1485.3,1886.5 1528.8,1894.8 1564.1,1908.9 1591.2,1928.8 1610.1,1954.5 1628.9,1975.7 1647.7,1992.5 1666.6,2004.8 1685.4,2012.7 1705.2,2021.0 1725.9,2029.8 1747.6,2039.1 1770.2,2048.8 1787.2,2056.1 1798.5,2061.0 1804.1,2063.4" fill="none" stroke="#d8d8aa" stroke-width="0.9" stroke-opacity="0.45" stroke-linejoin="round"/>
<polyline points="1331.7,2015.0 1332.3,2012.4 1333.4,2007.3 1335.1,1999.6 1337.4,1989.3 1340,1981.2 1343.1,1975.3 1346.4,1971.7 1350.2,1970.2 1365.9,1969.5 1393.4,1969.5 1432.8,1970.2 1484.2,1971.7 1527.4,1976.4 1562.4,1984.5 1589.4,1995.9 1608.2,2010.6 1627.1,2022.2 1645.9,2030.7 1664.8,2036.2 1683.6,2038.5 1703.4,2041.7 1724.1,2045.5 1745.8,2050.1 1768.4,2055.4 1785.3,2059.4 1796.6,2062.1 1802.3,2063.4" fill="none" stroke="#d8d8aa" stroke-width="0.9" stroke-opacity="0.45" stroke-linejoin="round"/>
<polyline points="1331.7,2000.8 1332.3,1997.7 1333.4,1991.5 1335.1,1982.2 1337.4,1969.9 1340,1960.2 1343.1,1953.1 1346.4,1948.7 1350.2,1946.9 1362.4,1946.1 1382.9,1946.1 1411.8,1946.9 1449.1,1948.7 1481.8,1954.4 1509.9,1964.1 1533.3,1977.8 1552.1,1995.5 1571,2009.7 1589.8,2020.4 1608.7,2027.7 1627.5,2031.6 1647.3,2036.1 1668,2041.3 1689.7,2047.1 1712.3,2053.6 1729.2,2058.5 1740.5,2061.8 1746.2,2063.4" fill="none" stroke="#d8d8aa" stroke-width="0.9" stroke-opacity="0.45" stroke-linejoin="round"/>
<polyline points="1331.7,1953.7 1332.3,1948.9 1333.4,1939.3 1335.1,1924.9 1337.4,1905.7 1340,1890.6 1343.1,1879.6 1346.4,1872.7 1350.2,1870.0 1365,1868.6 1390.7,1868.6 1427.4,1870.0 1475.1,1872.7 1515.6,1881.6 1548.9,1896.7 1574.9,1918.0 1593.8,1945.5 1612.6,1968.3 1631.4,1986.4 1650.3,1999.8 1669.1,2008.5 1688.9,2017.7 1709.6,2027.3 1731.3,2037.3 1753.9,2047.8 1770.9,2055.6 1782.2,2060.8 1787.8,2063.4" fill="none" stroke="#d8d8aa" stroke-width="0.9" stroke-opacity="0.45" stroke-linejoin="round"/>
<polyline points="1331.7,2019.6 1332.3,2017.2 1333.4,2012.4 1335.1,2005.2 1337.4,1995.6 1340,1988.0 1343.1,1982.6 1346.4,1979.1 1350.2,1977.7 1361.9,1977.1 1381.6,1977.1 1409.3,1977.7 1444.9,1979.1 1476.3,1983.6 1503.6,1991.1 1526.6,2001.8 1545.4,2015.5 1564.3,2026.3 1583.1,2034.1 1601.9,2038.9 1620.8,2040.8 1640.6,2043.5 1661.3,2046.9 1683,2051.1 1705.6,2056.0 1722.5,2059.7 1733.8,2062.2 1739.5,2063.4" fill="none" stroke="#d8d8aa" stroke-width="0.9" stroke-opacity="0.45" stroke-linejoin="round"/>
<polyline points="1331.7,1991.4 1332.3,1988.0 1333.4,1981.2 1335.1,1970.9 1337.4,1957.1 1340,1946.4 1343.1,1938.5 1346.4,1933.6 1350.2,1931.7 1361.2,1930.7 1379.5,1930.7 1405.1,1931.7 1437.9,1933.6 1467.3,1940.0 1493.1,1950.8 1515.4,1966.0 1534.3,1985.6 1553.1,2001.5 1572,2013.7 1590.8,2022.2 1609.6,2027.0 1629.4,2032.5 1650.2,2038.5 1671.8,2045.2 1694.4,2052.5 1711.4,2057.9 1722.7,2061.6 1728.3,2063.4" fill="none" stroke="#d8d8aa" stroke-width="0.9" stroke-opacity="0.45" stroke-linejoin="round"/>
<polyline points="1331.7,2016.9 1332.3,2014.4 1333.4,2009.4 1335.1,2001.9 1337.4,1991.9 1340,1984.0 1343.1,1978.3 1346.4,1974.7 1350.2,1973.3 1361.1,1972.6 1379.1,1972.6 1404.2,1973.3 1436.4,1974.7 1465.3,1979.4 1490.8,1987.2 1513,1998.3 1531.8,2012.6 1550.6,2023.9 1569.5,2032.1 1588.3,2037.3 1607.2,2039.5 1626.9,2042.4 1647.7,2046.1 1669.3,2050.5 1691.9,2055.7 1708.9,2059.5 1720.2,2062.1 1725.9,2063.4" fill="none" stroke="#d8d8aa" stroke-width="0.9" stroke-opacity="0.45" stroke-linejoin="round"/>
<polyline points="1331.7,1975.0 1332.3,1971.0 1333.4,1962.9 1335.1,1950.8 1337.4,1934.7 1340,1922.1 1343.1,1912.9 1346.4,1907.1 1350.2,1904.8 1358.8,1903.6 1372.3,1903.6 1390.7,1904.8 1413.9,1907.1 1436,1914.6 1457,1927.2 1476.9,1945.1 1495.7,1968.1 1514.6,1987.0 1533.4,2001.8 1552.3,2012.4 1571.1,2019.0 1590.9,2026.0 1611.6,2033.6 1633.3,2041.8 1655.9,2050.4 1672.8,2056.9 1684.1,2061.2 1689.8,2063.4" fill="none" stroke="#d8d8aa" stroke-width="0.9" stroke-opacity="0.45" stroke-linejoin="round"/>
<polyline points="1331.7,1988.4 1332.3,1984.8 1333.4,1977.8 1335.1,1967.1 1337.4,1953.0 1340,1941.8 1343.1,1933.7 1346.4,1928.7 1350.2,1926.7 1362,1925.7 1381.8,1925.7 1409.7,1926.7 1445.6,1928.7 1477.2,1935.3 1504.6,1946.4 1527.7,1962.1 1546.5,1982.3 1565.3,1998.8 1584.2,2011.5 1603,2020.4 1621.9,2025.5 1641.6,2031.3 1662.4,2037.6 1684,2044.5 1706.6,2052.1 1723.6,2057.7 1734.9,2061.5 1740.6,2063.4" fill="none" stroke="#d8d8aa" stroke-width="0.9" stroke-opacity="0.45" stroke-linejoin="round"/>
<polyline points="1331.7,2031.0 1332.3,2029.0 1333.4,2025.1 1335.1,2019.1 1337.4,2011.2 1340,2004.9 1343.1,2000.4 1346.4,1997.5 1350.2,1996.4 1361.2,1995.8 1379.4,1995.8 1404.8,1996.4 1437.4,1997.5 1466.5,2001.2 1492.2,2007.5 1514.5,2016.3 1533.4,2027.6 1552.2,2036.3 1571,2042.3 1589.9,2045.7 1608.7,2046.4 1628.5,2047.9 1649.2,2050.3 1670.9,2053.4 1693.5,2057.4 1710.5,2060.4 1721.8,2062.4 1727.4,2063.4" fill="none" stroke="#d8d8aa" stroke-width="0.9" stroke-opacity="0.45" stroke-linejoin="round"/>
<polyline points="1331.7,1982.8 1332.3,1979.1 1333.4,1971.6 1335.1,1960.4 1337.4,1945.4 1340,1933.6 1343.1,1925.1 1346.4,1919.7 1350.2,1917.6 1362.6,1916.5 1383.5,1916.5 1412.9,1917.6 1451,1919.7 1484.2,1926.7 1512.7,1938.4 1536.3,1955.0 1555.2,1976.4 1574,1993.9 1592.8,2007.4 1611.7,2017.1 1630.5,2022.8 1650.3,2029.1 1671,2036.0 1692.7,2043.4 1715.3,2051.4 1732.3,2057.4 1743.6,2061.4 1749.2,2063.4" fill="none" stroke="#d8d8aa" stroke-width="0.9" stroke-opacity="0.45" stroke-linejoin="round"/>
<polyline points="1331.7,2027.3 1332.3,2025.2 1333.4,2021.0 1335.1,2014.6 1337.4,2006.1 1340,1999.5 1343.1,1994.6 1346.4,1991.6 1350.2,1990.4 1366.1,1989.8 1394.1,1989.8 1434.3,1990.4 1486.6,1991.6 1530.6,1995.5 1566.1,2002.2 1593.3,2011.6 1612.2,2023.7 1631,2033.1 1649.9,2039.7 1668.7,2043.5 1687.5,2044.6 1707.3,2046.5 1728,2049.2 1749.7,2052.7 1772.3,2057.0 1789.3,2060.2 1800.6,2062.3 1806.2,2063.4" fill="none" stroke="#d8d8aa" stroke-width="0.9" stroke-opacity="0.45" stroke-linejoin="round"/>
<polyline points="1331.7,1969.7 1332.3,1965.5 1333.4,1957.1 1335.1,1944.4 1337.4,1927.5 1340,1914.3 1343.1,1904.6 1346.4,1898.6 1350.2,1896.2 1366,1895.0 1393.8,1895.0 1433.7,1896.2 1485.6,1898.6 1529.2,1906.4 1564.6,1919.7 1591.7,1938.4 1610.6,1962.5 1629.4,1982.4 1648.2,1998.0 1667.1,2009.3 1685.9,2016.4 1705.7,2024.0 1726.4,2032.1 1748.1,2040.7 1770.7,2049.8 1787.7,2056.6 1799,2061.1 1804.6,2063.4" fill="none" stroke="#d8d8aa" stroke-width="0.9" stroke-opacity="0.45" stroke-linejoin="round"/>
<polyline points="1331.7,2024.1 1332.3,2021.9 1333.4,2017.4 1335.1,2010.7 1337.4,2001.7 1340,1994.7 1343.1,1989.6 1346.4,1986.4 1350.2,1985.1 1360.7,1984.5 1377.9,1984.5 1401.8,1985.1 1432.4,1986.4 1460.1,1990.6 1484.8,1997.6 1506.6,2007.5 1525.4,2020.3 1544.3,2030.2 1563.1,2037.3 1581.9,2041.6 1600.8,2043.0 1620.6,2045.2 1641.3,2048.2 1662.9,2052.0 1685.6,2056.6 1702.5,2060.0 1713.8,2062.3 1719.5,2063.4" fill="none" stroke="#d8d8aa" stroke-width="0.9" stroke-opacity="0.45" stroke-linejoin="round"/>
<polyline points="1331.7,2029.3 1332.3,2027.3 1333.4,2023.2 1335.1,2017.0 1337.4,2008.8 1340,2002.4 1343.1,1997.7 1346.4,1994.8 1350.2,1993.6 1364.6,1993.0 1389.5,1993.0 1425,1993.6 1471.1,1994.8 1510.4,1998.6 1542.8,2005.0 1568.5,2014.1 1587.3,2025.8 1606.2,2034.8 1625,2041.1 1643.8,2044.7 1662.7,2045.6 1682.5,2047.3 1703.2,2049.8 1724.9,2053.1 1747.5,2057.2 1764.4,2060.3 1775.7,2062.4 1781.4,2063.4" fill="none" stroke="#d8d8aa" stroke-width="0.9" stroke-opacity="0.45" stroke-linejoin="round"/>
<polyline points="1331.7,2010.9 1332.3,2008.2 1333.4,2002.8 1335.1,1994.6 1337.4,1983.8 1340,1975.2 1343.1,1969.0 1346.4,1965.1 1350.2,1963.6 1359.7,1962.8 1374.8,1962.8 1395.6,1963.6 1422.1,1965.1 1446.7,1970.2 1469.4,1978.7 1490.2,1990.8 1509,2006.3 1527.9,2018.6 1546.7,2027.8 1565.5,2033.8 1584.4,2036.6 1604.2,2040.1 1624.9,2044.3 1646.5,2049.2 1669.2,2054.9 1686.1,2059.2 1697.4,2062.0 1703.1,2063.4" fill="none" stroke="#d8d8aa" stroke-width="0.9" stroke-opacity="0.45" stroke-linejoin="round"/>
<polyline points="1331.7,1998.9 1332.3,1995.7 1333.4,1989.4 1335.1,1979.9 1337.4,1967.3 1340,1957.4 1343.1,1950.1 1346.4,1945.6 1350.2,1943.8 1365.6,1942.9 1392.5,1942.9 1431,1943.8 1481.1,1945.6 1523.3,1951.5 1557.8,1961.4 1584.5,1975.4 1603.3,1993.5 1622.1,2008.0 1641,2019.1 1659.8,2026.6 1678.7,2030.7 1698.4,2035.4 1719.2,2040.7 1740.8,2046.7 1763.4,2053.4 1780.4,2058.4 1791.7,2061.7 1797.3,2063.4" fill="none" stroke="#d8d8aa" stroke-width="0.9" stroke-opacity="0.45" stroke-linejoin="round"/>
<polyline points="1331.7,1967.3 1332.3,1963.0 1333.4,1954.4 1335.1,1941.4 1337.4,1924.2 1340,1910.7 1343.1,1900.8 1346.4,1894.7 1350.2,1892.2 1360.6,1891.0 1377.7,1891.0 1401.5,1892.2 1431.9,1894.7 1459.4,1902.7 1484,1916.2 1505.7,1935.3 1524.6,1959.9 1543.4,1980.2 1562.3,1996.2 1581.1,2007.9 1599.9,2015.2 1619.7,2023.0 1640.4,2031.3 1662.1,2040.2 1684.7,2049.5 1701.7,2056.4 1713,2061.1 1718.6,2063.4" fill="none" stroke="#d8d8aa" stroke-width="0.9" stroke-opacity="0.45" stroke-linejoin="round"/>
<polyline points="1331.7,2020.6 1332.3,2018.2 1333.4,2013.5 1335.1,2006.4 1337.4,1996.9 1340,1989.5 1343.1,1984.1 1346.4,1980.7 1350.2,1979.3 1365.6,1978.6 1392.7,1978.6 1431.3,1979.3 1481.7,1980.7 1524.1,1985.1 1558.7,1992.5 1585.4,2003.0 1604.2,2016.5 1623.1,2027.1 1641.9,2034.8 1660.7,2039.5 1679.6,2041.3 1699.4,2043.8 1720.1,2047.2 1741.8,2051.3 1764.4,2056.1 1781.3,2059.8 1792.6,2062.2 1798.3,2063.4" fill="none" stroke="#d8d8aa" stroke-width="0.9" stroke-opacity="0.45" stroke-linejoin="round"/>
<polyline points="1331.7,1987.1 1332.3,1983.5 1333.4,1976.3 1335.1,1965.5 1337.4,1951.2 1340,1939.9 1343.1,1931.7 1346.4,1926.6 1350.2,1924.5 1364,1923.5 1387.7,1923.5 1421.4,1924.5 1465.2,1926.6 1502.7,1933.2 1533.9,1944.5 1559,1960.4 1577.8,1980.9 1596.7,1997.6 1615.5,2010.5 1634.4,2019.6 1653.2,2024.9 1673,2030.7 1693.7,2037.2 1715.4,2044.3 1738,2051.9 1754.9,2057.7 1766.2,2061.5 1771.9,2063.4" fill="none" stroke="#d8d8aa" stroke-width="0.9" stroke-opacity="0.45" stroke-linejoin="round"/>
<polyline points="1331.7,2025.3 1332.3,2023.1 1333.4,2018.8 1335.1,2012.2 1337.4,2003.4 1340,1996.5 1343.1,1991.5 1346.4,1988.4 1350.2,1987.1 1359.1,1986.5 1373.2,1986.5 1392.4,1987.1 1416.7,1988.4 1439.7,1992.4 1461.3,1999.3 1481.5,2009.0 1500.3,2021.6 1519.2,2031.3 1538,2038.2 1556.9,2042.3 1575.7,2043.6 1595.5,2045.7 1616.2,2048.6 1637.9,2052.2 1660.5,2056.7 1677.4,2060.1 1688.7,2062.3 1694.4,2063.4" fill="none" stroke="#d8d8aa" stroke-width="0.9" stroke-opacity="0.45" stroke-linejoin="round"/>
<polyline points="1331.7,1977.7 1332.3,1973.8 1333.4,1965.9 1335.1,1954.1 1337.4,1938.4 1340,1926.1 1343.1,1917.1 1346.4,1911.5 1350.2,1909.2 1361.9,1908.1 1381.5,1908.1 1409,1909.2 1444.4,1911.5 1475.7,1918.8 1502.9,1931.1 1525.8,1948.5 1544.7,1971.0 1563.5,1989.4 1582.4,2003.7 1601.2,2014.0 1620,2020.3 1639.8,2027.1 1660.5,2034.4 1682.2,2042.3 1704.8,2050.8 1721.8,2057.1 1733.1,2061.3 1738.7,2063.4" fill="none" stroke="#d8d8aa" stroke-width="0.9" stroke-opacity="0.45" stroke-linejoin="round"/>
<line x1="1175.0" y1="817.4" x2="1928.6" y2="817.4" stroke="#d0d0d0" stroke-width="1.1"/>
<polygon points="1464.4,760.1 1485.5,791.9 1499.3,817.4 1826.1,817.4 1747.7,795.1 1657.3,763.3 1581.9,728.3 1545.8,707.9 1521.7,707.9 1476.4,741.0" fill="#f3f3e6" />
<polygon points="1464.4,760.1 1485.5,791.9 1499.3,817.4 1702.5,817.4 1651.3,795.1 1597,766.5 1554.8,734.6 1530.7,712.4 1506.6,712.4 1476.4,744.2" fill="#e9eacf" />
<polygon points="1464.4,760.1 1485.5,791.9 1499.3,817.4 1612.1,817.4 1575.9,791.9 1542.8,760.1 1521.7,728.3 1506.6,718.7 1476.4,747.4" fill="#dfe0b8" />
<polygon points="1325.7,814.2 1327.2,753.7 1333.3,721.9 1343.8,708.5 1386,707.3 1536.7,707.3 1542.8,710.4 1521.7,721.9 1506.6,741.0 1506.6,816.8 1499.3,816.8 1485.5,791.9 1473.4,769.6 1461.4,749.9 1374,749.9 1352.8,756.9 1340.8,776.0 1332.4,807.9 1330.2,815.5" fill="#dcdcb0" />
<polygon points="1333.1,736.9 1333.4,734.3 1333.9,731.8 1334.5,729.6 1335.1,727.5 1335.9,725.6 1336.7,723.8 1337.7,722.3 1338.7,720.9 1339.8,719.7 1341.5,718.6 1343.7,717.7 1346.3,716.9 1349.6,716.2 1353.3,715.7 1357.5,715.3 1362.3,715.0 1367.5,714.8 1374.3,714.7 1382.5,714.6 1392.1,714.6 1403.2,714.6 1415.8,714.6 1429.9,714.7 1445.4,714.8 1462.3,715.0 1477.3,715.2 1490.4,715.4 1501.6,715.6 1510.8,715.8 1518.1,716.1 1523.5,716.3 1526.9,716.6 1528.4,717.0 1529.6,717.6 1530.5,718.6 1531,719.8 1531.2,721.4 1531,723.3 1530.6,725.6 1529.8,728.1 1528.6,731.0 1526.6,733.6 1523.8,735.9 1520.1,737.9 1515.6,739.6 1510.3,741.1 1504,742.3 1497,743.2 1489.1,743.9 1480.6,744.4 1471.5,745.0 1461.9,745.4 1451.8,745.8 1441,746.2 1429.7,746.4 1417.8,746.7 1405.4,746.8 1394.1,746.9 1383.8,747.0 1374.6,747.0 1366.5,747.0 1359.5,747.0 1353.6,746.9 1348.7,746.8 1344.9,746.7 1341.7,746.2 1339,745.4 1336.7,744.3 1335,742.9 1333.9,741.2 1333.2,739.2" fill="#d8c8a2" />
<polygon points="1337.4,734.5 1338.2,732.2 1339.5,730.3 1341.5,728.6 1344.1,727.1 1347.3,725.9 1351.1,725.0 1355.5,724.3 1360.6,723.9 1366.2,723.7 1373.1,723.6 1381.3,723.5 1390.8,723.5 1401.6,723.5 1413.6,723.5 1426.8,723.6 1441.4,723.7 1457.2,723.9 1471.2,724.2 1483.2,724.6 1493.4,725.1 1501.7,725.7 1508.1,726.5 1512.6,727.4 1515.3,728.3 1516,729.5 1515.8,730.6 1514.5,731.6 1512.3,732.7 1509.1,733.7 1504.9,734.7 1499.8,735.7 1493.6,736.7 1486.4,737.7 1478.6,738.5 1470.1,739.3 1461,739.9 1451.2,740.5 1440.7,740.9 1429.6,741.3 1417.8,741.6 1405.4,741.7 1394.1,741.9 1383.9,742.0 1374.9,742.1 1367,742.2 1360.2,742.2 1354.5,742.3 1350,742.3 1346.6,742.3 1343.8,742.0 1341.4,741.4 1339.6,740.6 1338.2,739.5 1337.4,738.1 1337.2,736.4" fill="#d4b496" fill-opacity="0.8" />
<polygon points="1326.3,811.0 1327.2,753.7 1331.7,728.3 1334.8,741.0 1336.3,779.2 1333.3,807.9 1330.2,814.2" fill="#d8ac92" fill-opacity="0.85" />
<polyline points="1437.9,748.6 1462,748.6 1512.2,817.1" fill="none" stroke="#d4b49a" stroke-width="1.0" stroke-opacity="0.55" stroke-linejoin="round"/>
<polyline points="1444.3,747.2 1468.5,747.2 1510.4,817.1" fill="none" stroke="#d2cfa0" stroke-width="1.0" stroke-opacity="0.5414285714285715" stroke-linejoin="round"/>
<polyline points="1441.7,746.4 1465.8,746.4 1523.9,817.1" fill="none" stroke="#d2cfa0" stroke-width="1.0" stroke-opacity="0.5328571428571429" stroke-linejoin="round"/>
<polyline points="1449.7,745.2 1473.8,745.2 1514.1,817.1" fill="none" stroke="#d2cfa0" stroke-width="1.0" stroke-opacity="0.5242857142857144" stroke-linejoin="round"/>
<polyline points="1449.5,743.3 1473.7,743.3 1528.8,817.1" fill="none" stroke="#d4b49a" stroke-width="1.0" stroke-opacity="0.5157142857142858" stroke-linejoin="round"/>
<polyline points="1449,742.0 1473.1,742.0 1545.9,817.1" fill="none" stroke="#d2cfa0" stroke-width="1.0" stroke-opacity="0.5071428571428572" stroke-linejoin="round"/>
<polyline points="1450.9,742.4 1475,742.4 1539.4,817.1" fill="none" stroke="#d2cfa0" stroke-width="1.0" stroke-opacity="0.4985714285714286" stroke-linejoin="round"/>
<polyline points="1455.6,739.4 1479.7,739.4 1546.6,817.1" fill="none" stroke="#d2cfa0" stroke-width="1.0" stroke-opacity="0.49000000000000005" stroke-linejoin="round"/>
<polyline points="1462.5,737.8 1486.6,737.8 1566.9,817.1" fill="none" stroke="#d4b49a" stroke-width="1.0" stroke-opacity="0.4814285714285715" stroke-linejoin="round"/>
<polyline points="1457.6,735.6 1481.8,735.6 1563.7,817.1" fill="none" stroke="#d2cfa0" stroke-width="1.0" stroke-opacity="0.4728571428571429" stroke-linejoin="round"/>
<polyline points="1467.4,737.4 1491.5,737.4 1577.6,817.1" fill="none" stroke="#d2cfa0" stroke-width="1.0" stroke-opacity="0.46428571428571436" stroke-linejoin="round"/>
<polyline points="1469,735.9 1493.1,735.9 1603.3,817.1" fill="none" stroke="#d2cfa0" stroke-width="1.0" stroke-opacity="0.45571428571428574" stroke-linejoin="round"/>
<polyline points="1468.1,735.3 1492.2,735.3 1591.5,817.1" fill="none" stroke="#d4b49a" stroke-width="1.0" stroke-opacity="0.4471428571428572" stroke-linejoin="round"/>
<polyline points="1469.5,731.5 1493.6,731.5 1617.1,817.1" fill="none" stroke="#d2cfa0" stroke-width="1.0" stroke-opacity="0.4385714285714286" stroke-linejoin="round"/>
<polyline points="1468.6,731.8 1492.7,731.8 1605.2,817.1" fill="none" stroke="#d2cfa0" stroke-width="1.0" stroke-opacity="0.43000000000000005" stroke-linejoin="round"/>
<polyline points="1480.9,732.3 1505,732.3 1620.6,817.1" fill="none" stroke="#d2cfa0" stroke-width="1.0" stroke-opacity="0.4214285714285715" stroke-linejoin="round"/>
<polyline points="1472.2,729.5 1496.3,729.5 1639.3,817.1" fill="none" stroke="#d4b49a" stroke-width="1.0" stroke-opacity="0.4128571428571429" stroke-linejoin="round"/>
<polyline points="1484.4,725.7 1508.5,725.7 1661.1,817.1" fill="none" stroke="#d2cfa0" stroke-width="1.0" stroke-opacity="0.40428571428571436" stroke-linejoin="round"/>
<polyline points="1487.3,727.6 1511.4,727.6 1651.6,817.1" fill="none" stroke="#d2cfa0" stroke-width="1.0" stroke-opacity="0.3957142857142858" stroke-linejoin="round"/>
<polyline points="1489.7,722.9 1513.8,722.9 1657.6,817.1" fill="none" stroke="#d2cfa0" stroke-width="1.0" stroke-opacity="0.38714285714285723" stroke-linejoin="round"/>
<polyline points="1488.8,724.8 1512.9,724.8 1672.2,817.1" fill="none" stroke="#d4b49a" stroke-width="1.0" stroke-opacity="0.37857142857142867" stroke-linejoin="round"/>
<polyline points="1487.1,725.5 1511.2,725.5 1669,817.1" fill="none" stroke="#d2cfa0" stroke-width="1.0" stroke-opacity="0.37000000000000005" stroke-linejoin="round"/>
<polyline points="1488.8,722.7 1512.9,722.7 1701.2,817.1" fill="none" stroke="#d2cfa0" stroke-width="1.0" stroke-opacity="0.3614285714285715" stroke-linejoin="round"/>
<polyline points="1489.2,715.3 1513.3,715.3 1691.2,817.1" fill="none" stroke="#d2cfa0" stroke-width="1.0" stroke-opacity="0.35285714285714287" stroke-linejoin="round"/>
<polyline points="1494.3,715.3 1518.5,715.3 1718.8,817.1" fill="none" stroke="#d4b49a" stroke-width="1.0" stroke-opacity="0.3442857142857143" stroke-linejoin="round"/>
<polyline points="1497.6,722.4 1521.7,722.4 1721.3,817.1" fill="none" stroke="#d2cfa0" stroke-width="1.0" stroke-opacity="0.33571428571428574" stroke-linejoin="round"/>
<polyline points="1499.2,711.4 1523.3,711.4 1723.9,817.1" fill="none" stroke="#d2cfa0" stroke-width="1.0" stroke-opacity="0.3271428571428572" stroke-linejoin="round"/>
<polyline points="1501.4,710.4 1525.5,710.4 1730,817.1" fill="none" stroke="#d2cfa0" stroke-width="1.0" stroke-opacity="0.3185714285714286" stroke-linejoin="round"/>
<polyline points="1504.3,711.4 1528.4,711.4 1758.5,817.1" fill="none" stroke="#d4b49a" stroke-width="1.0" stroke-opacity="0.31000000000000005" stroke-linejoin="round"/>
<polyline points="1502.2,720.6 1526.3,720.6 1747.4,817.1" fill="none" stroke="#d2cfa0" stroke-width="1.0" stroke-opacity="0.3014285714285715" stroke-linejoin="round"/>
<polyline points="1515.1,718.0 1539.2,718.0 1784.8,817.1" fill="none" stroke="#d2cfa0" stroke-width="1.0" stroke-opacity="0.2928571428571429" stroke-linejoin="round"/>
<polyline points="1517.2,717.0 1541.3,717.0 1783.4,817.1" fill="none" stroke="#d2cfa0" stroke-width="1.0" stroke-opacity="0.28428571428571436" stroke-linejoin="round"/>
<polyline points="1520.2,713.7 1544.3,713.7 1794.3,817.1" fill="none" stroke="#d4b49a" stroke-width="1.0" stroke-opacity="0.2757142857142858" stroke-linejoin="round"/>
<polyline points="1519.6,717.3 1543.7,717.3 1802.2,817.1" fill="none" stroke="#d2cfa0" stroke-width="1.0" stroke-opacity="0.2671428571428572" stroke-linejoin="round"/>
<polyline points="1513.3,712.1 1537.5,712.1 1819.6,817.1" fill="none" stroke="#d2cfa0" stroke-width="1.0" stroke-opacity="0.2585714285714286" stroke-linejoin="round"/>
<polyline points="1523.3,709.8 1547.4,709.8 1816.3,817.1" fill="none" stroke="#d2cfa0" stroke-width="1.0" stroke-opacity="0.25000000000000006" stroke-linejoin="round"/>
<polyline points="1494.5,816.8 1717.6,816.8" fill="none" stroke="#d4a898" stroke-width="1.3" stroke-opacity="0.6" stroke-linejoin="round"/>
<g fill="none" stroke="#a9c5c9" stroke-width="1.15"><circle cx="1338.7" cy="708.4" r="2.9"/><circle cx="1348.4" cy="705.1" r="2.9"/><circle cx="1357.5" cy="701.9" r="2.9"/><circle cx="1362.7" cy="696.7" r="2.9"/><circle cx="1369.2" cy="694.1" r="2.9"/><circle cx="1369.9" cy="699.9" r="2.9"/><circle cx="1373.1" cy="705.1" r="2.9"/><circle cx="1375.1" cy="705.8" r="2.9"/><circle cx="1379.0" cy="708.4" r="2.9"/><circle cx="1364.0" cy="705.1" r="2.9"/><circle cx="1360.8" cy="707.7" r="2.9"/><circle cx="1364.7" cy="711.6" r="2.9"/><circle cx="1371.8" cy="716.8" r="2.9"/><circle cx="1404.3" cy="714.2" r="2.9"/><circle cx="1342.6" cy="716.2" r="2.9"/><circle cx="1338.7" cy="720.1" r="2.9"/><circle cx="1341.9" cy="719.4" r="2.9"/><circle cx="1332.9" cy="716.2" r="2.9"/><circle cx="1336.8" cy="731.1" r="2.9"/><circle cx="1343.2" cy="733.7" r="2.9"/><circle cx="1347.1" cy="731.1" r="2.9"/><circle cx="1351.0" cy="728.5" r="2.9"/><circle cx="1356.2" cy="725.2" r="2.9"/><circle cx="1358.8" cy="731.1" r="2.9"/><circle cx="1362.7" cy="731.1" r="2.9"/><circle cx="1366.6" cy="727.2" r="2.9"/><circle cx="1367.9" cy="725.2" r="2.9"/><circle cx="1352.3" cy="736.9" r="2.9"/><circle cx="1347.1" cy="740.8" r="2.9"/><circle cx="1351.0" cy="745.4" r="2.9"/><circle cx="1354.9" cy="742.8" r="2.9"/><circle cx="1345.8" cy="751.2" r="2.9"/><circle cx="1349.7" cy="754.4" r="2.9"/><circle cx="1336.8" cy="765.5" r="2.9"/><circle cx="1374.4" cy="734.3" r="2.9"/><circle cx="1376.4" cy="734.3" r="2.9"/><circle cx="1383.5" cy="736.9" r="2.9"/><circle cx="1385.5" cy="725.2" r="2.9"/><circle cx="1418.6" cy="733.7" r="2.9"/><circle cx="1425.1" cy="725.9" r="2.9"/><circle cx="1427.7" cy="725.9" r="2.9"/><circle cx="1434.2" cy="725.9" r="2.9"/><circle cx="1436.8" cy="725.9" r="2.9"/><circle cx="1432.9" cy="728.5" r="2.9"/><circle cx="1448.4" cy="728.5" r="2.9"/><circle cx="1452.3" cy="725.9" r="2.9"/><circle cx="1457.5" cy="733.7" r="2.9"/><circle cx="1460.1" cy="733.7" r="2.9"/><circle cx="1463.4" cy="733.7" r="2.9"/><circle cx="1483.5" cy="733.7" r="2.9"/><circle cx="1391.3" cy="745.4" r="2.9"/><circle cx="1395.2" cy="742.8" r="2.9"/><circle cx="1403.6" cy="740.2" r="2.9"/><circle cx="1444.5" cy="739.5" r="2.9"/><circle cx="1448.4" cy="742.8" r="2.9"/><circle cx="1458.8" cy="742.8" r="2.9"/><circle cx="1466.6" cy="742.8" r="2.9"/><circle cx="1509.5" cy="745.4" r="2.9"/><circle cx="1466.6" cy="754.4" r="2.9"/><circle cx="1469.2" cy="754.4" r="2.9"/><circle cx="1475.1" cy="751.2" r="2.9"/><circle cx="1477.0" cy="751.2" r="2.9"/><circle cx="1494.5" cy="751.2" r="2.9"/><circle cx="1482.2" cy="757.0" r="2.9"/><circle cx="1484.8" cy="757.0" r="2.9"/><circle cx="1509.5" cy="757.0" r="2.9"/><circle cx="1468.6" cy="759.6" r="2.9"/><circle cx="1334.2" cy="748.0" r="2.9"/><circle cx="1329.0" cy="780.4" r="2.9"/><circle cx="1332.9" cy="814.2" r="2.9"/><circle cx="1316.6" cy="741.5" r="2.9"/><circle cx="1316.6" cy="757.0" r="2.9"/><circle cx="1319.2" cy="766.1" r="2.9"/><circle cx="1316.0" cy="775.2" r="2.9"/><circle cx="1317.9" cy="780.4" r="2.9"/><circle cx="1303.6" cy="786.9" r="2.9"/><circle cx="1304.9" cy="787.5" r="2.9"/><circle cx="1307.5" cy="796.0" r="2.9"/><circle cx="1301.7" cy="798.6" r="2.9"/><circle cx="1304.9" cy="803.8" r="2.9"/><circle cx="1308.2" cy="802.5" r="2.9"/><circle cx="1310.8" cy="801.2" r="2.9"/><circle cx="1306.2" cy="807.7" r="2.9"/><circle cx="1309.5" cy="806.4" r="2.9"/><circle cx="1312.7" cy="809.6" r="2.9"/><circle cx="1315.3" cy="810.3" r="2.9"/><circle cx="1305.6" cy="811.6" r="2.9"/><circle cx="1310.8" cy="814.2" r="2.9"/><circle cx="1306.9" cy="816.8" r="2.9"/><circle cx="1312.7" cy="820.6" r="2.9"/><circle cx="1314.0" cy="824.5" r="2.9"/><circle cx="1317.9" cy="797.3" r="2.9"/><circle cx="1319.9" cy="819.3" r="2.9"/><circle cx="1323.1" cy="825.8" r="2.9"/><circle cx="1323.8" cy="828.4" r="2.9"/><circle cx="1323.1" cy="834.3" r="2.9"/><circle cx="1315.3" cy="838.8" r="2.9"/><circle cx="1296.5" cy="834.3" r="2.9"/><circle cx="1336.8" cy="766.1" r="2.9"/><circle cx="1331.6" cy="732.4" r="2.9"/><circle cx="1333.5" cy="737.6" r="2.9"/><circle cx="1334.8" cy="749.3" r="2.9"/><circle cx="1329.0" cy="768.7" r="2.9"/><circle cx="1329.6" cy="760.9" r="2.9"/><circle cx="1330.9" cy="696.2" r="2.9"/><circle cx="1329.9" cy="783.5" r="2.9"/><circle cx="1330.3" cy="698.2" r="2.9"/><circle cx="1330.3" cy="695.1" r="2.9"/><circle cx="1326.5" cy="757.0" r="2.9"/><circle cx="1330.8" cy="771.6" r="2.9"/><circle cx="1325.0" cy="728.6" r="2.9"/><circle cx="1325.8" cy="767.8" r="2.9"/><circle cx="1325.2" cy="702.7" r="2.9"/><circle cx="1325.5" cy="692.2" r="2.9"/><circle cx="1326.2" cy="735.4" r="2.9"/><circle cx="1324.4" cy="801.3" r="2.9"/><circle cx="1326.5" cy="714.1" r="2.9"/><circle cx="1325.8" cy="685.9" r="2.9"/><circle cx="1329.4" cy="685.3" r="2.9"/><circle cx="1325.4" cy="771.3" r="2.9"/><circle cx="1330.8" cy="760.1" r="2.9"/><circle cx="1330.0" cy="702.1" r="2.9"/><circle cx="1327.6" cy="753.7" r="2.9"/><circle cx="1324.5" cy="811.9" r="2.9"/><circle cx="1331.2" cy="791.1" r="2.9"/><circle cx="1330.1" cy="740.2" r="2.9"/><circle cx="1328.7" cy="793.8" r="2.9"/><circle cx="1326.6" cy="749.6" r="2.9"/><circle cx="1325.0" cy="692.9" r="2.9"/><circle cx="1329.4" cy="695.9" r="2.9"/><circle cx="1325.2" cy="726.6" r="2.9"/><circle cx="1330.1" cy="698.3" r="2.9"/><circle cx="1322.7" cy="817.0" r="2.9"/><circle cx="1326.2" cy="724.5" r="2.9"/><circle cx="1325.2" cy="757.8" r="2.9"/><circle cx="1325.9" cy="755.8" r="2.9"/><circle cx="1324.8" cy="829.6" r="2.9"/><circle cx="1331.0" cy="724.9" r="2.9"/><circle cx="1326.6" cy="735.1" r="2.9"/><circle cx="1326.8" cy="682.1" r="2.9"/><circle cx="1327.7" cy="760.1" r="2.9"/><circle cx="1327.7" cy="717.9" r="2.9"/><circle cx="1325.9" cy="683.0" r="2.9"/><circle cx="1326.9" cy="699.3" r="2.9"/><circle cx="1324.2" cy="690.5" r="2.9"/><circle cx="1325.7" cy="734.2" r="2.9"/><circle cx="1327.9" cy="776.4" r="2.9"/><circle cx="1326.1" cy="800.1" r="2.9"/><circle cx="1323.1" cy="818.2" r="2.9"/><circle cx="1326.2" cy="832.8" r="2.9"/><circle cx="1324.3" cy="784.7" r="2.9"/><circle cx="1325.4" cy="812.0" r="2.9"/><circle cx="1329.9" cy="797.7" r="2.9"/><circle cx="1327.8" cy="707.7" r="2.9"/><circle cx="1330.1" cy="764.5" r="2.9"/><circle cx="1325.1" cy="807.7" r="2.9"/><circle cx="1325.9" cy="820.1" r="2.9"/><circle cx="1324.3" cy="722.6" r="2.9"/><circle cx="1326.6" cy="706.7" r="2.9"/><circle cx="1330.1" cy="701.9" r="2.9"/><circle cx="1328.6" cy="772.4" r="2.9"/><circle cx="1329.0" cy="782.3" r="2.9"/><circle cx="1324.1" cy="762.3" r="2.9"/><circle cx="1324.4" cy="806.7" r="2.9"/><circle cx="1328.8" cy="769.0" r="2.9"/><circle cx="1329.4" cy="695.0" r="2.9"/><circle cx="1324.6" cy="726.1" r="2.9"/><circle cx="1329.3" cy="728.2" r="2.9"/><circle cx="1329.4" cy="718.6" r="2.9"/><circle cx="1323.5" cy="831.6" r="2.9"/><circle cx="1329.0" cy="760.7" r="2.9"/><circle cx="1325.5" cy="802.4" r="2.9"/><circle cx="1325.1" cy="697.1" r="2.9"/><circle cx="1329.4" cy="726.4" r="2.9"/><circle cx="1328.2" cy="734.3" r="2.9"/><circle cx="1324.5" cy="684.7" r="2.9"/><circle cx="1328.9" cy="728.7" r="2.9"/><circle cx="1328.9" cy="791.8" r="2.9"/><circle cx="1327.8" cy="732.2" r="2.9"/><circle cx="1327.4" cy="758.6" r="2.9"/><circle cx="1330.5" cy="704.2" r="2.9"/><circle cx="1331.1" cy="717.6" r="2.9"/><circle cx="1324.1" cy="826.1" r="2.9"/><circle cx="1324.0" cy="809.9" r="2.9"/><circle cx="1325.6" cy="728.7" r="2.9"/><circle cx="1325.1" cy="827.4" r="2.9"/><circle cx="1327.8" cy="708.2" r="2.9"/><circle cx="1326.9" cy="828.4" r="2.9"/><circle cx="1330.5" cy="765.1" r="2.9"/><circle cx="1325.7" cy="793.3" r="2.9"/><circle cx="1320.7" cy="820.7" r="2.9"/><circle cx="1327.6" cy="682.7" r="2.9"/><circle cx="1326.2" cy="756.5" r="2.9"/><circle cx="1326.5" cy="708.0" r="2.9"/><circle cx="1330.1" cy="736.1" r="2.9"/><circle cx="1329.5" cy="682.3" r="2.9"/><circle cx="1327.7" cy="812.6" r="2.9"/><circle cx="1330.6" cy="794.7" r="2.9"/><circle cx="1326.7" cy="732.0" r="2.9"/><circle cx="1331.3" cy="747.8" r="2.9"/><circle cx="1326.6" cy="776.9" r="2.9"/><circle cx="1326.0" cy="753.1" r="2.9"/><circle cx="1324.8" cy="691.8" r="2.9"/><circle cx="1327.8" cy="811.9" r="2.9"/><circle cx="1326.0" cy="725.6" r="2.9"/><circle cx="1325.4" cy="765.5" r="2.9"/><circle cx="1331.0" cy="744.9" r="2.9"/><circle cx="1325.4" cy="818.9" r="2.9"/><circle cx="1324.8" cy="822.9" r="2.9"/><circle cx="1324.4" cy="795.7" r="2.9"/><circle cx="1327.3" cy="797.5" r="2.9"/><circle cx="1322.7" cy="800.4" r="2.9"/><circle cx="1330.8" cy="691.9" r="2.9"/><circle cx="1327.5" cy="705.7" r="2.9"/><circle cx="1326.2" cy="740.3" r="2.9"/><circle cx="1331.1" cy="798.4" r="2.9"/><circle cx="1328.8" cy="727.4" r="2.9"/><circle cx="1328.1" cy="733.7" r="2.9"/><circle cx="1325.2" cy="748.1" r="2.9"/><circle cx="1325.5" cy="711.5" r="2.9"/><circle cx="1322.2" cy="821.9" r="2.9"/><circle cx="1324.0" cy="821.9" r="2.9"/><circle cx="1325.4" cy="707.8" r="2.9"/><circle cx="1326.5" cy="699.4" r="2.9"/><circle cx="1325.8" cy="699.5" r="2.9"/><circle cx="1328.2" cy="727.1" r="2.9"/><circle cx="1323.7" cy="819.3" r="2.9"/><circle cx="1327.8" cy="751.0" r="2.9"/><circle cx="1326.5" cy="745.4" r="2.9"/><circle cx="1326.0" cy="694.3" r="2.9"/><circle cx="1324.4" cy="830.5" r="2.9"/><circle cx="1330.3" cy="782.8" r="2.9"/><circle cx="1326.0" cy="720.3" r="2.9"/><circle cx="1326.9" cy="725.5" r="2.9"/><circle cx="1331.0" cy="755.8" r="2.9"/><circle cx="1320.7" cy="813.9" r="2.9"/><circle cx="1329.2" cy="688.7" r="2.9"/><circle cx="1325.1" cy="820.5" r="2.9"/><circle cx="1326.9" cy="681.8" r="2.9"/><circle cx="1327.2" cy="824.8" r="2.9"/><circle cx="1321.4" cy="831.1" r="2.9"/><circle cx="1327.8" cy="710.3" r="2.9"/><circle cx="1330.9" cy="790.3" r="2.9"/><circle cx="1328.7" cy="796.0" r="2.9"/><circle cx="1324.8" cy="802.1" r="2.9"/><circle cx="1329.7" cy="690.1" r="2.9"/><circle cx="1330.7" cy="723.0" r="2.9"/><circle cx="1326.2" cy="785.1" r="2.9"/><circle cx="1325.9" cy="705.8" r="2.9"/><circle cx="1329.1" cy="783.7" r="2.9"/><circle cx="1324.5" cy="703.1" r="2.9"/><circle cx="1328.3" cy="767.4" r="2.9"/><circle cx="1325.7" cy="747.1" r="2.9"/><circle cx="1324.1" cy="778.6" r="2.9"/></g>
<line x1="1173.9" y1="309.2" x2="1924.5" y2="309.2" stroke="#dcdcdc" stroke-width="1.1"/>
<polygon points="1325.5,309.2 1327,246.3 1329.4,216.1 1330.9,211.1 1333,212.3 1342,228.7 1353.7,248.2 1367,266.4 1379.9,279.6 1393.1,288.4 1406,293.8 1418.9,296.6 1528.2,297.9 1699.3,299.1 1729.3,302.9 1759.4,307.9 1759.4,309.2" fill="#e6e8c6" />
<polygon points="1327.7,284.4 1327.9,277.4 1328.1,270.7 1328.3,264.5 1328.6,258.7 1328.9,253.4 1329.2,248.5 1329.5,244.0 1329.8,239.9 1330.2,236.3 1330.7,233.3 1331.3,231.0 1332,229.4 1332.9,228.3 1333.8,228.0 1334.9,228.2 1336.1,229.2 1337.4,230.7 1338.8,232.4 1340.1,234.2 1341.5,236.0 1342.9,238.0 1344.3,240.1 1345.7,242.2 1347.2,244.5 1348.6,246.9 1350.1,249.2 1351.6,251.4 1353.2,253.7 1354.7,255.9 1356.3,258.1 1357.9,260.2 1359.5,262.3 1361.2,264.3 1362.8,266.3 1364.5,268.2 1366.1,270.0 1367.7,271.8 1369.4,273.5 1371,275.1 1372.6,276.7 1374.2,278.2 1375.8,279.6 1377.5,281.0 1379.1,282.3 1380.7,283.5 1382.4,284.6 1384,285.7 1385.6,286.7 1387.3,287.7 1388.9,288.6 1390.6,289.4 1392.2,290.3 1393.9,291.0 1395.5,291.8 1397.1,292.5 1398.7,293.2 1400.3,293.8 1402,294.4 1403.6,294.9 1405.2,295.4 1406.8,295.9 1408.4,296.3 1410,296.7 1411.6,297.1 1413.2,297.4 1416.4,297.7 1421,298.0 1427.1,298.2 1434.8,298.5 1443.9,298.7 1454.6,298.9 1466.7,299.1 1480.4,299.2 1494.5,299.4 1509.2,299.5 1524.3,299.7 1540,299.8 1556.1,299.9 1572.8,300.1 1589.9,300.2 1607.6,300.3 1623.5,300.4 1637.6,300.6 1650.1,300.8 1660.8,301.1 1669.7,301.3 1676.9,301.6 1682.4,301.9 1686.2,302.3 1689.7,302.7 1693,303.1 1696,303.6 1698.9,304.2 1701.4,304.7 1703.8,305.4 1705.9,306.0 1707.8,306.7 1703.4,307.3 1692.7,307.9 1675.7,308.3 1652.4,308.7 1622.9,308.9 1587,309.1 1544.9,309.2 1496.5,309.2 1454.1,308.3 1417.9,306.5 1387.7,303.9 1363.6,300.4 1345.5,295.9 1333.6,290.6" fill="#dcd9ae" />
<polygon points="1331.9,287.2 1332,280.9 1332.2,275.1 1332.4,269.9 1332.6,265.3 1332.9,261.1 1333.2,257.6 1333.6,254.5 1334,252.0 1334.5,250.0 1335,248.4 1335.6,247.1 1336.3,246.2 1337.1,245.6 1338,245.4 1338.9,245.5 1340,245.9 1341.1,246.7 1342.2,247.6 1343.3,248.5 1344.5,249.6 1345.6,250.7 1346.7,252.0 1347.9,253.3 1349,254.7 1350.1,256.2 1351.3,257.7 1352.5,259.3 1353.8,260.9 1355.2,262.5 1356.6,264.2 1358.1,266.0 1359.7,267.7 1361.3,269.5 1362.9,271.3 1364.5,273.0 1366.1,274.6 1367.8,276.2 1369.4,277.7 1371,279.1 1372.6,280.5 1374.2,281.9 1375.8,283.2 1377.5,284.4 1379.1,285.5 1380.7,286.6 1382.4,287.7 1384,288.7 1385.6,289.6 1387.3,290.4 1388.9,291.3 1390.6,292.1 1392.2,292.8 1393.9,293.5 1395.5,294.2 1397.1,294.8 1398.7,295.4 1400.3,296.0 1402.1,296.5 1404,297.0 1406.1,297.5 1408.4,298.0 1410.8,298.4 1413.4,298.8 1416.1,299.3 1419,299.6 1423.2,300.0 1428.6,300.3 1435.3,300.6 1443.4,300.8 1452.6,301.0 1463.2,301.2 1475.1,301.3 1488.2,301.4 1501.6,301.5 1515.2,301.6 1529,301.7 1543.1,301.8 1557.4,301.9 1572,302.1 1586.7,302.2 1601.7,302.4 1615.1,302.6 1626.8,302.9 1636.9,303.3 1645.4,303.8 1652.2,304.3 1657.3,305.0 1660.9,305.7 1662.7,306.4 1659.1,307.1 1649.9,307.7 1635.3,308.2 1615.1,308.6 1589.4,308.9 1558.2,309.1 1521.5,309.2 1479.3,309.2 1442.4,308.4 1410.7,306.8 1384.4,304.5 1363.3,301.3 1347.6,297.4 1337.1,292.7" fill="#d2b698" />
<polygon points="1333.9,296.8 1334,293.3 1334.1,290.0 1334.3,287.1 1334.6,284.4 1334.9,282.1 1335.3,280.0 1335.8,278.2 1336.3,276.8 1336.9,275.6 1337.6,274.6 1338.3,273.8 1339.1,273.2 1340,272.7 1340.9,272.5 1341.9,272.4 1343,272.6 1344.1,272.9 1345.3,273.3 1346.5,273.8 1347.8,274.4 1349.1,275.1 1350.4,275.9 1351.8,276.8 1353.3,277.8 1354.8,278.9 1356.3,280.0 1357.8,281.1 1359.3,282.2 1360.8,283.2 1362.3,284.3 1363.8,285.3 1365.3,286.4 1366.8,287.4 1368.3,288.4 1369.8,289.3 1371.3,290.2 1372.8,291.1 1374.3,291.9 1375.8,292.7 1377.3,293.4 1378.8,294.1 1380.4,294.8 1382,295.5 1383.6,296.1 1385.3,296.7 1387,297.2 1388.8,297.8 1390.6,298.3 1392.5,298.7 1394.5,299.2 1396.5,299.6 1398.7,300.1 1401,300.5 1403.3,300.9 1405.7,301.3 1408.3,301.6 1410.9,302.0 1415,302.3 1420.5,302.6 1427.5,302.9 1436,303.1 1445.9,303.3 1457.2,303.5 1470,303.6 1484.3,303.8 1498.2,303.9 1511.7,304.0 1524.8,304.1 1537.6,304.2 1550,304.3 1562,304.4 1573.6,304.4 1584.9,304.5 1594.9,304.7 1603.9,304.9 1611.6,305.1 1618.2,305.4 1623.6,305.8 1627.8,306.2 1630.8,306.7 1632.7,307.3 1629.6,307.8 1621.4,308.2 1608.3,308.5 1590.1,308.8 1566.9,309.0 1538.7,309.1 1505.6,309.2 1467.3,309.2 1433.9,308.8 1405.3,307.9 1381.4,306.5 1362.4,304.8 1348.1,302.6 1338.6,299.9" fill="#c8a090" />
<polygon points="1343.3,302.0 1343.7,300.0 1344.3,298.2 1345,296.7 1346,295.5 1347.1,294.6 1348.4,293.9 1349.9,293.5 1351.6,293.4 1353.5,293.6 1355.5,293.8 1357.7,294.1 1360,294.5 1362.4,295.0 1365,295.5 1367.7,296.1 1370.6,296.9 1373.6,297.6 1376.5,298.4 1379.3,299.1 1382,299.7 1384.6,300.3 1387.2,300.8 1389.6,301.3 1391.9,301.8 1394.2,302.2 1396.8,302.5 1399.8,302.9 1403.2,303.2 1407,303.5 1411.1,303.8 1415.6,304.1 1420.5,304.4 1425.7,304.6 1432.7,304.8 1441.3,305.0 1451.6,305.2 1463.6,305.3 1477.3,305.5 1492.7,305.6 1509.8,305.7 1528.6,305.8 1545,305.9 1559.1,306.1 1570.8,306.3 1580.2,306.5 1587.2,306.8 1591.9,307.1 1594.2,307.4 1594.2,307.8 1590.3,308.2 1582.4,308.5 1570.6,308.7 1554.8,308.9 1535.1,309.1 1511.5,309.2 1483.9,309.2 1452.4,309.2 1424.8,308.9 1401.3,308.4 1381.7,307.7 1366.1,306.6 1354.6,305.4 1347,303.8" fill="#b07a78" fill-opacity="0.85" />
<g fill="none" stroke="#a9c5c9" stroke-width="1.15"><circle cx="1339.4" cy="200.0" r="2.9"/><circle cx="1349.2" cy="196.8" r="2.9"/><circle cx="1358.2" cy="193.6" r="2.9"/><circle cx="1363.4" cy="188.4" r="2.9"/><circle cx="1369.8" cy="185.9" r="2.9"/><circle cx="1370.5" cy="191.6" r="2.9"/><circle cx="1373.7" cy="196.8" r="2.9"/><circle cx="1375.7" cy="197.4" r="2.9"/><circle cx="1379.5" cy="200.0" r="2.9"/><circle cx="1364.7" cy="196.8" r="2.9"/><circle cx="1361.4" cy="199.3" r="2.9"/><circle cx="1365.3" cy="203.2" r="2.9"/><circle cx="1372.4" cy="208.3" r="2.9"/><circle cx="1404.8" cy="205.8" r="2.9"/><circle cx="1343.3" cy="207.7" r="2.9"/><circle cx="1339.4" cy="211.5" r="2.9"/><circle cx="1342.7" cy="210.9" r="2.9"/><circle cx="1333.6" cy="207.7" r="2.9"/><circle cx="1337.5" cy="222.4" r="2.9"/><circle cx="1344.0" cy="225.0" r="2.9"/><circle cx="1347.9" cy="222.4" r="2.9"/><circle cx="1351.7" cy="219.9" r="2.9"/><circle cx="1356.9" cy="216.7" r="2.9"/><circle cx="1359.5" cy="222.4" r="2.9"/><circle cx="1363.4" cy="222.4" r="2.9"/><circle cx="1367.3" cy="218.6" r="2.9"/><circle cx="1368.6" cy="216.7" r="2.9"/><circle cx="1353.0" cy="228.2" r="2.9"/><circle cx="1347.9" cy="232.0" r="2.9"/><circle cx="1351.7" cy="236.5" r="2.9"/><circle cx="1355.6" cy="234.0" r="2.9"/><circle cx="1346.6" cy="242.3" r="2.9"/><circle cx="1350.4" cy="245.5" r="2.9"/><circle cx="1337.5" cy="256.4" r="2.9"/><circle cx="1375.0" cy="225.6" r="2.9"/><circle cx="1377.0" cy="225.6" r="2.9"/><circle cx="1384.1" cy="228.2" r="2.9"/><circle cx="1386.0" cy="216.7" r="2.9"/><circle cx="1419.0" cy="225.0" r="2.9"/><circle cx="1425.5" cy="217.3" r="2.9"/><circle cx="1428.1" cy="217.3" r="2.9"/><circle cx="1434.5" cy="217.3" r="2.9"/><circle cx="1437.1" cy="217.3" r="2.9"/><circle cx="1433.2" cy="219.9" r="2.9"/><circle cx="1448.8" cy="219.9" r="2.9"/><circle cx="1452.6" cy="217.3" r="2.9"/><circle cx="1457.8" cy="225.0" r="2.9"/><circle cx="1460.4" cy="225.0" r="2.9"/><circle cx="1463.6" cy="225.0" r="2.9"/><circle cx="1483.7" cy="225.0" r="2.9"/><circle cx="1391.8" cy="236.5" r="2.9"/><circle cx="1395.7" cy="234.0" r="2.9"/><circle cx="1404.1" cy="231.4" r="2.9"/><circle cx="1444.9" cy="230.8" r="2.9"/><circle cx="1448.8" cy="234.0" r="2.9"/><circle cx="1459.1" cy="234.0" r="2.9"/><circle cx="1466.9" cy="234.0" r="2.9"/><circle cx="1509.5" cy="236.5" r="2.9"/><circle cx="1466.9" cy="245.5" r="2.9"/><circle cx="1469.4" cy="245.5" r="2.9"/><circle cx="1475.3" cy="242.3" r="2.9"/><circle cx="1477.2" cy="242.3" r="2.9"/><circle cx="1494.7" cy="242.3" r="2.9"/><circle cx="1482.4" cy="248.1" r="2.9"/><circle cx="1485.0" cy="248.1" r="2.9"/><circle cx="1509.5" cy="248.1" r="2.9"/><circle cx="1468.8" cy="250.6" r="2.9"/><circle cx="1334.9" cy="239.1" r="2.9"/><circle cx="1329.7" cy="271.2" r="2.9"/><circle cx="1333.6" cy="304.5" r="2.9"/><circle cx="1317.5" cy="232.7" r="2.9"/><circle cx="1317.5" cy="248.1" r="2.9"/><circle cx="1320.0" cy="257.0" r="2.9"/><circle cx="1316.8" cy="266.0" r="2.9"/><circle cx="1318.8" cy="271.2" r="2.9"/><circle cx="1304.5" cy="277.6" r="2.9"/><circle cx="1305.8" cy="278.2" r="2.9"/><circle cx="1308.4" cy="286.5" r="2.9"/><circle cx="1302.6" cy="289.1" r="2.9"/><circle cx="1305.8" cy="294.2" r="2.9"/><circle cx="1309.1" cy="293.0" r="2.9"/><circle cx="1311.6" cy="291.7" r="2.9"/><circle cx="1307.1" cy="298.1" r="2.9"/><circle cx="1310.3" cy="296.8" r="2.9"/><circle cx="1313.6" cy="300.0" r="2.9"/><circle cx="1316.2" cy="300.6" r="2.9"/><circle cx="1306.5" cy="301.9" r="2.9"/><circle cx="1311.6" cy="304.5" r="2.9"/><circle cx="1307.8" cy="307.1" r="2.9"/><circle cx="1313.6" cy="310.9" r="2.9"/><circle cx="1314.9" cy="314.8" r="2.9"/><circle cx="1318.8" cy="287.8" r="2.9"/><circle cx="1320.7" cy="309.6" r="2.9"/><circle cx="1323.9" cy="316.0" r="2.9"/><circle cx="1324.6" cy="318.6" r="2.9"/><circle cx="1323.9" cy="324.4" r="2.9"/><circle cx="1316.2" cy="328.9" r="2.9"/><circle cx="1297.4" cy="324.4" r="2.9"/><circle cx="1337.5" cy="257.0" r="2.9"/><circle cx="1332.3" cy="223.7" r="2.9"/><circle cx="1334.3" cy="228.8" r="2.9"/><circle cx="1335.6" cy="240.4" r="2.9"/><circle cx="1329.7" cy="259.6" r="2.9"/><circle cx="1330.4" cy="251.9" r="2.9"/><circle cx="1331.6" cy="187.9" r="2.9"/><circle cx="1330.6" cy="274.2" r="2.9"/><circle cx="1331.0" cy="189.9" r="2.9"/><circle cx="1331.1" cy="186.9" r="2.9"/><circle cx="1327.3" cy="248.0" r="2.9"/><circle cx="1331.5" cy="262.5" r="2.9"/><circle cx="1325.8" cy="219.9" r="2.9"/><circle cx="1326.6" cy="258.7" r="2.9"/><circle cx="1326.0" cy="194.4" r="2.9"/><circle cx="1326.3" cy="184.0" r="2.9"/><circle cx="1327.0" cy="226.7" r="2.9"/><circle cx="1325.2" cy="291.8" r="2.9"/><circle cx="1327.3" cy="205.7" r="2.9"/><circle cx="1326.6" cy="177.8" r="2.9"/><circle cx="1330.1" cy="177.2" r="2.9"/><circle cx="1326.2" cy="262.2" r="2.9"/><circle cx="1331.6" cy="251.1" r="2.9"/><circle cx="1330.8" cy="193.8" r="2.9"/><circle cx="1328.4" cy="244.8" r="2.9"/><circle cx="1325.3" cy="302.3" r="2.9"/><circle cx="1331.9" cy="281.7" r="2.9"/><circle cx="1330.9" cy="231.4" r="2.9"/><circle cx="1329.4" cy="284.4" r="2.9"/><circle cx="1327.4" cy="240.7" r="2.9"/><circle cx="1325.8" cy="184.7" r="2.9"/><circle cx="1330.2" cy="187.6" r="2.9"/><circle cx="1326.0" cy="218.0" r="2.9"/><circle cx="1330.9" cy="190.1" r="2.9"/><circle cx="1323.5" cy="307.3" r="2.9"/><circle cx="1327.0" cy="215.9" r="2.9"/><circle cx="1326.0" cy="248.8" r="2.9"/><circle cx="1326.7" cy="246.8" r="2.9"/><circle cx="1325.6" cy="319.8" r="2.9"/><circle cx="1331.8" cy="216.3" r="2.9"/><circle cx="1327.4" cy="226.4" r="2.9"/><circle cx="1327.6" cy="174.0" r="2.9"/><circle cx="1328.5" cy="251.1" r="2.9"/><circle cx="1328.5" cy="209.4" r="2.9"/><circle cx="1326.7" cy="175.0" r="2.9"/><circle cx="1327.7" cy="191.0" r="2.9"/><circle cx="1325.0" cy="182.4" r="2.9"/><circle cx="1326.5" cy="225.5" r="2.9"/><circle cx="1328.7" cy="267.2" r="2.9"/><circle cx="1326.9" cy="290.6" r="2.9"/><circle cx="1323.9" cy="308.4" r="2.9"/><circle cx="1327.0" cy="322.9" r="2.9"/><circle cx="1325.1" cy="275.4" r="2.9"/><circle cx="1326.2" cy="302.4" r="2.9"/><circle cx="1330.7" cy="288.2" r="2.9"/><circle cx="1328.6" cy="199.4" r="2.9"/><circle cx="1330.9" cy="255.4" r="2.9"/><circle cx="1325.9" cy="298.1" r="2.9"/><circle cx="1326.7" cy="310.3" r="2.9"/><circle cx="1325.1" cy="214.0" r="2.9"/><circle cx="1327.4" cy="198.3" r="2.9"/><circle cx="1330.9" cy="193.6" r="2.9"/><circle cx="1329.4" cy="263.3" r="2.9"/><circle cx="1329.8" cy="273.0" r="2.9"/><circle cx="1324.9" cy="253.2" r="2.9"/><circle cx="1325.2" cy="297.2" r="2.9"/><circle cx="1329.6" cy="259.9" r="2.9"/><circle cx="1330.2" cy="186.8" r="2.9"/><circle cx="1325.4" cy="217.5" r="2.9"/><circle cx="1330.1" cy="219.6" r="2.9"/><circle cx="1330.2" cy="210.1" r="2.9"/><circle cx="1324.3" cy="321.7" r="2.9"/><circle cx="1329.8" cy="251.7" r="2.9"/><circle cx="1326.3" cy="292.9" r="2.9"/><circle cx="1325.9" cy="188.8" r="2.9"/><circle cx="1330.2" cy="217.8" r="2.9"/><circle cx="1328.9" cy="225.6" r="2.9"/><circle cx="1325.3" cy="176.6" r="2.9"/><circle cx="1329.7" cy="220.1" r="2.9"/><circle cx="1329.7" cy="282.4" r="2.9"/><circle cx="1328.6" cy="223.5" r="2.9"/><circle cx="1328.2" cy="249.6" r="2.9"/><circle cx="1331.3" cy="195.9" r="2.9"/><circle cx="1331.9" cy="209.1" r="2.9"/><circle cx="1324.9" cy="316.3" r="2.9"/><circle cx="1324.8" cy="300.2" r="2.9"/><circle cx="1326.4" cy="220.1" r="2.9"/><circle cx="1325.9" cy="317.6" r="2.9"/><circle cx="1328.6" cy="199.8" r="2.9"/><circle cx="1327.7" cy="318.6" r="2.9"/><circle cx="1331.3" cy="256.1" r="2.9"/><circle cx="1326.5" cy="283.9" r="2.9"/><circle cx="1321.5" cy="311.0" r="2.9"/><circle cx="1328.4" cy="174.6" r="2.9"/><circle cx="1327.0" cy="247.6" r="2.9"/><circle cx="1327.3" cy="199.6" r="2.9"/><circle cx="1330.9" cy="227.4" r="2.9"/><circle cx="1330.3" cy="174.2" r="2.9"/><circle cx="1328.5" cy="302.9" r="2.9"/><circle cx="1331.4" cy="285.3" r="2.9"/><circle cx="1327.5" cy="223.3" r="2.9"/><circle cx="1332.1" cy="239.0" r="2.9"/><circle cx="1327.4" cy="267.7" r="2.9"/><circle cx="1326.8" cy="244.2" r="2.9"/><circle cx="1325.6" cy="183.6" r="2.9"/><circle cx="1328.6" cy="302.3" r="2.9"/><circle cx="1326.8" cy="217.0" r="2.9"/><circle cx="1326.2" cy="256.4" r="2.9"/><circle cx="1331.8" cy="236.0" r="2.9"/><circle cx="1326.2" cy="309.2" r="2.9"/><circle cx="1325.6" cy="313.2" r="2.9"/><circle cx="1325.2" cy="286.2" r="2.9"/><circle cx="1328.1" cy="288.0" r="2.9"/><circle cx="1323.6" cy="290.9" r="2.9"/><circle cx="1331.5" cy="183.7" r="2.9"/><circle cx="1328.3" cy="197.4" r="2.9"/><circle cx="1327.0" cy="231.6" r="2.9"/><circle cx="1331.9" cy="289.0" r="2.9"/><circle cx="1329.6" cy="218.7" r="2.9"/><circle cx="1328.9" cy="225.0" r="2.9"/><circle cx="1326.0" cy="239.2" r="2.9"/><circle cx="1326.3" cy="203.0" r="2.9"/><circle cx="1323.0" cy="312.1" r="2.9"/><circle cx="1324.8" cy="312.2" r="2.9"/><circle cx="1326.2" cy="199.4" r="2.9"/><circle cx="1327.3" cy="191.1" r="2.9"/><circle cx="1326.6" cy="191.2" r="2.9"/><circle cx="1329.0" cy="218.5" r="2.9"/><circle cx="1324.5" cy="309.6" r="2.9"/><circle cx="1328.6" cy="242.1" r="2.9"/><circle cx="1327.3" cy="236.6" r="2.9"/><circle cx="1326.8" cy="186.1" r="2.9"/><circle cx="1325.2" cy="320.6" r="2.9"/><circle cx="1331.1" cy="273.5" r="2.9"/><circle cx="1326.8" cy="211.8" r="2.9"/><circle cx="1327.7" cy="216.9" r="2.9"/><circle cx="1331.7" cy="246.8" r="2.9"/><circle cx="1321.5" cy="304.2" r="2.9"/><circle cx="1330.0" cy="180.6" r="2.9"/><circle cx="1325.9" cy="310.7" r="2.9"/><circle cx="1327.7" cy="173.8" r="2.9"/><circle cx="1328.0" cy="315.0" r="2.9"/><circle cx="1322.2" cy="321.2" r="2.9"/><circle cx="1328.6" cy="201.9" r="2.9"/><circle cx="1331.7" cy="280.9" r="2.9"/><circle cx="1329.5" cy="286.5" r="2.9"/><circle cx="1325.6" cy="292.6" r="2.9"/><circle cx="1330.5" cy="182.0" r="2.9"/><circle cx="1331.5" cy="214.4" r="2.9"/><circle cx="1327.0" cy="275.7" r="2.9"/><circle cx="1326.7" cy="197.5" r="2.9"/><circle cx="1329.9" cy="274.4" r="2.9"/><circle cx="1325.3" cy="194.8" r="2.9"/><circle cx="1329.1" cy="258.3" r="2.9"/><circle cx="1326.5" cy="238.2" r="2.9"/><circle cx="1324.9" cy="269.4" r="2.9"/></g>
<polygon points="335.9,303.3 335.9,142.3 336.8,142.3 337.4,303.3" fill="#e2d8a8" />
<polygon points="335.6,307.0 336.2,266.7 337.4,307.0" fill="#d49a88" fill-opacity="0.8" />
<defs><linearGradient id="gA" x1="0" y1="0" x2="0" y2="1"><stop offset="0" stop-color="#f4f4e6"/><stop offset="0.45" stop-color="#e2e2bc"/><stop offset="0.75" stop-color="#dcd4ae"/><stop offset="1" stop-color="#d4c4a0"/></linearGradient></defs>
<polygon points="340.1,301.5 341.6,131.4 344.6,131.4 349.1,301.5" fill="url(#gA)" />
<polygon points="334.6,816.2 334.9,652.6 335.8,652.6 336.1,816.2" fill="#e4deb4" />
<polygon points="334,816.2 334.6,775.3 336.4,816.2" fill="#d8a890" fill-opacity="0.8" />
<polygon points="338.5,812.5 340.6,645.2 343.6,645.2 347.5,812.5" fill="url(#gA)" />
<polygon points="335.5,935.7 683.2,935.7 685.3,941.0 689.5,964.9 695.3,993.1 702.4,1022.1 710.7,1049.3 720,1073.4 730.3,1093.7 741.5,1110.2 753.6,1123.0 766.6,1132.7 780.3,1139.9 794.8,1145.0 810.1,1148.5 826.1,1150.9 842.7,1152.5 860.1,1153.6 878.1,1154.3 896.8,1154.7 916.1,1154.9 936,1155.1 502.6,1155.3 492.3,1153.0 481.5,1146.3 470.7,1135.6 460.4,1128.9 439.4,1128.1 358.1,1128.1 350.6,1131.1 347.5,1146.3 343,1155.3 335.5,1155.3" fill="#fcfcf8" />
<polygon points="335.5,935.7 650,935.7 652.4,942.1 657.2,967.7 663.8,997.7 671.8,1028.0 681.2,1056.0 691.7,1080.2 703.4,1100.2 716.1,1116.0 729.7,1128.0 744.4,1136.8 759.9,1143.0 776.3,1147.4 793.6,1150.3 811.7,1152.2 830.5,1153.4 850.1,1154.2 870.5,1154.6 891.6,1154.9 913.5,1155.1 936,1155.2 502.6,1155.3 492.3,1153.0 481.5,1146.3 470.7,1135.6 460.4,1128.9 439.4,1128.1 358.1,1128.1 350.6,1131.1 347.5,1146.3 343,1155.3 335.5,1155.3" fill="#f8f8f0" />
<polygon points="335.5,935.7 620,935.7 622.6,943.0 627.9,969.9 635.1,1001.3 644,1032.5 654.3,1061.0 666,1085.3 678.9,1104.9 692.9,1120.1 708,1131.4 724.2,1139.5 741.4,1145.1 759.5,1148.9 778.6,1151.3 798.6,1152.9 819.4,1153.9 841.1,1154.5 863.6,1154.8 887,1155.0 911.1,1155.1 936,1155.2 502.6,1155.3 492.3,1153.0 481.5,1146.3 470.7,1135.6 460.4,1128.9 439.4,1128.1 358.1,1128.1 350.6,1131.1 347.5,1146.3 343,1155.3 335.5,1155.3" fill="#f0f1de" />
<polygon points="335.5,935.7 592.9,935.7 595.7,943.6 601.5,971.6 609.3,1004.0 619,1035.9 630.2,1064.7 642.8,1088.9 656.8,1108.2 672.1,1123.0 688.5,1133.7 706.1,1141.3 724.7,1146.4 744.4,1149.8 765.1,1152.0 786.8,1153.4 809.4,1154.2 833,1154.7 857.4,1154.9 882.8,1155.1 909,1155.2 936,1155.2 502.6,1155.3 492.3,1153.0 481.5,1146.3 470.7,1135.6 460.4,1128.9 439.4,1128.1 358.1,1128.1 350.6,1131.1 347.5,1146.3 343,1155.3 335.5,1155.3" fill="#e2e3c0" />
<polygon points="335.5,935.7 568.8,935.7 571.8,944.1 578,972.9 586.4,1005.9 596.7,1038.4 608.7,1067.3 622.3,1091.5 637.2,1110.6 653.5,1124.9 671.1,1135.3 689.9,1142.5 709.9,1147.3 730.9,1150.4 753.1,1152.4 776.3,1153.6 800.5,1154.4 825.7,1154.8 851.9,1155.0 879,1155.1 907.1,1155.2 936,1155.2 502.6,1155.3 492.3,1153.0 481.5,1146.3 470.7,1135.6 460.4,1128.9 439.4,1128.1 358.1,1128.1 350.6,1131.1 347.5,1146.3 343,1155.3 335.5,1155.3" fill="#d9d8aa" />
<polygon points="335.5,935.7 544.7,935.7 547.9,944.5 554.5,974.0 563.5,1007.7 574.5,1040.6 587.3,1069.7 601.7,1093.8 617.6,1112.6 635,1126.6 653.8,1136.6 673.8,1143.5 695,1148.0 717.5,1150.9 741.1,1152.8 765.8,1153.8 791.6,1154.5 818.5,1154.9 846.4,1155.1 875.3,1155.2 905.2,1155.2 936,1155.2 502.6,1155.3 492.3,1153.0 481.5,1146.3 470.7,1135.6 460.4,1128.9 439.4,1128.1 358.1,1128.1 350.6,1131.1 347.5,1146.3 343,1155.3 335.5,1155.3" fill="#d2c09c" />
<polygon points="335.5,935.7 523.6,935.7 527,944.8 534,974.8 543.4,1008.9 555,1042.0 568.5,1071.2 583.7,1095.3 600.5,1113.9 618.8,1127.7 638.6,1137.5 659.7,1144.1 682.1,1148.5 705.7,1151.3 730.6,1153.0 756.7,1154.0 783.9,1154.6 812.2,1154.9 841.6,1155.1 872,1155.2 903.5,1155.2 936,1155.3 502.6,1155.3 492.3,1153.0 481.5,1146.3 470.7,1135.6 460.4,1128.9 439.4,1128.1 358.1,1128.1 350.6,1131.1 347.5,1146.3 343,1155.3 335.5,1155.3" fill="#c8a290" />
<polygon points="335.5,935.7 505.6,935.7 509.1,945.0 516.4,975.2 526.3,1009.6 538.3,1042.8 552.4,1072.1 568.3,1096.1 585.8,1114.6 604.9,1128.3 625.5,1137.9 647.6,1144.5 670.9,1148.7 695.7,1151.4 721.6,1153.1 748.8,1154.0 777.2,1154.6 806.8,1154.9 837.4,1155.1 869.2,1155.2 902.1,1155.2 936,1155.3 502.6,1155.3 492.3,1153.0 481.5,1146.3 470.7,1135.6 460.4,1128.9 439.4,1128.1 358.1,1128.1 350.6,1131.1 347.5,1146.3 343,1155.3 335.5,1155.3" fill="#b98482" />
<rect x="183.5" y="1144.1" width="151.1" height="12.3" fill="#c9a090"/>
<rect x="183.5" y="1144.9" width="151.1" height="10.8" fill="#865757"/>
<rect x="183.5" y="1149.3" width="151.1" height="1.5" fill="#2a1616"/>
<rect x="502.6" y="1144.1" width="433.4" height="12.3" fill="#c9a090"/>
<rect x="502.6" y="1144.9" width="433.4" height="10.8" fill="#865757"/>
<rect x="502.6" y="1149.3" width="433.4" height="1.5" fill="#2a1616"/>
<defs><linearGradient id="gEt" x1="0" y1="0" x2="0" y2="1"><stop offset="0" stop-color="#d4b89c" stop-opacity="0.9"/><stop offset="1" stop-color="#d4b89c" stop-opacity="0"/></linearGradient></defs>
<polygon points="337,935.7 508.6,935.7 520.6,980.4 484.5,995.2 394.2,995.2 337,995.2" fill="url(#gEt)" />
<polygon points="338.5,1047.4 338.5,987.8 394.2,991.5 454.4,999.0 490.5,1017.6 511.6,1047.4 532.7,1077.1 553.7,1103.2 574.8,1121.8 544.7,1121.8" fill="#a87070" fill-opacity="0.55" />
<polygon points="338.5,1054.8 338.5,1021.3 394.2,1023.2 454.4,1028.7 484.5,1038.0 508.6,1056.7 529.6,1079.0 550.7,1103.2 571.8,1121.8 592.9,1133.7 616.9,1140.4 641,1144.1 641,1147.8 544.7,1147.8" fill="#a87474" fill-opacity="0.85" />
<polygon points="335.5,1155.3 335.5,1054.8 343,1047.0 379.1,1045.5 424.3,1046.2 448.4,1048.1 463.4,1051.1 475.5,1054.8 495.3,1079.0 517.6,1105.0 538.7,1127.4 559.8,1139.6 580.8,1143.4 604.9,1144.9 635,1145.6 665.1,1146.0 665.1,1155.7 502.6,1155.7 492.3,1153.0 481.5,1146.3 470.7,1135.6 463.4,1125.5 457.4,1115.1 439.4,1114.0 352.1,1114.0 347.5,1121.8 344.5,1146.3 341.5,1155.3" fill="#865757" />
<polygon points="475.5,1054.8 495.3,1079.0 517.6,1105.0 538.7,1127.4 559.8,1139.6 580.8,1143.4 604.9,1144.9 580.8,1146.0 559.8,1143.4 538.7,1134.8 517.6,1116.2 495.3,1092.0 475.5,1066.0" fill="#8e5e5e" />
<polygon points="350.6,1128.9 352.1,1114.3 448.4,1114.3 457.4,1115.8 463.4,1125.5 460.4,1128.9" fill="#dcc8ac" />
<polygon points="352.1,1120.3 457.4,1120.3 458.9,1117.3 352.1,1117.3" fill="#c89a8c" fill-opacity="0.6" />
<polyline points="539.3,935.7 584.4,935.7 588.4,949.8 596.5,987.3 607.5,1027.4 620.9,1063.3 636.6,1092.0 654.3,1113.2 673.8,1127.8 695.1,1137.2 718,1142.9 742.6,1146.3 768.6,1148.1 796.1,1149.1 825,1149.6 855.3,1149.9" fill="none" stroke="#d6d8a4" stroke-width="1.2" stroke-opacity="0.6" stroke-linejoin="round"/>
<polyline points="547.4,935.7 592.6,935.7 596.5,947.7 604.6,982.2 615.6,1019.9 629.1,1054.7 644.7,1083.7 662.4,1106.0 681.9,1122.0 703.2,1132.9 726.2,1140.0 750.7,1144.3 776.7,1146.9 804.2,1148.4 833.2,1149.2 863.5,1149.6" fill="none" stroke="#d6d8a4" stroke-width="1.2" stroke-opacity="0.6" stroke-linejoin="round"/>
<polyline points="544.6,935.7 589.7,935.7 593.7,950.9 601.8,990.0 612.8,1031.3 626.2,1067.6 641.9,1096.1 659.6,1116.7 679.1,1130.4 700.4,1139.0 723.3,1144.1 747.9,1147.0 773.9,1148.6 801.4,1149.4 830.4,1149.7 860.6,1149.9" fill="none" stroke="#d6d8a4" stroke-width="1.2" stroke-opacity="0.6" stroke-linejoin="round"/>
<polyline points="547.7,935.7 592.9,935.7 596.8,949.7 604.9,987.1 615.9,1027.1 629.4,1062.9 645,1091.7 662.7,1112.9 682.2,1127.5 703.5,1137.0 726.5,1142.8 751,1146.2 777,1148.1 804.6,1149.1 833.5,1149.6 863.8,1149.9" fill="none" stroke="#d6d8a4" stroke-width="1.2" stroke-opacity="0.6" stroke-linejoin="round"/>
<polyline points="555.2,935.7 600.4,935.7 604.4,951.3 612.4,990.9 623.4,1032.5 636.9,1069.0 652.6,1097.4 670.2,1117.7 689.8,1131.2 711,1139.6 734,1144.5 758.5,1147.2 784.6,1148.7 812.1,1149.4 841,1149.8 871.3,1149.9" fill="none" stroke="#d6d8a4" stroke-width="1.2" stroke-opacity="0.6" stroke-linejoin="round"/>
<polyline points="557.4,935.7 602.5,935.7 606.5,948.6 614.6,984.4 625.6,1023.1 639,1058.4 654.7,1087.4 672.3,1109.2 691.9,1124.6 713.2,1134.9 736.1,1141.3 760.6,1145.3 786.7,1147.5 814.2,1148.8 843.1,1149.4 873.4,1149.8" fill="none" stroke="#d6d8a4" stroke-width="1.2" stroke-opacity="0.6" stroke-linejoin="round"/>
<polyline points="561,935.7 606.2,935.7 610.1,948.5 618.2,984.0 629.2,1022.6 642.7,1057.8 658.3,1086.8 676,1108.7 695.5,1124.2 716.8,1134.6 739.8,1141.1 764.3,1145.1 790.3,1147.4 817.8,1148.7 846.8,1149.4 877.1,1149.7" fill="none" stroke="#d6d8a4" stroke-width="1.2" stroke-opacity="0.6" stroke-linejoin="round"/>
<polyline points="562.7,935.7 607.9,935.7 611.8,950.5 619.9,989.1 630.9,1029.9 644.4,1066.1 660,1094.7 677.7,1115.5 697.2,1129.5 718.5,1138.4 741.5,1143.7 766,1146.8 792,1148.4 819.5,1149.3 848.5,1149.7 878.8,1149.9" fill="none" stroke="#d6d8a4" stroke-width="1.2" stroke-opacity="0.6" stroke-linejoin="round"/>
<polyline points="563.9,935.7 609.1,935.7 613,950.3 621.1,988.7 632.1,1029.3 645.6,1065.4 661.2,1094.1 678.9,1115.0 698.4,1129.1 719.7,1138.1 742.7,1143.5 767.2,1146.7 793.2,1148.4 820.7,1149.2 849.7,1149.7 880,1149.9" fill="none" stroke="#d6d8a4" stroke-width="1.2" stroke-opacity="0.6" stroke-linejoin="round"/>
<polyline points="572,935.7 617.2,935.7 621.2,951.8 629.2,992.3 640.2,1034.5 653.7,1071.1 669.3,1099.4 687,1119.3 706.5,1132.4 727.8,1140.4 750.8,1145.0 775.3,1147.5 801.4,1148.9 828.9,1149.5 857.8,1149.8 888.1,1150.0" fill="none" stroke="#d6d8a4" stroke-width="1.2" stroke-opacity="0.6" stroke-linejoin="round"/>
<polyline points="570.8,935.7 616,935.7 620,948.5 628,984.2 639,1022.9 652.5,1058.2 668.1,1087.1 685.8,1109.0 705.3,1124.4 726.6,1134.7 749.6,1141.3 774.1,1145.2 800.2,1147.5 827.7,1148.7 856.6,1149.4 886.9,1149.7" fill="none" stroke="#d6d8a4" stroke-width="1.2" stroke-opacity="0.6" stroke-linejoin="round"/>
<polyline points="575.5,935.7 620.6,935.7 624.6,951.9 632.7,992.5 643.7,1034.8 657.1,1071.4 672.8,1099.7 690.5,1119.6 710,1132.6 731.3,1140.5 754.2,1145.1 778.8,1147.6 804.8,1148.9 832.3,1149.5 861.2,1149.8 891.5,1150.0" fill="none" stroke="#d6d8a4" stroke-width="1.2" stroke-opacity="0.6" stroke-linejoin="round"/>
<polyline points="577.9,935.7 623,935.7 627,949.4 635.1,986.4 646.1,1026.1 659.5,1061.8 675.2,1090.6 692.9,1112.0 712.4,1126.8 733.7,1136.5 756.6,1142.5 781.2,1146.0 807.2,1147.9 834.7,1149.0 863.6,1149.6 893.9,1149.8" fill="none" stroke="#d6d8a4" stroke-width="1.2" stroke-opacity="0.6" stroke-linejoin="round"/>
<polyline points="584.9,935.7 630.1,935.7 634.1,947.6 642.1,981.9 653.1,1019.5 666.6,1054.3 682.3,1083.3 699.9,1105.6 719.5,1121.7 740.7,1132.7 763.7,1139.8 788.2,1144.2 814.3,1146.9 841.8,1148.4 870.7,1149.2 901,1149.6" fill="none" stroke="#d6d8a4" stroke-width="1.2" stroke-opacity="0.6" stroke-linejoin="round"/>
<polyline points="594.5,935.7 639.7,935.7 643.6,947.6 651.7,981.9 662.7,1019.4 676.2,1054.2 691.8,1083.1 709.5,1105.5 729,1121.6 750.3,1132.6 773.3,1139.8 797.8,1144.2 823.8,1146.8 851.4,1148.4 880.3,1149.2 910.6,1149.6" fill="none" stroke="#d6d8a4" stroke-width="1.2" stroke-opacity="0.6" stroke-linejoin="round"/>
<polyline points="593.6,935.7 638.7,935.7 642.7,951.8 650.8,992.2 661.8,1034.4 675.2,1071.0 690.9,1099.3 708.5,1119.3 728.1,1132.3 749.4,1140.4 772.3,1145.0 796.8,1147.5 822.9,1148.9 850.4,1149.5 879.3,1149.8 909.6,1150.0" fill="none" stroke="#d6d8a4" stroke-width="1.2" stroke-opacity="0.6" stroke-linejoin="round"/>
<polyline points="596.8,935.7 641.9,935.7 645.9,949.7 654,987.0 665,1027.0 678.4,1062.8 694.1,1091.6 711.8,1112.9 731.3,1127.5 752.6,1137.0 775.5,1142.8 800,1146.2 826.1,1148.1 853.6,1149.1 882.5,1149.6 912.8,1149.9" fill="none" stroke="#d6d8a4" stroke-width="1.2" stroke-opacity="0.6" stroke-linejoin="round"/>
<polyline points="607.1,935.7 652.3,935.7 656.2,949.9 664.3,987.6 675.3,1027.8 688.8,1063.8 704.4,1092.5 722.1,1113.6 741.6,1128.1 762.9,1137.4 785.9,1143.1 810.4,1146.4 836.5,1148.2 864,1149.1 892.9,1149.6 923.2,1149.9" fill="none" stroke="#d6d8a4" stroke-width="1.2" stroke-opacity="0.6" stroke-linejoin="round"/>
<polyline points="607.7,935.7 652.9,935.7 656.9,950.1 664.9,988.0 675.9,1028.4 689.4,1064.4 705,1093.1 722.7,1114.1 742.2,1128.5 763.5,1137.7 786.5,1143.2 811,1146.5 837.1,1148.2 864.6,1149.2 893.5,1149.6 923.8,1149.9" fill="none" stroke="#d6d8a4" stroke-width="1.2" stroke-opacity="0.6" stroke-linejoin="round"/>
<polyline points="616.2,935.7 661.4,935.7 665.3,948.9 673.4,985.1 684.4,1024.1 697.9,1059.6 713.5,1088.5 731.2,1110.2 750.7,1125.4 772,1135.4 794.9,1141.7 819.5,1145.5 845.5,1147.7 873,1148.8 902,1149.5 932.3,1149.8" fill="none" stroke="#d6d8a4" stroke-width="1.2" stroke-opacity="0.6" stroke-linejoin="round"/>
<polyline points="622.4,935.7 667.6,935.7 671.5,948.0 679.5,982.8 690.4,1020.8 703.7,1055.8 719.3,1084.8 736.8,1106.9 756.1,1122.8 777.2,1133.5 799.9,1140.4 824.3,1144.6 850.1,1147.1 877.3,1148.5 906,1149.3 936,1149.7" fill="none" stroke="#d6d8a4" stroke-width="1.2" stroke-opacity="0.6" stroke-linejoin="round"/>
<polyline points="626.8,935.7 672,935.7 675.8,951.0 683.7,990.4 694.4,1031.8 707.5,1068.2 722.8,1096.7 740,1117.1 759.1,1130.7 779.8,1139.2 802.2,1144.3 826.1,1147.1 851.5,1148.6 878.3,1149.4 906.5,1149.8 936,1149.9" fill="none" stroke="#d6d8a4" stroke-width="1.2" stroke-opacity="0.6" stroke-linejoin="round"/>
<polyline points="633.6,935.7 678.8,935.7 682.5,949.6 690.2,986.9 700.6,1026.7 713.4,1062.6 728.3,1091.3 745.1,1112.6 763.6,1127.3 783.8,1136.8 805.6,1142.7 828.9,1146.1 853.6,1148.0 879.8,1149.1 907.2,1149.6 936,1149.8" fill="none" stroke="#d6d8a4" stroke-width="1.2" stroke-opacity="0.6" stroke-linejoin="round"/>
<polyline points="636.4,935.7 681.6,935.7 685.3,949.0 692.9,985.4 703.2,1024.6 715.9,1060.1 730.6,1089.0 747.2,1110.6 765.5,1125.7 785.5,1135.7 807,1141.9 830.1,1145.6 854.5,1147.7 880.4,1148.9 907.6,1149.5 936,1149.8" fill="none" stroke="#d6d8a4" stroke-width="1.2" stroke-opacity="0.6" stroke-linejoin="round"/>
<polyline points="643.3,935.7 688.5,935.7 692.1,949.3 699.5,986.1 709.5,1025.6 721.8,1061.3 736.1,1090.2 752.3,1111.6 770.1,1126.5 789.6,1136.3 810.5,1142.3 833,1145.9 856.8,1147.9 881.9,1149.0 908.3,1149.5 936,1149.8" fill="none" stroke="#d6d8a4" stroke-width="1.2" stroke-opacity="0.6" stroke-linejoin="round"/>
<polyline points="644.3,935.7 689.5,935.7 693.1,949.0 700.4,985.3 710.4,1024.5 722.7,1060.1 736.9,1088.9 753,1110.6 770.8,1125.7 790.2,1135.7 811,1141.9 833.4,1145.6 857.1,1147.7 882.1,1148.9 908.4,1149.5 936,1149.8" fill="none" stroke="#d6d8a4" stroke-width="1.2" stroke-opacity="0.6" stroke-linejoin="round"/>
<polyline points="649,935.7 694.1,935.7 697.6,946.0 704.9,977.7 714.7,1013.2 726.7,1046.9 740.7,1075.7 756.5,1098.7 773.9,1116.0 792.9,1128.3 813.4,1136.6 835.3,1142.0 858.6,1145.4 883.1,1147.4 909,1148.6 936,1149.3" fill="none" stroke="#d6d8a4" stroke-width="1.2" stroke-opacity="0.6" stroke-linejoin="round"/>
<polyline points="658.3,935.7 703.5,935.7 706.9,947.5 713.8,981.6 723.3,1019.0 734.8,1053.7 748.3,1082.7 763.4,1105.1 780.2,1121.3 798.5,1132.4 818.2,1139.6 839.2,1144.1 861.6,1146.8 885.2,1148.3 910,1149.2 936,1149.6" fill="none" stroke="#d6d8a4" stroke-width="1.2" stroke-opacity="0.6" stroke-linejoin="round"/>
<polyline points="662.3,935.7 707.5,935.7 710.8,944.7 717.6,974.4 726.9,1008.1 738.3,1040.6 751.5,1069.3 766.4,1092.7 782.8,1110.7 800.8,1124.0 820.2,1133.4 840.9,1139.7 862.8,1143.8 886,1146.4 910.4,1148.0 936,1148.9" fill="none" stroke="#d6d8a4" stroke-width="1.2" stroke-opacity="0.6" stroke-linejoin="round"/>
<polyline points="669,935.7 714.1,935.7 717.4,947.1 724,980.5 733,1017.4 744,1051.8 756.9,1080.8 771.3,1103.4 787.3,1119.9 804.8,1131.3 823.5,1138.8 843.6,1143.6 865,1146.4 887.5,1148.1 911.2,1149.0 936,1149.5" fill="none" stroke="#d6d8a4" stroke-width="1.2" stroke-opacity="0.6" stroke-linejoin="round"/>
<polyline points="677.4,935.7 722.6,935.7 725.7,944.7 732.1,974.6 740.7,1008.3 751.3,1041.0 763.7,1069.6 777.6,1093.0 793,1111.0 809.8,1124.3 827.8,1133.6 847.2,1139.8 867.7,1143.9 889.4,1146.5 912.1,1148.0 936,1148.9" fill="none" stroke="#d6d8a4" stroke-width="1.2" stroke-opacity="0.6" stroke-linejoin="round"/>
<polyline points="684.9,935.7 730,935.7 733,946.3 739.2,978.6 747.5,1014.6 757.8,1048.5 769.7,1077.4 783.1,1100.3 798,1117.3 814.2,1129.3 831.6,1137.3 850.3,1142.5 870.1,1145.8 891,1147.7 913,1148.8 936,1149.4" fill="none" stroke="#d6d8a4" stroke-width="1.2" stroke-opacity="0.6" stroke-linejoin="round"/>
<polyline points="686.1,935.7 731.2,935.7 734.2,943.6 740.3,971.5 748.6,1003.5 758.8,1035.1 770.6,1063.3 784,1086.9 798.8,1105.6 814.9,1119.8 832.2,1130.0 850.7,1137.2 870.4,1142.0 891.2,1145.2 913.1,1147.1 936,1148.4" fill="none" stroke="#d6d8a4" stroke-width="1.2" stroke-opacity="0.6" stroke-linejoin="round"/>
<polyline points="695.3,935.7 740.4,935.7 743.3,942.6 749.1,969.0 757,999.6 766.8,1030.1 778.1,1057.9 790.8,1081.6 804.9,1100.8 820.3,1115.7 836.9,1126.7 854.6,1134.6 873.4,1140.1 893.2,1143.8 914.1,1146.2 936,1147.8" fill="none" stroke="#d6d8a4" stroke-width="1.2" stroke-opacity="0.6" stroke-linejoin="round"/>
<polyline points="347.1,1039.3 487.6,1039.3" fill="none" stroke="#dcd2a4" stroke-width="1.5" stroke-opacity="0.45" stroke-linejoin="round"/>
<polyline points="363.4,1023.5 476.5,1023.5" fill="none" stroke="#9a6464" stroke-width="1.5" stroke-opacity="0.45" stroke-linejoin="round"/>
<polyline points="349,945.0 469.7,945.0" fill="none" stroke="#c89a8a" stroke-width="1.5" stroke-opacity="0.45" stroke-linejoin="round"/>
<polyline points="346.3,996.0 471.8,996.0" fill="none" stroke="#a87272" stroke-width="1.5" stroke-opacity="0.45" stroke-linejoin="round"/>
<polyline points="342.6,943.3 476.2,943.3" fill="none" stroke="#dcd2a4" stroke-width="1.5" stroke-opacity="0.45" stroke-linejoin="round"/>
<polyline points="345.3,977.9 481.6,977.9" fill="none" stroke="#9a6464" stroke-width="1.5" stroke-opacity="0.45" stroke-linejoin="round"/>
<polyline points="344.9,1028.6 484.4,1028.6" fill="none" stroke="#c89a8a" stroke-width="1.5" stroke-opacity="0.45" stroke-linejoin="round"/>
<polyline points="355.7,980.0 485.6,980.0" fill="none" stroke="#a87272" stroke-width="1.5" stroke-opacity="0.45" stroke-linejoin="round"/>
<polyline points="347.9,1042.4 474.2,1042.4" fill="none" stroke="#dcd2a4" stroke-width="1.5" stroke-opacity="0.45" stroke-linejoin="round"/>
<polyline points="347.5,1024.0 485.6,1024.0" fill="none" stroke="#9a6464" stroke-width="1.5" stroke-opacity="0.45" stroke-linejoin="round"/>
<polyline points="353.2,959.3 489,959.3" fill="none" stroke="#c89a8a" stroke-width="1.5" stroke-opacity="0.45" stroke-linejoin="round"/>
<polyline points="349.5,1032.9 477.3,1032.9" fill="none" stroke="#a87272" stroke-width="1.5" stroke-opacity="0.45" stroke-linejoin="round"/>
<polyline points="342.2,975.8 486.6,975.8" fill="none" stroke="#dcd2a4" stroke-width="1.5" stroke-opacity="0.45" stroke-linejoin="round"/>
<polyline points="349.9,969.9 483.7,969.9" fill="none" stroke="#9a6464" stroke-width="1.5" stroke-opacity="0.45" stroke-linejoin="round"/>
<polyline points="363,1011.0 483,1011.0" fill="none" stroke="#c89a8a" stroke-width="1.5" stroke-opacity="0.45" stroke-linejoin="round"/>
<polyline points="348.6,983.5 480.5,983.5" fill="none" stroke="#a87272" stroke-width="1.5" stroke-opacity="0.45" stroke-linejoin="round"/>
<polyline points="364,952.0 481.8,952.0" fill="none" stroke="#dcd2a4" stroke-width="1.5" stroke-opacity="0.45" stroke-linejoin="round"/>
<polyline points="357.6,1022.7 485.6,1022.7" fill="none" stroke="#9a6464" stroke-width="1.5" stroke-opacity="0.45" stroke-linejoin="round"/>
<polyline points="361.7,1043.0 480.3,1043.0" fill="none" stroke="#c89a8a" stroke-width="1.5" stroke-opacity="0.45" stroke-linejoin="round"/>
<polyline points="349.8,956.6 469.3,956.6" fill="none" stroke="#a87272" stroke-width="1.5" stroke-opacity="0.45" stroke-linejoin="round"/>
<polyline points="343.9,994.7 490.2,994.7" fill="none" stroke="#dcd2a4" stroke-width="1.5" stroke-opacity="0.45" stroke-linejoin="round"/>
<polyline points="355.4,985.1 468.6,985.1" fill="none" stroke="#9a6464" stroke-width="1.5" stroke-opacity="0.45" stroke-linejoin="round"/>
<polyline points="355,1034.2 481.6,1034.2" fill="none" stroke="#c89a8a" stroke-width="1.5" stroke-opacity="0.45" stroke-linejoin="round"/>
<polyline points="343.5,990.1 483.7,990.1" fill="none" stroke="#a87272" stroke-width="1.5" stroke-opacity="0.45" stroke-linejoin="round"/>
<polyline points="362.3,988.4 487.9,988.4" fill="none" stroke="#dcd2a4" stroke-width="1.5" stroke-opacity="0.45" stroke-linejoin="round"/>
<polyline points="359.4,991.6 467.2,991.6" fill="none" stroke="#9a6464" stroke-width="1.5" stroke-opacity="0.45" stroke-linejoin="round"/>
<polyline points="343.1,1022.7 467.8,1022.7" fill="none" stroke="#c89a8a" stroke-width="1.5" stroke-opacity="0.45" stroke-linejoin="round"/>
<polyline points="351.6,940.2 489.2,940.2" fill="none" stroke="#a87272" stroke-width="1.5" stroke-opacity="0.45" stroke-linejoin="round"/>
<polyline points="349.4,945.4 468.7,945.4" fill="none" stroke="#dcd2a4" stroke-width="1.5" stroke-opacity="0.45" stroke-linejoin="round"/>
<polyline points="359.9,977.8 486.7,977.8" fill="none" stroke="#9a6464" stroke-width="1.5" stroke-opacity="0.45" stroke-linejoin="round"/>
<polyline points="345.4,960.3 480.8,960.3" fill="none" stroke="#c89a8a" stroke-width="1.5" stroke-opacity="0.45" stroke-linejoin="round"/>
<polyline points="360,953.9 486.1,953.9" fill="none" stroke="#a87272" stroke-width="1.5" stroke-opacity="0.45" stroke-linejoin="round"/>
<polyline points="349.6,1020.5 478,1020.5" fill="none" stroke="#dcd2a4" stroke-width="1.5" stroke-opacity="0.45" stroke-linejoin="round"/>
<polyline points="343,1002.9 484.6,1002.9" fill="none" stroke="#9a6464" stroke-width="1.5" stroke-opacity="0.45" stroke-linejoin="round"/>
<polyline points="361.6,966.7 489.5,966.7" fill="none" stroke="#c89a8a" stroke-width="1.5" stroke-opacity="0.45" stroke-linejoin="round"/>
<polyline points="358.3,984.0 489.6,984.0" fill="none" stroke="#a87272" stroke-width="1.5" stroke-opacity="0.45" stroke-linejoin="round"/>
<polyline points="342.9,954.7 476.1,954.7" fill="none" stroke="#dcd2a4" stroke-width="1.5" stroke-opacity="0.45" stroke-linejoin="round"/>
<polyline points="355.1,985.3 483.1,985.3" fill="none" stroke="#9a6464" stroke-width="1.5" stroke-opacity="0.45" stroke-linejoin="round"/>
<polyline points="354,999.1 480.3,999.1" fill="none" stroke="#c89a8a" stroke-width="1.5" stroke-opacity="0.45" stroke-linejoin="round"/>
<polyline points="350.8,973.7 480,973.7" fill="none" stroke="#a87272" stroke-width="1.5" stroke-opacity="0.45" stroke-linejoin="round"/>
<polyline points="354.9,1041.1 478.7,1041.1" fill="none" stroke="#dcd2a4" stroke-width="1.5" stroke-opacity="0.45" stroke-linejoin="round"/>
<polyline points="358.4,1018.7 471.7,1018.7" fill="none" stroke="#9a6464" stroke-width="1.5" stroke-opacity="0.45" stroke-linejoin="round"/>
<polyline points="344.3,995.0 479.1,995.0" fill="none" stroke="#c89a8a" stroke-width="1.5" stroke-opacity="0.45" stroke-linejoin="round"/>
<polyline points="343.1,1032.3 480.2,1032.3" fill="none" stroke="#a87272" stroke-width="1.5" stroke-opacity="0.45" stroke-linejoin="round"/>
<polyline points="350.7,1033.9 478.2,1033.9" fill="none" stroke="#dcd2a4" stroke-width="1.5" stroke-opacity="0.45" stroke-linejoin="round"/>
<polyline points="355.3,1039.3 488.5,1039.3" fill="none" stroke="#9a6464" stroke-width="1.5" stroke-opacity="0.45" stroke-linejoin="round"/>
<polyline points="350.1,1066.1 449.8,1066.1" fill="none" stroke="#704648" stroke-width="1.4" stroke-opacity="0.35" stroke-linejoin="round"/>
<polyline points="347.6,1109.0 451,1109.0" fill="none" stroke="#a06a6a" stroke-width="1.4" stroke-opacity="0.35" stroke-linejoin="round"/>
<polyline points="344.3,1052.3 446.7,1052.3" fill="none" stroke="#704648" stroke-width="1.4" stroke-opacity="0.35" stroke-linejoin="round"/>
<polyline points="349.6,1049.5 447,1049.5" fill="none" stroke="#a06a6a" stroke-width="1.4" stroke-opacity="0.35" stroke-linejoin="round"/>
<polyline points="351.9,1100.2 450,1100.2" fill="none" stroke="#704648" stroke-width="1.4" stroke-opacity="0.35" stroke-linejoin="round"/>
<polyline points="351.3,1052.0 452.9,1052.0" fill="none" stroke="#a06a6a" stroke-width="1.4" stroke-opacity="0.35" stroke-linejoin="round"/>
<polyline points="351.4,1062.6 453.8,1062.6" fill="none" stroke="#704648" stroke-width="1.4" stroke-opacity="0.35" stroke-linejoin="round"/>
<polyline points="349.9,1090.3 453,1090.3" fill="none" stroke="#a06a6a" stroke-width="1.4" stroke-opacity="0.35" stroke-linejoin="round"/>
<polyline points="345.5,1055.8 447,1055.8" fill="none" stroke="#704648" stroke-width="1.4" stroke-opacity="0.35" stroke-linejoin="round"/>
<polyline points="347.6,1103.4 446.1,1103.4" fill="none" stroke="#a06a6a" stroke-width="1.4" stroke-opacity="0.35" stroke-linejoin="round"/>
<polyline points="345.4,1099.3 449.8,1099.3" fill="none" stroke="#704648" stroke-width="1.4" stroke-opacity="0.35" stroke-linejoin="round"/>
<polyline points="343.4,1092.3 452.8,1092.3" fill="none" stroke="#a06a6a" stroke-width="1.4" stroke-opacity="0.35" stroke-linejoin="round"/>
<polyline points="351.5,1102.3 448.3,1102.3" fill="none" stroke="#704648" stroke-width="1.4" stroke-opacity="0.35" stroke-linejoin="round"/>
<polyline points="344.6,1055.8 447.3,1055.8" fill="none" stroke="#a06a6a" stroke-width="1.4" stroke-opacity="0.35" stroke-linejoin="round"/>
<polyline points="347.8,1105.2 448.7,1105.2" fill="none" stroke="#704648" stroke-width="1.4" stroke-opacity="0.35" stroke-linejoin="round"/>
<polyline points="350.9,1089.7 449.4,1089.7" fill="none" stroke="#a06a6a" stroke-width="1.4" stroke-opacity="0.35" stroke-linejoin="round"/>
<polyline points="363,1120.2 447.4,1120.2" fill="none" stroke="#c89890" stroke-width="1.2" stroke-opacity="0.6" stroke-linejoin="round"/>
<polyline points="360.8,1115.2 444.8,1115.2" fill="none" stroke="#f4eee4" stroke-width="1.2" stroke-opacity="0.6" stroke-linejoin="round"/>
<polyline points="357.5,1117.6 439.4,1117.6" fill="none" stroke="#d8c8a4" stroke-width="1.2" stroke-opacity="0.6" stroke-linejoin="round"/>
<polyline points="358.3,1120.3 441.5,1120.3" fill="none" stroke="#c89890" stroke-width="1.2" stroke-opacity="0.6" stroke-linejoin="round"/>
<polyline points="356.7,1121.9 441.7,1121.9" fill="none" stroke="#f4eee4" stroke-width="1.2" stroke-opacity="0.6" stroke-linejoin="round"/>
<polyline points="362.5,1126.8 446.1,1126.8" fill="none" stroke="#d8c8a4" stroke-width="1.2" stroke-opacity="0.6" stroke-linejoin="round"/>
<polyline points="364,1119.5 443.1,1119.5" fill="none" stroke="#c89890" stroke-width="1.2" stroke-opacity="0.6" stroke-linejoin="round"/>
<polyline points="357.9,1119.2 448.4,1119.2" fill="none" stroke="#f4eee4" stroke-width="1.2" stroke-opacity="0.6" stroke-linejoin="round"/>
<polyline points="345.3,1302.1 523.4,1302.1" fill="none" stroke="#8e5e5e" stroke-width="1.4" stroke-opacity="0.45" stroke-linejoin="round"/>
<polyline points="350.7,1284.4 519.2,1284.4" fill="none" stroke="#d4b6a8" stroke-width="1.4" stroke-opacity="0.45" stroke-linejoin="round"/>
<polyline points="346.5,1297.7 522.8,1297.7" fill="none" stroke="#a06a6a" stroke-width="1.4" stroke-opacity="0.45" stroke-linejoin="round"/>
<polyline points="343.1,1302.6 527.3,1302.6" fill="none" stroke="#8e5e5e" stroke-width="1.4" stroke-opacity="0.45" stroke-linejoin="round"/>
<polyline points="348.4,1298.9 529.3,1298.9" fill="none" stroke="#d4b6a8" stroke-width="1.4" stroke-opacity="0.45" stroke-linejoin="round"/>
<polyline points="351.9,1277.7 529.6,1277.7" fill="none" stroke="#a06a6a" stroke-width="1.4" stroke-opacity="0.45" stroke-linejoin="round"/>
<polyline points="350.2,1275.9 530.6,1275.9" fill="none" stroke="#8e5e5e" stroke-width="1.4" stroke-opacity="0.45" stroke-linejoin="round"/>
<polyline points="346.7,1262.0 530.4,1262.0" fill="none" stroke="#d4b6a8" stroke-width="1.4" stroke-opacity="0.45" stroke-linejoin="round"/>
<polyline points="352.6,1299.4 519.5,1299.4" fill="none" stroke="#a06a6a" stroke-width="1.4" stroke-opacity="0.45" stroke-linejoin="round"/>
<polyline points="349.1,1268.9 528.7,1268.9" fill="none" stroke="#8e5e5e" stroke-width="1.4" stroke-opacity="0.45" stroke-linejoin="round"/>
<polyline points="352.7,1303.1 524.2,1303.1" fill="none" stroke="#d4b6a8" stroke-width="1.4" stroke-opacity="0.45" stroke-linejoin="round"/>
<polyline points="352.7,1288.0 526,1288.0" fill="none" stroke="#a06a6a" stroke-width="1.4" stroke-opacity="0.45" stroke-linejoin="round"/>
<polyline points="354.1,1262.0 528.9,1262.0" fill="none" stroke="#8e5e5e" stroke-width="1.4" stroke-opacity="0.45" stroke-linejoin="round"/>
<polyline points="343.7,1263.5 524.7,1263.5" fill="none" stroke="#d4b6a8" stroke-width="1.4" stroke-opacity="0.45" stroke-linejoin="round"/>
<polyline points="346.6,1285.6 531.8,1285.6" fill="none" stroke="#a06a6a" stroke-width="1.4" stroke-opacity="0.45" stroke-linejoin="round"/>
<polyline points="343.2,1269.0 524.4,1269.0" fill="none" stroke="#8e5e5e" stroke-width="1.4" stroke-opacity="0.45" stroke-linejoin="round"/>
<polyline points="345.2,1261.8 529.7,1261.8" fill="none" stroke="#d4b6a8" stroke-width="1.4" stroke-opacity="0.45" stroke-linejoin="round"/>
<polyline points="350.7,1276.6 523,1276.6" fill="none" stroke="#a06a6a" stroke-width="1.4" stroke-opacity="0.45" stroke-linejoin="round"/>
<polyline points="349.2,1319.8 533.1,1319.8" fill="none" stroke="#e6d8cc" stroke-width="1.3" stroke-opacity="0.45" stroke-linejoin="round"/>
<polyline points="346.9,1349.6 522.6,1349.6" fill="none" stroke="#b88282" stroke-width="1.3" stroke-opacity="0.45" stroke-linejoin="round"/>
<polyline points="359,1321.5 538.6,1321.5" fill="none" stroke="#f0e8e0" stroke-width="1.3" stroke-opacity="0.45" stroke-linejoin="round"/>
<polyline points="359.5,1318.0 530.3,1318.0" fill="none" stroke="#e6d8cc" stroke-width="1.3" stroke-opacity="0.45" stroke-linejoin="round"/>
<polyline points="354.2,1323.9 534.6,1323.9" fill="none" stroke="#b88282" stroke-width="1.3" stroke-opacity="0.45" stroke-linejoin="round"/>
<polyline points="350.2,1361.0 538,1361.0" fill="none" stroke="#f0e8e0" stroke-width="1.3" stroke-opacity="0.45" stroke-linejoin="round"/>
<polyline points="359.6,1347.6 526.1,1347.6" fill="none" stroke="#e6d8cc" stroke-width="1.3" stroke-opacity="0.45" stroke-linejoin="round"/>
<polyline points="358.9,1317.9 533.9,1317.9" fill="none" stroke="#b88282" stroke-width="1.3" stroke-opacity="0.45" stroke-linejoin="round"/>
<polyline points="353.9,1334.9 524.4,1334.9" fill="none" stroke="#f0e8e0" stroke-width="1.3" stroke-opacity="0.45" stroke-linejoin="round"/>
<polyline points="350.8,1336.6 527.1,1336.6" fill="none" stroke="#e6d8cc" stroke-width="1.3" stroke-opacity="0.45" stroke-linejoin="round"/>
<polyline points="350,1310.9 522.8,1310.9" fill="none" stroke="#b88282" stroke-width="1.3" stroke-opacity="0.45" stroke-linejoin="round"/>
<polyline points="350.7,1366.2 534.4,1366.2" fill="none" stroke="#f0e8e0" stroke-width="1.3" stroke-opacity="0.45" stroke-linejoin="round"/>
<polyline points="363.1,1323.8 525.2,1323.8" fill="none" stroke="#e6d8cc" stroke-width="1.3" stroke-opacity="0.45" stroke-linejoin="round"/>
<polyline points="361.9,1348.1 532.7,1348.1" fill="none" stroke="#b88282" stroke-width="1.3" stroke-opacity="0.45" stroke-linejoin="round"/>
<polyline points="362.4,1353.2 527.3,1353.2" fill="none" stroke="#f0e8e0" stroke-width="1.3" stroke-opacity="0.45" stroke-linejoin="round"/>
<polyline points="358.1,1326.8 521,1326.8" fill="none" stroke="#e6d8cc" stroke-width="1.3" stroke-opacity="0.45" stroke-linejoin="round"/>
<polyline points="361.2,1339.8 526.1,1339.8" fill="none" stroke="#b88282" stroke-width="1.3" stroke-opacity="0.45" stroke-linejoin="round"/>
<polyline points="353.9,1317.2 525.6,1317.2" fill="none" stroke="#f0e8e0" stroke-width="1.3" stroke-opacity="0.45" stroke-linejoin="round"/>
<polyline points="350.9,1919.0 547.2,1919.0" fill="none" stroke="#dcd4aa" stroke-width="1.4" stroke-opacity="0.45" stroke-linejoin="round"/>
<polyline points="340.5,1912.9 515.6,1912.9" fill="none" stroke="#a06a6a" stroke-width="1.4" stroke-opacity="0.45" stroke-linejoin="round"/>
<polyline points="338.2,1969.1 551.9,1969.1" fill="none" stroke="#e0d8b4" stroke-width="1.4" stroke-opacity="0.45" stroke-linejoin="round"/>
<polyline points="352.6,1876.9 550.3,1876.9" fill="none" stroke="#c89a8e" stroke-width="1.4" stroke-opacity="0.45" stroke-linejoin="round"/>
<polyline points="338.9,1982.7 525.5,1982.7" fill="none" stroke="#dcd4aa" stroke-width="1.4" stroke-opacity="0.45" stroke-linejoin="round"/>
<polyline points="368.5,1911.6 523.5,1911.6" fill="none" stroke="#a06a6a" stroke-width="1.4" stroke-opacity="0.45" stroke-linejoin="round"/>
<polyline points="363.7,1978.4 540.3,1978.4" fill="none" stroke="#e0d8b4" stroke-width="1.4" stroke-opacity="0.45" stroke-linejoin="round"/>
<polyline points="374,1890.0 516.5,1890.0" fill="none" stroke="#c89a8e" stroke-width="1.4" stroke-opacity="0.45" stroke-linejoin="round"/>
<polyline points="376.2,1978.3 515.5,1978.3" fill="none" stroke="#dcd4aa" stroke-width="1.4" stroke-opacity="0.45" stroke-linejoin="round"/>
<polyline points="341.8,1875.1 547.5,1875.1" fill="none" stroke="#a06a6a" stroke-width="1.4" stroke-opacity="0.45" stroke-linejoin="round"/>
<polyline points="338.6,1972.9 518.5,1972.9" fill="none" stroke="#e0d8b4" stroke-width="1.4" stroke-opacity="0.45" stroke-linejoin="round"/>
<polyline points="365.6,1890.6 519.5,1890.6" fill="none" stroke="#c89a8e" stroke-width="1.4" stroke-opacity="0.45" stroke-linejoin="round"/>
<polyline points="350,1911.9 552.2,1911.9" fill="none" stroke="#dcd4aa" stroke-width="1.4" stroke-opacity="0.45" stroke-linejoin="round"/>
<polyline points="371.2,1974.6 547.5,1974.6" fill="none" stroke="#a06a6a" stroke-width="1.4" stroke-opacity="0.45" stroke-linejoin="round"/>
<polyline points="356.1,1948.6 555.8,1948.6" fill="none" stroke="#e0d8b4" stroke-width="1.4" stroke-opacity="0.45" stroke-linejoin="round"/>
<polyline points="349.8,1955.9 524.4,1955.9" fill="none" stroke="#c89a8e" stroke-width="1.4" stroke-opacity="0.45" stroke-linejoin="round"/>
<polyline points="351.5,1942.8 513.2,1942.8" fill="none" stroke="#dcd4aa" stroke-width="1.4" stroke-opacity="0.45" stroke-linejoin="round"/>
<polyline points="375.4,1926.9 528.8,1926.9" fill="none" stroke="#a06a6a" stroke-width="1.4" stroke-opacity="0.45" stroke-linejoin="round"/>
<polyline points="355.7,1982.4 537,1982.4" fill="none" stroke="#e0d8b4" stroke-width="1.4" stroke-opacity="0.45" stroke-linejoin="round"/>
<polyline points="352.7,1895.2 524.9,1895.2" fill="none" stroke="#c89a8e" stroke-width="1.4" stroke-opacity="0.45" stroke-linejoin="round"/>
<polyline points="346.8,1922.9 517.8,1922.9" fill="none" stroke="#dcd4aa" stroke-width="1.4" stroke-opacity="0.45" stroke-linejoin="round"/>
<polyline points="374,1975.4 549,1975.4" fill="none" stroke="#a06a6a" stroke-width="1.4" stroke-opacity="0.45" stroke-linejoin="round"/>
<polyline points="346.1,1985.9 522.3,1985.9" fill="none" stroke="#e0d8b4" stroke-width="1.4" stroke-opacity="0.45" stroke-linejoin="round"/>
<polyline points="337.2,1871.1 534.6,1871.1" fill="none" stroke="#c89a8e" stroke-width="1.4" stroke-opacity="0.45" stroke-linejoin="round"/>
<polyline points="373,1928.3 548.4,1928.3" fill="none" stroke="#dcd4aa" stroke-width="1.4" stroke-opacity="0.45" stroke-linejoin="round"/>
<polyline points="352.7,1927.9 519.2,1927.9" fill="none" stroke="#a06a6a" stroke-width="1.4" stroke-opacity="0.45" stroke-linejoin="round"/>
<polyline points="379.6,1955.5 543.9,1955.5" fill="none" stroke="#e0d8b4" stroke-width="1.4" stroke-opacity="0.45" stroke-linejoin="round"/>
<polyline points="368.6,1960.8 534.2,1960.8" fill="none" stroke="#c89a8e" stroke-width="1.4" stroke-opacity="0.45" stroke-linejoin="round"/>
<polyline points="365.7,1973.2 553.1,1973.2" fill="none" stroke="#dcd4aa" stroke-width="1.4" stroke-opacity="0.45" stroke-linejoin="round"/>
<polyline points="368.5,1893.5 521.2,1893.5" fill="none" stroke="#a06a6a" stroke-width="1.4" stroke-opacity="0.45" stroke-linejoin="round"/>
<polyline points="347.7,2017.5 538.6,2017.5" fill="none" stroke="#6e4648" stroke-width="1.3" stroke-opacity="0.35" stroke-linejoin="round"/>
<polyline points="363.8,2033.0 548.1,2033.0" fill="none" stroke="#a87272" stroke-width="1.3" stroke-opacity="0.35" stroke-linejoin="round"/>
<polyline points="337.8,2000.2 544.5,2000.2" fill="none" stroke="#6e4648" stroke-width="1.3" stroke-opacity="0.35" stroke-linejoin="round"/>
<polyline points="364.1,2041.8 535.6,2041.8" fill="none" stroke="#a87272" stroke-width="1.3" stroke-opacity="0.35" stroke-linejoin="round"/>
<polyline points="363.6,2034.0 543.7,2034.0" fill="none" stroke="#6e4648" stroke-width="1.3" stroke-opacity="0.35" stroke-linejoin="round"/>
<polyline points="353,2028.6 528,2028.6" fill="none" stroke="#a87272" stroke-width="1.3" stroke-opacity="0.35" stroke-linejoin="round"/>
<polyline points="356.5,2009.2 540.2,2009.2" fill="none" stroke="#6e4648" stroke-width="1.3" stroke-opacity="0.35" stroke-linejoin="round"/>
<polyline points="341.7,2037.5 525.3,2037.5" fill="none" stroke="#a87272" stroke-width="1.3" stroke-opacity="0.35" stroke-linejoin="round"/>
<polyline points="359.3,2015.2 545.6,2015.2" fill="none" stroke="#6e4648" stroke-width="1.3" stroke-opacity="0.35" stroke-linejoin="round"/>
<polyline points="360.3,2030.1 533.3,2030.1" fill="none" stroke="#a87272" stroke-width="1.3" stroke-opacity="0.35" stroke-linejoin="round"/>
<polyline points="350.9,2050.9 524.1,2050.9" fill="none" stroke="#6e4648" stroke-width="1.3" stroke-opacity="0.35" stroke-linejoin="round"/>
<polyline points="342.8,2043.5 541.6,2043.5" fill="none" stroke="#a87272" stroke-width="1.3" stroke-opacity="0.35" stroke-linejoin="round"/>
<polyline points="361.3,1628.3 547.9,1628.3" fill="none" stroke="#e8e8c8" stroke-width="1.3" stroke-opacity="0.6" stroke-linejoin="round"/>
<polyline points="350.5,1651.2 544.8,1651.2" fill="none" stroke="#d0d09c" stroke-width="1.3" stroke-opacity="0.6" stroke-linejoin="round"/>
<polyline points="348.9,1635.9 544.8,1635.9" fill="none" stroke="#f4f4e4" stroke-width="1.3" stroke-opacity="0.6" stroke-linejoin="round"/>
<polyline points="363.7,1649.8 537.6,1649.8" fill="none" stroke="#e8e8c8" stroke-width="1.3" stroke-opacity="0.6" stroke-linejoin="round"/>
<polyline points="363.4,1653.4 548.9,1653.4" fill="none" stroke="#d0d09c" stroke-width="1.3" stroke-opacity="0.6" stroke-linejoin="round"/>
<polyline points="363.8,1641.6 536.4,1641.6" fill="none" stroke="#f4f4e4" stroke-width="1.3" stroke-opacity="0.6" stroke-linejoin="round"/>
<polyline points="353.9,1627.1 547.2,1627.1" fill="none" stroke="#e8e8c8" stroke-width="1.3" stroke-opacity="0.6" stroke-linejoin="round"/>
<polyline points="348,1631.1 547,1631.1" fill="none" stroke="#d0d09c" stroke-width="1.3" stroke-opacity="0.6" stroke-linejoin="round"/>
<polyline points="346.7,1641.5 543.5,1641.5" fill="none" stroke="#f4f4e4" stroke-width="1.3" stroke-opacity="0.6" stroke-linejoin="round"/>
<polyline points="358.6,1624.7 541.7,1624.7" fill="none" stroke="#e8e8c8" stroke-width="1.3" stroke-opacity="0.6" stroke-linejoin="round"/>
<polyline points="354.4,1631.3 548.2,1631.3" fill="none" stroke="#d0d09c" stroke-width="1.3" stroke-opacity="0.6" stroke-linejoin="round"/>
<polyline points="353.3,1632.5 537.3,1632.5" fill="none" stroke="#f4f4e4" stroke-width="1.3" stroke-opacity="0.6" stroke-linejoin="round"/>
<polyline points="353.8,1619.8 540.4,1619.8" fill="none" stroke="#e8e8c8" stroke-width="1.3" stroke-opacity="0.6" stroke-linejoin="round"/>
<polyline points="353.6,1626.4 546.6,1626.4" fill="none" stroke="#d0d09c" stroke-width="1.3" stroke-opacity="0.6" stroke-linejoin="round"/>
<polyline points="367.2,1730.4 520,1730.4" fill="none" stroke="#e4dcb8" stroke-width="1.3" stroke-opacity="0.55" stroke-linejoin="round"/>
<polyline points="366.6,1731.3 522.3,1731.3" fill="none" stroke="#c8a494" stroke-width="1.3" stroke-opacity="0.55" stroke-linejoin="round"/>
<polyline points="357,1733.8 531.1,1733.8" fill="none" stroke="#ece6cc" stroke-width="1.3" stroke-opacity="0.55" stroke-linejoin="round"/>
<polyline points="348.4,1734.3 528.6,1734.3" fill="none" stroke="#e4dcb8" stroke-width="1.3" stroke-opacity="0.55" stroke-linejoin="round"/>
<polyline points="363.2,1727.9 523.5,1727.9" fill="none" stroke="#c8a494" stroke-width="1.3" stroke-opacity="0.55" stroke-linejoin="round"/>
<polyline points="356.2,1750.1 527.7,1750.1" fill="none" stroke="#ece6cc" stroke-width="1.3" stroke-opacity="0.55" stroke-linejoin="round"/>
<polyline points="355.9,1734.6 522.4,1734.6" fill="none" stroke="#e4dcb8" stroke-width="1.3" stroke-opacity="0.55" stroke-linejoin="round"/>
<polyline points="350.4,1721.7 522.9,1721.7" fill="none" stroke="#c8a494" stroke-width="1.3" stroke-opacity="0.55" stroke-linejoin="round"/>
<polyline points="355.4,1728.1 526.9,1728.1" fill="none" stroke="#ece6cc" stroke-width="1.3" stroke-opacity="0.55" stroke-linejoin="round"/>
<polyline points="347,1719.9 525.6,1719.9" fill="none" stroke="#e4dcb8" stroke-width="1.3" stroke-opacity="0.55" stroke-linejoin="round"/>
<polyline points="364.9,1753.8 516,1753.8" fill="none" stroke="#c8a494" stroke-width="1.3" stroke-opacity="0.55" stroke-linejoin="round"/>
<polyline points="348.5,1738.9 524.8,1738.9" fill="none" stroke="#ece6cc" stroke-width="1.3" stroke-opacity="0.55" stroke-linejoin="round"/>
<polyline points="363.3,1738.0 526.3,1738.0" fill="none" stroke="#e4dcb8" stroke-width="1.3" stroke-opacity="0.55" stroke-linejoin="round"/>
<polyline points="366,1733.9 526.1,1733.9" fill="none" stroke="#c8a494" stroke-width="1.3" stroke-opacity="0.55" stroke-linejoin="round"/>
<polyline points="1369.4,1619.1 1500.3,1619.1" fill="none" stroke="#e0e0b8" stroke-width="1.2" stroke-opacity="0.6" stroke-linejoin="round"/>
<polyline points="1352.6,1593.6 1483.6,1593.6" fill="none" stroke="#f8f8f0" stroke-width="1.2" stroke-opacity="0.6" stroke-linejoin="round"/>
<polyline points="1370.5,1645.9 1495.9,1645.9" fill="none" stroke="#e0e0b8" stroke-width="1.2" stroke-opacity="0.6" stroke-linejoin="round"/>
<polyline points="1349.1,1652.0 1494.5,1652.0" fill="none" stroke="#f8f8f0" stroke-width="1.2" stroke-opacity="0.6" stroke-linejoin="round"/>
<polyline points="1353.4,1656.1 1493.9,1656.1" fill="none" stroke="#e0e0b8" stroke-width="1.2" stroke-opacity="0.6" stroke-linejoin="round"/>
<polyline points="1351.4,1592.3 1498.6,1592.3" fill="none" stroke="#f8f8f0" stroke-width="1.2" stroke-opacity="0.6" stroke-linejoin="round"/>
<polyline points="1363.1,1636.4 1478.3,1636.4" fill="none" stroke="#e0e0b8" stroke-width="1.2" stroke-opacity="0.6" stroke-linejoin="round"/>
<polyline points="1347.4,1608.3 1482.4,1608.3" fill="none" stroke="#f8f8f0" stroke-width="1.2" stroke-opacity="0.6" stroke-linejoin="round"/>
<polyline points="1347.2,1620.8 1502.7,1620.8" fill="none" stroke="#e0e0b8" stroke-width="1.2" stroke-opacity="0.6" stroke-linejoin="round"/>
<polyline points="1365.2,1585.0 1487.5,1585.0" fill="none" stroke="#f8f8f0" stroke-width="1.2" stroke-opacity="0.6" stroke-linejoin="round"/>
<polyline points="1357.7,1613.6 1499.8,1613.6" fill="none" stroke="#e0e0b8" stroke-width="1.2" stroke-opacity="0.6" stroke-linejoin="round"/>
<polyline points="1351.4,1567.6 1487.3,1567.6" fill="none" stroke="#f8f8f0" stroke-width="1.2" stroke-opacity="0.6" stroke-linejoin="round"/>
<polyline points="1365.4,1581.1 1492.5,1581.1" fill="none" stroke="#e0e0b8" stroke-width="1.2" stroke-opacity="0.6" stroke-linejoin="round"/>
<polyline points="1357.3,1629.9 1502.8,1629.9" fill="none" stroke="#f8f8f0" stroke-width="1.2" stroke-opacity="0.6" stroke-linejoin="round"/>
<polyline points="1351.5,1677.2 1465.9,1677.2" fill="none" stroke="#f2f2e2" stroke-width="1.2" stroke-opacity="0.5" stroke-linejoin="round"/>
<polyline points="1352.1,1729.9 1483.9,1729.9" fill="none" stroke="#d4c8a0" stroke-width="1.2" stroke-opacity="0.5" stroke-linejoin="round"/>
<polyline points="1346.4,1715.1 1491.4,1715.1" fill="none" stroke="#e0d8b0" stroke-width="1.2" stroke-opacity="0.5" stroke-linejoin="round"/>
<polyline points="1349.3,1687.6 1484.1,1687.6" fill="none" stroke="#f2f2e2" stroke-width="1.2" stroke-opacity="0.5" stroke-linejoin="round"/>
<polyline points="1355.2,1726.7 1478.6,1726.7" fill="none" stroke="#d4c8a0" stroke-width="1.2" stroke-opacity="0.5" stroke-linejoin="round"/>
<polyline points="1360.7,1695.5 1480.6,1695.5" fill="none" stroke="#e0d8b0" stroke-width="1.2" stroke-opacity="0.5" stroke-linejoin="round"/>
<polyline points="1366.5,1668.4 1489.8,1668.4" fill="none" stroke="#f2f2e2" stroke-width="1.2" stroke-opacity="0.5" stroke-linejoin="round"/>
<polyline points="1368.1,1677.7 1467.9,1677.7" fill="none" stroke="#d4c8a0" stroke-width="1.2" stroke-opacity="0.5" stroke-linejoin="round"/>
<polyline points="1365.9,1741.7 1472.4,1741.7" fill="none" stroke="#e0d8b0" stroke-width="1.2" stroke-opacity="0.5" stroke-linejoin="round"/>
<polyline points="1341.1,1753.4 1462.8,1753.4" fill="none" stroke="#f2f2e2" stroke-width="1.2" stroke-opacity="0.5" stroke-linejoin="round"/>
<polyline points="1348.3,1693.7 1488.5,1693.7" fill="none" stroke="#d4c8a0" stroke-width="1.2" stroke-opacity="0.5" stroke-linejoin="round"/>
<polyline points="1347.8,1741.5 1468.1,1741.5" fill="none" stroke="#e0d8b0" stroke-width="1.2" stroke-opacity="0.5" stroke-linejoin="round"/>
<polyline points="1345.4,1722.5 1464.3,1722.5" fill="none" stroke="#f2f2e2" stroke-width="1.2" stroke-opacity="0.5" stroke-linejoin="round"/>
<polyline points="1345.9,1681.1 1464.6,1681.1" fill="none" stroke="#d4c8a0" stroke-width="1.2" stroke-opacity="0.5" stroke-linejoin="round"/>
<polyline points="1364.3,1698.2 1471.4,1698.2" fill="none" stroke="#e0d8b0" stroke-width="1.2" stroke-opacity="0.5" stroke-linejoin="round"/>
<polyline points="1364.5,1671.6 1466.2,1671.6" fill="none" stroke="#f2f2e2" stroke-width="1.2" stroke-opacity="0.5" stroke-linejoin="round"/>
<polyline points="1361.7,1736.4 1475.5,1736.4" fill="none" stroke="#d4c8a0" stroke-width="1.2" stroke-opacity="0.5" stroke-linejoin="round"/>
<polyline points="1354,1685.7 1464.9,1685.7" fill="none" stroke="#e0d8b0" stroke-width="1.2" stroke-opacity="0.5" stroke-linejoin="round"/>
<polyline points="1347.8,1058.1 1451.8,1058.1" fill="none" stroke="#6e4648" stroke-width="1.2" stroke-opacity="0.35" stroke-linejoin="round"/>
<polyline points="1351.2,1078.5 1454.5,1078.5" fill="none" stroke="#a06a6a" stroke-width="1.2" stroke-opacity="0.35" stroke-linejoin="round"/>
<polyline points="1346,1062.4 1447.9,1062.4" fill="none" stroke="#6e4648" stroke-width="1.2" stroke-opacity="0.35" stroke-linejoin="round"/>
<polyline points="1351.9,1060.9 1442.3,1060.9" fill="none" stroke="#a06a6a" stroke-width="1.2" stroke-opacity="0.35" stroke-linejoin="round"/>
<polyline points="1356.5,1085.1 1448.3,1085.1" fill="none" stroke="#6e4648" stroke-width="1.2" stroke-opacity="0.35" stroke-linejoin="round"/>
<polyline points="1353.8,1057.7 1442.7,1057.7" fill="none" stroke="#a06a6a" stroke-width="1.2" stroke-opacity="0.35" stroke-linejoin="round"/>
<polyline points="1350.1,1066.9 1440.9,1066.9" fill="none" stroke="#6e4648" stroke-width="1.2" stroke-opacity="0.35" stroke-linejoin="round"/>
<polyline points="1353.4,1081.7 1445.8,1081.7" fill="none" stroke="#a06a6a" stroke-width="1.2" stroke-opacity="0.35" stroke-linejoin="round"/>
<polyline points="1353,1084.0 1445.1,1084.0" fill="none" stroke="#6e4648" stroke-width="1.2" stroke-opacity="0.35" stroke-linejoin="round"/>
<polyline points="1348.8,1039.5 1440.5,1039.5" fill="none" stroke="#a06a6a" stroke-width="1.2" stroke-opacity="0.35" stroke-linejoin="round"/>
<polyline points="1351.1,1060.2 1441.8,1060.2" fill="none" stroke="#6e4648" stroke-width="1.2" stroke-opacity="0.35" stroke-linejoin="round"/>
<polyline points="1354.6,1083.7 1445.9,1083.7" fill="none" stroke="#a06a6a" stroke-width="1.2" stroke-opacity="0.35" stroke-linejoin="round"/>
<polyline points="1175,991.4 1327.2,991.4" fill="none" stroke="#4a4c4e" stroke-width="1.6" stroke-dasharray="10 18" stroke-linejoin="round"/>
<polyline points="1175,1004.8 1327.2,1004.8" fill="none" stroke="#4a4c4e" stroke-width="1.6" stroke-dasharray="10 18" stroke-linejoin="round"/>
<polyline points="1327.2,993.7 1327.4,994.2 1327.8,995.3 1328.4,997.0 1329.1,999.3 1330,1002.2 1330.9,1005.8 1331.9,1010.2 1333.1,1015.2 1334.5,1020.1 1336.2,1024.8 1338.2,1029.5 1340.4,1033.9 1343.8,1037.5 1348.3,1040.1 1354,1041.9 1360.8,1042.7 1369.6,1043.4 1380.5,1043.8 1393.5,1044.0 1408.6,1044.0 1421.4,1043.8 1432,1043.4 1440.3,1042.7 1446.3,1041.9 1451.8,1040.4 1456.7,1038.3 1461,1035.6 1464.8,1032.3 1468.5,1028.9 1472.3,1025.5 1476.1,1022.2 1479.8,1018.8 1484.5,1015.5 1490.2,1012.1 1496.8,1008.8 1504.3,1005.4 1512.2,1002.5 1520.5,1000.2 1529.2,998.3 1538.2,996.9 1547.8,995.6 1558,994.5 1568.8,993.5 1580.1,992.7 1609.3,992.1 1656.4,991.6 1721.4,991.4 1804.3,991.4 1866.4,991.4 1907.9,991.4 1928.6,991.4" fill="none" stroke="#4a4c4e" stroke-width="1.7" stroke-dasharray="9 10" stroke-linejoin="round"/>
<polyline points="1327.2,997.0 1327.4,998.8 1327.6,1002.3 1328,1007.5 1328.5,1014.5 1329.3,1021.5 1330.2,1028.5 1331.4,1035.5 1332.7,1042.5 1334.9,1048.7 1337.8,1054.3 1341.5,1059.2 1346.1,1063.4 1351.5,1066.9 1357.9,1069.7 1365.3,1071.8 1373.6,1073.2 1382.6,1074.3 1392.4,1075.0 1403,1075.3 1414.3,1075.3 1424.6,1075.1 1434,1074.7 1442.5,1074.1 1450.1,1073.2 1457.2,1071.9 1464,1070.1 1470.4,1067.8 1476.4,1065.0 1482.5,1061.7 1488.5,1057.9 1494.5,1053.6 1500.6,1048.9 1506.4,1044.3 1512,1039.8 1517.5,1035.5 1522.8,1031.3 1528.2,1027.4 1533.9,1023.9 1539.7,1020.8 1545.8,1018.0 1552.9,1015.5 1561.2,1013.2 1570.6,1011.3 1581.2,1009.6 1609.8,1008.2 1656.6,1007.1 1721.4,1006.2 1804.3,1005.7 1866.4,1005.3 1907.9,1005.0 1928.6,1004.8" fill="none" stroke="#4a4c4e" stroke-width="1.7" stroke-dasharray="9 10" stroke-linejoin="round"/>
<polyline points="183.5,1432.7 334.6,1432.7" fill="none" stroke="#4a4c4e" stroke-width="1.6" stroke-dasharray="10 18" stroke-linejoin="round"/>
<polyline points="183.5,1441.7 334.6,1441.7" fill="none" stroke="#9a9a9a" stroke-width="1.4" stroke-dasharray="10 18" stroke-linejoin="round"/>
<polyline points="337,1444.3 337.4,1440.5 338.1,1432.8 339.3,1421.3 340.8,1406.0 342.2,1391.2 343.5,1376.9 344.7,1363.1 345.9,1349.9 347.4,1338.7 349.2,1329.4 351.5,1322.1 354.1,1316.8 357.4,1312.8 361.4,1310.0 366,1308.5 371.2,1308.2 379,1308.0 389.1,1307.9 401.7,1307.8 416.8,1307.8 429.8,1308.0 440.7,1308.4 449.5,1309.0 456.3,1309.8 462.5,1311.1 468.1,1312.8 473.2,1315.0 477.7,1317.6 482.1,1320.7 486.2,1324.1 490.1,1327.9 493.9,1332.2 497.5,1336.8 500.9,1341.8 504.1,1347.3 507.1,1353.1 510.1,1358.9 513.1,1364.7 516.1,1370.5 519.1,1376.3 522.5,1382.0 526.3,1387.6 530.4,1393.0 534.9,1398.3 540,1403.3 545.6,1407.9 551.8,1412.2 558.6,1416.2 566,1419.6 573.9,1422.5 582.3,1424.9 591.4,1426.7 600,1428.3 608.3,1429.4 616.2,1430.3 623.7,1430.8 648.2,1431.3 689.6,1431.7 747.9,1432.0 823.1,1432.3 879.6,1432.5 917.2,1432.6 936,1432.7" fill="none" stroke="#4a4c4e" stroke-width="1.7" stroke-dasharray="9 10" stroke-linejoin="round"/>
<polyline points="337,1435.9 337.4,1436.4 338.1,1437.4 339.3,1439.0 340.8,1441.1 342.5,1442.3 344.3,1442.6 346.4,1441.9 348.7,1440.4 352.1,1438.8 356.6,1437.4 362.2,1436.0 369,1434.7 376.5,1433.2 384.8,1431.6 393.8,1429.9 403.6,1428.1 413.2,1426.2 422.6,1424.4 431.8,1422.5 440.9,1420.7 448.8,1419.3 455.5,1418.5 461.2,1418.3 465.7,1418.5 470.4,1419.4 475.3,1420.8 480.4,1422.9 485.6,1425.5 491.3,1428.1 497.3,1430.4 503.7,1432.7 510.5,1434.8 518,1436.6 526.3,1438.0 535.3,1439.2 545.1,1440.0 575.9,1440.6 627.9,1441.1 700.8,1441.3 794.9,1441.5 865.5,1441.6 912.5,1441.6 936,1441.7" fill="none" stroke="#4a4c4e" stroke-width="1.7" stroke-dasharray="9 10" stroke-linejoin="round"/>
<polyline points="1175,1395.2 1326.3,1395.2" fill="none" stroke="#4a4c4e" stroke-width="1.7" stroke-dasharray="10 18" stroke-linejoin="round"/>
<polyline points="1326.3,1395.7 1328.7,1379.1 1333.3,1401.2 1337.8,1440.0 1340.8,1464.9 1343.8,1467.7 1485.5,1467.7" fill="none" stroke="#4a4c4e" stroke-width="1.8" stroke-dasharray="10 14" stroke-linejoin="round"/>
<polyline points="1327.2,1376.3 1330.2,1390.2 1333.3,1423.4 1334.8,1456.6 1336.3,1467.7" fill="none" stroke="#4a4c4e" stroke-width="1.6" stroke-dasharray="8 8" stroke-linejoin="round"/>
<polyline points="1443.3,1467.7 1443.7,1466.0 1444.4,1462.5 1445.5,1457.3 1447,1450.4 1448.6,1443.1 1450.1,1435.5 1451.6,1427.6 1453.1,1419.2 1454.8,1411.2 1456.7,1403.4 1458.7,1395.8 1461,1388.4 1463.8,1382.8 1467.2,1378.8 1471.2,1376.4 1475.7,1375.7 1480.6,1375.2 1485.9,1374.8 1491.5,1374.7 1497.5,1374.7 1503.9,1375.0 1510.7,1375.7 1517.9,1376.7 1525.4,1378.1 1533,1379.5 1540.5,1380.9 1548,1382.3 1555.6,1383.7 1563.1,1385.0 1570.6,1386.2 1578.2,1387.4 1585.7,1388.5 1594.2,1389.6 1603.6,1390.5 1614,1391.4 1625.3,1392.3 1651.7,1393.0 1693.1,1393.6 1749.6,1394.1 1821.2,1394.5 1874.9,1394.8 1910.7,1395.1 1928.6,1395.2" fill="none" stroke="#4a4c4e" stroke-width="1.8" stroke-dasharray="9 10" stroke-linejoin="round"/>
<polyline points="1524.7,1467.7 1525,1465.6 1525.8,1461.5 1526.9,1455.2 1528.4,1446.9 1530.1,1439.0 1532,1431.4 1534.1,1424.1 1536.4,1417.2 1539,1411.3 1542,1406.3 1545.4,1402.4 1549.2,1399.5 1554.6,1397.3 1561.8,1395.8 1570.6,1395.0 1581.2,1394.8 1609.8,1394.7 1656.6,1394.7 1721.4,1394.8 1804.3,1395.0 1866.4,1395.1 1907.9,1395.1 1928.6,1395.2" fill="none" stroke="#4a4c4e" stroke-width="1.8" stroke-dasharray="9 10" stroke-linejoin="round"/>
<polyline points="337,1777.2 337.3,1775.1 337.9,1770.9 338.7,1764.7 339.8,1756.4 340.9,1747.3 341.8,1737.6 342.7,1727.2 343.4,1716.0 344.4,1706.6 345.8,1698.8 347.4,1692.7 349.2,1688.2 351.8,1684.4 355,1681.2 358.8,1678.6 363.3,1676.7 368.2,1675.2 373.5,1674.1 379.2,1673.4 385.2,1673.1 395,1672.9 408.5,1672.8 425.8,1672.9 446.9,1673.0 463.8,1673.4 476.6,1674.1 485.3,1675.1 489.8,1676.4 494.3,1678.2 498.8,1680.6 503.3,1683.7 507.8,1687.3 512.2,1691.7 516.3,1697.0 520.2,1703.1 524,1710.1 527.8,1717.4 531.5,1725.0 535.3,1733.0 539.1,1741.3 542.8,1748.8 546.6,1755.3 550.3,1760.9 554.1,1765.7 557.7,1769.4 561.1,1772.1 564.3,1773.8 567.3,1774.5 592.3,1775.0 639.3,1775.4 708.4,1775.5 799.4,1775.5 867.7,1775.5 913.2,1775.5 936,1775.5" fill="none" stroke="#4a4c4e" stroke-width="1.8" stroke-dasharray="9 10" stroke-linejoin="round"/>
<polyline points="183.5,1775.5 335.5,1775.5" fill="none" stroke="#4a4c4e" stroke-width="1.4" stroke-dasharray="10 18" stroke-linejoin="round"/>
<polyline points="1175,1763.6 1327.2,1763.6" fill="none" stroke="#4a4c4e" stroke-width="1.6" stroke-dasharray="10 18" stroke-linejoin="round"/>
<polyline points="1327.2,1763.6 1327.4,1761.1 1327.8,1756.1 1328.4,1748.7 1329.1,1738.7 1330,1729.3 1330.9,1720.4 1331.9,1712.1 1333.1,1704.4 1334.5,1697.6 1336.2,1691.8 1338.2,1686.9 1340.4,1683.0 1343.8,1679.8 1348.3,1677.1 1354,1675.1 1360.8,1673.6 1369.1,1672.3 1378.8,1671.0 1390.2,1669.8 1403,1668.7 1414.6,1668.0 1425.2,1667.8 1434.6,1668.0 1442.9,1668.7 1450.4,1669.9 1457.2,1671.8 1463.3,1674.2 1468.5,1677.2 1473.6,1680.4 1478.5,1684.0 1483.2,1687.8 1487.7,1691.9 1492.5,1696.6 1497.4,1701.8 1502.4,1707.7 1507.7,1714.1 1513,1720.3 1518.3,1726.3 1523.5,1732.0 1528.8,1737.6 1534.7,1742.5 1541.1,1746.8 1548,1750.5 1555.6,1753.6 1563.1,1756.2 1570.6,1758.3 1578.2,1760.0 1585.7,1761.1 1612.1,1761.9 1657.3,1762.6 1721.4,1763.1 1804.3,1763.3 1866.4,1763.4 1907.9,1763.6 1928.6,1763.6" fill="none" stroke="#4a4c4e" stroke-width="1.8" stroke-dasharray="9 10" stroke-linejoin="round"/>
<polyline points="1327.2,1776.9 1327.5,1775.9 1328.1,1774.0 1328.9,1771.1 1330.1,1767.2 1332.4,1764.3 1336,1762.3 1340.8,1761.2 1346.8,1761.1 1355.1,1761.2 1365.7,1761.4 1378.5,1761.8 1393.5,1762.3 1406.7,1762.9 1418,1763.6 1427.5,1764.3 1435,1765.1 1441.4,1766.0 1446.7,1767.1 1450.8,1768.3 1453.8,1769.6 1456.5,1770.9 1458.7,1772.2 1460.6,1773.6 1462.1,1774.9 1463.3,1775.9 1464,1776.6 1464.4,1776.9" fill="none" stroke="#4a4c4e" stroke-width="1.8" stroke-dasharray="9 10" stroke-linejoin="round"/>
<polyline points="183.5,2044.9 335.5,2044.9" fill="none" stroke="#4a4c4e" stroke-width="1.6" stroke-dasharray="10 18" stroke-linejoin="round"/>
<polyline points="335.5,2041.5 335.7,2031.8 336.1,2012.4 336.6,1983.3 337.4,1944.5 338.2,1914.2 339.2,1892.4 340.2,1879.2 341.3,1874.5 344.4,1870.9 349.5,1868.4 356.6,1867.0 365.6,1866.7 375.2,1866.5 385.4,1866.4 396.1,1866.3 407.4,1866.3 418.1,1866.4 428.3,1866.5 437.8,1866.7 446.9,1867.0 454.4,1868.1 460.4,1870.1 464.9,1872.8 467.9,1876.4 471,1880.8 474,1885.9 477,1891.8 480,1898.5 483.2,1906.0 486.6,1914.3 490.1,1923.4 493.9,1933.4 497.7,1943.0 501.4,1952.1 505.2,1960.9 509,1969.2 512.9,1977.2 517,1985.0 521.4,1992.5 525.9,1999.7 530.6,2006.3 535.5,2012.4 540.6,2018.0 545.8,2023.0 551.5,2027.4 557.5,2031.3 563.9,2034.6 570.7,2037.4 578.2,2039.7 586.5,2041.5 595.5,2042.8 605.3,2043.6 632.4,2044.2 676.8,2044.7 738.5,2044.9 817.5,2044.9 876.7,2044.9 916.2,2044.9 936,2044.9" fill="none" stroke="#4a4c4e" stroke-width="1.8" stroke-dasharray="9 10" stroke-linejoin="round"/>
<polyline points="335.5,2085.9 335.8,2084.2 336.4,2080.9 337.2,2075.9 338.3,2069.3 339.7,2063.6 341.4,2058.9 343.4,2055.1 345.7,2052.4 349.2,2050.4 354.1,2049.3 360.3,2049.0 367.9,2049.6 376.3,2050.3 385.7,2051.1 396.1,2052.1 407.4,2053.2 417.7,2054.2 427.1,2055.0 435.6,2055.7 443.1,2056.2 449.7,2057.3 455.3,2059.0 460,2061.2 463.8,2064.0 467.4,2066.9 470.8,2070.0 474,2073.1 477,2076.5 479.2,2079.0 480.7,2080.6 481.5,2081.5" fill="none" stroke="#4a4c4e" stroke-width="1.8" stroke-dasharray="9 10" stroke-linejoin="round"/>
<polyline points="1175,2063.4 1928.6,2063.4" fill="none" stroke="#4a4c4e" stroke-width="1.6" stroke-dasharray="9 18" stroke-linejoin="round"/>
<polyline points="1327.2,2063.4 1327.5,2061.3 1328.1,2057.2 1328.9,2051.0 1330.1,2042.7 1331.2,2034.1 1332.3,2025.3 1333.4,2016.2 1334.6,2006.8 1335.7,1999.3 1336.8,1993.8 1338,1990.2 1339.1,1988.5 1340.5,1987.7 1342.2,1987.7 1344.2,1988.5 1346.4,1990.2 1350.4,1991.5 1356.1,1992.5 1363.4,1993.1 1372.4,1993.4 1382.1,1993.6 1392.2,1993.9 1403,1994.2 1414.3,1994.5 1424.6,1995.0 1434,1995.6 1442.5,1996.5 1450.1,1997.7 1457.2,1999.2 1464,2001.1 1470.4,2003.5 1476.4,2006.2 1482.3,2009.1 1487.9,2012.2 1493.4,2015.3 1498.7,2018.6 1503.8,2022.2 1508.7,2026.1 1513.4,2030.2 1517.9,2034.7 1522.6,2038.5 1527.5,2041.9 1532.6,2044.6 1537.9,2046.8 1544.1,2048.9 1551.2,2050.8 1559.3,2052.6 1568.4,2054.3 1578,2055.8 1588.2,2057.2 1598.9,2058.4 1610.2,2059.5 1622.4,2060.5 1635.6,2061.2 1649.8,2061.9 1664.8,2062.3 1676.1,2062.6 1683.7,2062.8 1687.4,2063.0" fill="none" stroke="#4a4c4e" stroke-width="1.8" stroke-dasharray="9 10" stroke-linejoin="round"/>
<polyline points="1173.9,309.2 1924.5,309.2" fill="none" stroke="#4a4c4e" stroke-width="1.8" stroke-dasharray="15 12.5" stroke-linejoin="round"/>
<polyline points="1327.6,266.4 1327.7,265.8 1328,264.7 1328.3,262.9 1328.7,260.5 1329.9,258.9 1331.7,257.9 1334.2,257.7 1337.3,258.2 1339.9,258.9 1342,259.9 1343.5,261.2 1344.5,262.8 1345.9,265.1 1347.9,268.0 1350.3,271.5 1353.3,275.8 1355.8,279.3 1357.9,282.0 1359.6,284.0 1360.8,285.3 1362.9,286.9 1365.6,289.0 1369.2,291.4 1373.4,294.3 1377.1,296.5 1380.1,298.3 1382.6,299.5 1384.4,300.1 1386.9,300.8 1390.2,301.7 1394.2,302.7 1398.9,303.8 1410.1,304.7 1427.7,305.4 1451.8,305.9 1482.4,306.2 1530,306.5 1594.9,306.8 1676.8,307.2 1775.9,307.5 1850.2,307.7 1899.7,307.9 1924.5,307.9" fill="none" stroke="#4a4c4e" stroke-width="2.0" stroke-dasharray="12 12" stroke-linejoin="round"/>
<polyline points="1337.2,283.4 1337.5,283.8 1338.2,284.6 1339.1,285.8 1340.4,287.3 1342.3,289.4 1344.7,291.9 1347.6,294.9 1351.2,298.3 1354.3,301.1 1357,303.3 1359.4,304.7 1361.3,305.5 1364.3,306.2 1368.2,306.9 1373,307.5 1378.9,308.1 1383.3,308.5 1386.2,308.7 1387.7,308.9" fill="none" stroke="#4a4c4e" stroke-width="2.0" stroke-dasharray="12 12" stroke-linejoin="round"/>
<polyline points="185.5,338.8 936.1,338.8" fill="none" stroke="#4a4c4e" stroke-width="1.8" stroke-dasharray="14 16" stroke-linejoin="round"/>
<polyline points="336.2,226.5 336.8,241.1 336.5,259.4 337.4,274.0 336.5,292.3 337.7,307.0 337.1,321.6 338.6,332.6 340.1,339.9" fill="none" stroke="#4a4c4e" stroke-width="1.8" stroke-dasharray="8 7" stroke-linejoin="round"/>
<polyline points="346.1,252.1 346.7,266.7 345.5,288.7 347.6,310.6 347.6,328.9 348.5,339.9" fill="none" stroke="#4a4c4e" stroke-width="1.8" stroke-dasharray="8 7" stroke-linejoin="round"/>
<polyline points="340.1,274.0 339.8,296.0 341,317.9 341.6,336.2 343.1,339.9" fill="none" stroke="#4a4c4e" stroke-width="1.8" stroke-dasharray="8 7" stroke-linejoin="round"/>
<polyline points="183.5,849.5 936,849.5" fill="none" stroke="#4a4c4e" stroke-width="1.8" stroke-dasharray="10 18" stroke-linejoin="round"/>
<polyline points="336.4,727.0 335.8,756.7 336.7,782.7 335.5,812.5 336.4,834.8 335.8,849.5" fill="none" stroke="#4a4c4e" stroke-width="1.8" stroke-dasharray="8 7" stroke-linejoin="round"/>
<polyline points="340,775.3 340.6,797.6 339.4,819.9 340,842.2" fill="none" stroke="#4a4c4e" stroke-width="1.8" stroke-dasharray="8 7" stroke-linejoin="round"/>
<polyline points="346,775.3 346.6,797.6 345.4,819.9 346.6,849.5" fill="none" stroke="#4a4c4e" stroke-width="1.8" stroke-dasharray="8 7" stroke-linejoin="round"/>
<polyline points="183.5,1151.6 334.6,1151.6" fill="none" stroke="#4a4c4e" stroke-width="1.6" stroke-dasharray="9.7 18.5" stroke-linejoin="round"/>
<polyline points="183.5,1154.9 334.6,1154.9" fill="none" stroke="#4a4c4e" stroke-width="1.6" stroke-dasharray="9.7 18.5" stroke-linejoin="round"/>
<polyline points="334,1151.6 334.3,1151.3 334.8,1150.9 335.7,1150.2 336.8,1149.2 338,1146.4 339.4,1141.8 340.8,1135.3 342.3,1126.9 343.9,1116.4 345.6,1103.9 347.4,1089.2 349.2,1072.5 351.1,1055.3 353,1037.6 354.9,1019.4 356.8,1000.8 358.6,984.3 360.2,969.9 361.8,957.6 363.3,947.3 364.5,939.7 365.2,935.7 365.6,935.7" fill="none" stroke="#4a4c4e" stroke-width="1.8" stroke-dasharray="9 8" stroke-linejoin="round"/>
<polyline points="502.6,935.7 503.2,935.7 504.6,938.0 506.6,944.1 509.3,952.2 512.4,961.6 515.8,972.2 519.5,984.2 523.6,997.4 527.2,1008.9 530.3,1018.6 533,1026.7 535.3,1033.0 537.6,1039.3 539.8,1045.7 542.1,1052.0 544.3,1058.3 546.8,1065.2 549.4,1072.5 552.2,1080.4 555.2,1088.8 558.6,1096.4 562.2,1103.2 566.2,1109.3 570.5,1114.6 575.3,1119.6 580.5,1124.4 586.3,1128.9 592.5,1133.2 598.8,1136.9 605.1,1140.1 611.5,1142.7 617.9,1144.8 625,1146.5 632.9,1147.9 641.6,1149.0 651,1149.7 675,1150.3 713.5,1150.8 766.7,1151.1 834.4,1151.3 885.2,1151.4 919.1,1151.5 936,1151.6" fill="none" stroke="#4a4c4e" stroke-width="1.8" stroke-dasharray="9 10" stroke-linejoin="round"/>
<polyline points="334,1151.6 334.4,1151.3 335.1,1150.9 336.3,1150.2 337.8,1149.2 339.3,1146.9 340.8,1143.2 342.3,1138.1 343.8,1131.6 345.5,1125.2 347.4,1118.9 349.4,1112.7 351.7,1106.7 354.1,1101.7 356.8,1097.9 359.6,1095.2 362.6,1093.6 366.5,1092.4 371.4,1091.5 377.3,1091.0 384,1090.8 392.7,1090.7 403.2,1090.7 415.6,1090.8 429.9,1091.0 442.2,1091.9 452.3,1093.5 460.4,1095.9 466.4,1098.9 472.1,1102.4 477.4,1106.3 482.2,1110.7 486.8,1115.4 491.4,1119.9 496.1,1124.1 501,1128.1 505.9,1131.8 511.3,1135.2 516.9,1138.3 522.9,1141.0 529.2,1143.5 536.6,1145.6 545,1147.5 554.5,1149.0 565,1150.3 576.3,1151.5 588.3,1152.4 601.1,1153.1 614.7,1153.7 643.7,1154.1 688.1,1154.5 747.9,1154.7 823.1,1154.8 879.6,1154.8 917.2,1154.9 936,1154.9" fill="none" stroke="#4a4c4e" stroke-width="1.8" stroke-dasharray="9 10" stroke-linejoin="round"/>
<path d="M185.5,120.4 V340.8 H936.1" fill="none" stroke="#5a5c5e" stroke-width="1.3"/>
<text class="t" x="166.5" y="350.3" font-size="29" text-anchor="end" fill="#1e1e1e" >0</text>
<line x1="185.5" y1="266.7" x2="193.0" y2="266.7" stroke="#5a5c5e" stroke-width="1.3"/>
<text class="t" x="166.5" y="277.1" font-size="29" text-anchor="end" fill="#1e1e1e" >20</text>
<line x1="185.5" y1="193.6" x2="193.0" y2="193.6" stroke="#5a5c5e" stroke-width="1.3"/>
<text class="t" x="166.5" y="204.0" font-size="29" text-anchor="end" fill="#1e1e1e" >40</text>
<line x1="185.5" y1="120.4" x2="193.0" y2="120.4" stroke="#5a5c5e" stroke-width="1.3"/>
<text class="t" x="166.5" y="130.8" font-size="29" text-anchor="end" fill="#1e1e1e" >60</text>
<line x1="335.6" y1="340.8" x2="335.6" y2="333.3" stroke="#5a5c5e" stroke-width="1.3"/>
<line x1="485.7" y1="340.8" x2="485.7" y2="333.3" stroke="#5a5c5e" stroke-width="1.3"/>
<line x1="635.9" y1="340.8" x2="635.9" y2="333.3" stroke="#5a5c5e" stroke-width="1.3"/>
<line x1="786.0" y1="340.8" x2="786.0" y2="333.3" stroke="#5a5c5e" stroke-width="1.3"/>
<line x1="936.1" y1="340.8" x2="936.1" y2="333.3" stroke="#5a5c5e" stroke-width="1.3"/>
<text class="t" x="183.0" y="386.8" font-size="29" text-anchor="middle" fill="#1e1e1e" >0</text>
<text class="t" x="333.1" y="386.8" font-size="29" text-anchor="middle" fill="#1e1e1e" >5</text>
<text class="t" x="483.2" y="386.8" font-size="29" text-anchor="middle" fill="#1e1e1e" >10</text>
<text class="t" x="633.4" y="386.8" font-size="29" text-anchor="middle" fill="#1e1e1e" >15</text>
<text class="t" x="789.0" y="386.8" font-size="29" text-anchor="middle" fill="#1e1e1e" >20</text>
<text class="t" x="933.6" y="386.8" font-size="29" text-anchor="middle" fill="#1e1e1e" >25</text>
<path d="M1173.9,120.5 V341.2 H1924.5" fill="none" stroke="#5a5c5e" stroke-width="1.3"/>
<line x1="1173.9" y1="309.2" x2="1181.4" y2="309.2" stroke="#5a5c5e" stroke-width="1.3"/>
<text class="t" x="1155.3" y="319.6" font-size="29" text-anchor="end" fill="#1e1e1e" >0</text>
<line x1="1173.9" y1="246.3" x2="1181.4" y2="246.3" stroke="#5a5c5e" stroke-width="1.3"/>
<text class="t" x="1155.3" y="256.7" font-size="29" text-anchor="end" fill="#1e1e1e" >10</text>
<line x1="1173.9" y1="183.4" x2="1181.4" y2="183.4" stroke="#5a5c5e" stroke-width="1.3"/>
<text class="t" x="1155.3" y="193.8" font-size="29" text-anchor="end" fill="#1e1e1e" >20</text>
<line x1="1173.9" y1="120.5" x2="1181.4" y2="120.5" stroke="#5a5c5e" stroke-width="1.3"/>
<text class="t" x="1155.3" y="130.9" font-size="29" text-anchor="end" fill="#1e1e1e" >30</text>
<line x1="1324.0" y1="341.2" x2="1324.0" y2="333.7" stroke="#5a5c5e" stroke-width="1.3"/>
<line x1="1474.1" y1="341.2" x2="1474.1" y2="333.7" stroke="#5a5c5e" stroke-width="1.3"/>
<line x1="1624.3" y1="341.2" x2="1624.3" y2="333.7" stroke="#5a5c5e" stroke-width="1.3"/>
<line x1="1774.4" y1="341.2" x2="1774.4" y2="333.7" stroke="#5a5c5e" stroke-width="1.3"/>
<line x1="1924.5" y1="341.2" x2="1924.5" y2="333.7" stroke="#5a5c5e" stroke-width="1.3"/>
<text class="t" x="1176.4" y="386.0" font-size="29" text-anchor="middle" fill="#1e1e1e" >0</text>
<text class="t" x="1325.0" y="386.0" font-size="29" text-anchor="middle" fill="#1e1e1e" >5</text>
<text class="t" x="1476.6" y="386.0" font-size="29" text-anchor="middle" fill="#1e1e1e" >10</text>
<text class="t" x="1626.8" y="386.0" font-size="29" text-anchor="middle" fill="#1e1e1e" >15</text>
<text class="t" x="1776.9" y="386.0" font-size="29" text-anchor="middle" fill="#1e1e1e" >20</text>
<text class="t" x="1927.0" y="386.0" font-size="29" text-anchor="middle" fill="#1e1e1e" >25</text>
<path d="M183.5,626.6 V849.5 H936.0" fill="none" stroke="#5a5c5e" stroke-width="1.3"/>
<text class="t" x="164.8" y="851.5" font-size="29" text-anchor="end" fill="#1e1e1e" >0</text>
<line x1="183.5" y1="775.3" x2="191.0" y2="775.3" stroke="#5a5c5e" stroke-width="1.3"/>
<text class="t" x="164.8" y="785.7" font-size="29" text-anchor="end" fill="#1e1e1e" >20</text>
<line x1="183.5" y1="701.0" x2="191.0" y2="701.0" stroke="#5a5c5e" stroke-width="1.3"/>
<text class="t" x="164.8" y="711.4" font-size="29" text-anchor="end" fill="#1e1e1e" >40</text>
<line x1="183.5" y1="626.6" x2="191.0" y2="626.6" stroke="#5a5c5e" stroke-width="1.3"/>
<text class="t" x="164.8" y="637.0" font-size="29" text-anchor="end" fill="#1e1e1e" >60</text>
<line x1="334.0" y1="849.5" x2="334.0" y2="842.0" stroke="#5a5c5e" stroke-width="1.3"/>
<line x1="484.5" y1="849.5" x2="484.5" y2="842.0" stroke="#5a5c5e" stroke-width="1.3"/>
<line x1="635.0" y1="849.5" x2="635.0" y2="842.0" stroke="#5a5c5e" stroke-width="1.3"/>
<line x1="785.5" y1="849.5" x2="785.5" y2="842.0" stroke="#5a5c5e" stroke-width="1.3"/>
<line x1="936.0" y1="849.5" x2="936.0" y2="842.0" stroke="#5a5c5e" stroke-width="1.3"/>
<path d="M1175.0,626.4 V850.0 H1928.6" fill="none" stroke="#5a5c5e" stroke-width="1.3"/>
<line x1="1175.0" y1="817.4" x2="1182.5" y2="817.4" stroke="#5a5c5e" stroke-width="1.3"/>
<text class="t" x="1151.2" y="827.8" font-size="29" text-anchor="end" fill="#1e1e1e" >0</text>
<line x1="1175.0" y1="753.7" x2="1182.5" y2="753.7" stroke="#5a5c5e" stroke-width="1.3"/>
<text class="t" x="1151.2" y="764.1" font-size="29" text-anchor="end" fill="#1e1e1e" >10</text>
<line x1="1175.0" y1="690.1" x2="1182.5" y2="690.1" stroke="#5a5c5e" stroke-width="1.3"/>
<text class="t" x="1151.2" y="700.5" font-size="29" text-anchor="end" fill="#1e1e1e" >20</text>
<line x1="1175.0" y1="626.4" x2="1182.5" y2="626.4" stroke="#5a5c5e" stroke-width="1.3"/>
<text class="t" x="1151.2" y="635.4" font-size="29" text-anchor="end" fill="#1e1e1e" >30</text>
<line x1="1325.7" y1="850.0" x2="1325.7" y2="842.5" stroke="#5a5c5e" stroke-width="1.3"/>
<line x1="1476.4" y1="850.0" x2="1476.4" y2="842.5" stroke="#5a5c5e" stroke-width="1.3"/>
<line x1="1627.2" y1="850.0" x2="1627.2" y2="842.5" stroke="#5a5c5e" stroke-width="1.3"/>
<line x1="1777.9" y1="850.0" x2="1777.9" y2="842.5" stroke="#5a5c5e" stroke-width="1.3"/>
<line x1="1928.6" y1="850.0" x2="1928.6" y2="842.5" stroke="#5a5c5e" stroke-width="1.3"/>
<path d="M183.5,935.7 V1159.2 H936.0" fill="none" stroke="#5a5c5e" stroke-width="1.3"/>
<text class="t" x="168.6" y="1165.9" font-size="29" text-anchor="end" fill="#1e1e1e" >0</text>
<line x1="183.5" y1="1084.6" x2="191.0" y2="1084.6" stroke="#5a5c5e" stroke-width="1.3"/>
<text class="t" x="163.6" y="1095.0" font-size="29" text-anchor="end" fill="#1e1e1e" >20</text>
<line x1="183.5" y1="1010.1" x2="191.0" y2="1010.1" stroke="#5a5c5e" stroke-width="1.3"/>
<text class="t" x="163.6" y="1020.5" font-size="29" text-anchor="end" fill="#1e1e1e" >40</text>
<line x1="183.5" y1="935.7" x2="191.0" y2="935.7" stroke="#5a5c5e" stroke-width="1.3"/>
<text class="t" x="163.6" y="946.1" font-size="29" text-anchor="end" fill="#1e1e1e" >60</text>
<line x1="334.0" y1="1159.2" x2="334.0" y2="1151.7" stroke="#5a5c5e" stroke-width="1.3"/>
<line x1="484.5" y1="1159.2" x2="484.5" y2="1151.7" stroke="#5a5c5e" stroke-width="1.3"/>
<line x1="635.0" y1="1159.2" x2="635.0" y2="1151.7" stroke="#5a5c5e" stroke-width="1.3"/>
<line x1="785.5" y1="1159.2" x2="785.5" y2="1151.7" stroke="#5a5c5e" stroke-width="1.3"/>
<line x1="936.0" y1="1159.2" x2="936.0" y2="1151.7" stroke="#5a5c5e" stroke-width="1.3"/>
<path d="M1175.0,935.5 V1159.2 H1928.6" fill="none" stroke="#5a5c5e" stroke-width="1.3"/>
<text class="t" x="1157.0" y="1169.6" font-size="29" text-anchor="end" fill="#1e1e1e" >6.5</text>
<line x1="1175.0" y1="1103.3" x2="1182.5" y2="1103.3" stroke="#5a5c5e" stroke-width="1.3"/>
<text class="t" x="1157.0" y="1113.7" font-size="29" text-anchor="end" fill="#1e1e1e" >7</text>
<line x1="1175.0" y1="1047.3" x2="1182.5" y2="1047.3" stroke="#5a5c5e" stroke-width="1.3"/>
<text class="t" x="1157.0" y="1057.8" font-size="29" text-anchor="end" fill="#1e1e1e" >7.5</text>
<line x1="1175.0" y1="991.4" x2="1182.5" y2="991.4" stroke="#5a5c5e" stroke-width="1.3"/>
<text class="t" x="1157.0" y="1001.8" font-size="29" text-anchor="end" fill="#1e1e1e" >8</text>
<line x1="1175.0" y1="935.5" x2="1182.5" y2="935.5" stroke="#5a5c5e" stroke-width="1.3"/>
<text class="t" x="1157.0" y="944.4" font-size="29" text-anchor="end" fill="#1e1e1e" >8.5</text>
<line x1="1325.7" y1="1159.2" x2="1325.7" y2="1151.7" stroke="#5a5c5e" stroke-width="1.3"/>
<line x1="1476.4" y1="1159.2" x2="1476.4" y2="1151.7" stroke="#5a5c5e" stroke-width="1.3"/>
<line x1="1627.2" y1="1159.2" x2="1627.2" y2="1151.7" stroke="#5a5c5e" stroke-width="1.3"/>
<line x1="1777.9" y1="1159.2" x2="1777.9" y2="1151.7" stroke="#5a5c5e" stroke-width="1.3"/>
<line x1="1928.6" y1="1159.2" x2="1928.6" y2="1151.7" stroke="#5a5c5e" stroke-width="1.3"/>
<path d="M183.5,1246.0 V1467.6 H936.0" fill="none" stroke="#5a5c5e" stroke-width="1.3"/>
<text class="t" x="163.6" y="1478.0" font-size="29" text-anchor="end" fill="#1e1e1e" >0</text>
<line x1="183.5" y1="1414.7" x2="191.0" y2="1414.7" stroke="#5a5c5e" stroke-width="1.3"/>
<line x1="183.5" y1="1361.8" x2="191.0" y2="1361.8" stroke="#5a5c5e" stroke-width="1.3"/>
<text class="t" x="163.6" y="1372.2" font-size="29" text-anchor="end" fill="#1e1e1e" >1</text>
<line x1="183.5" y1="1308.9" x2="191.0" y2="1308.9" stroke="#5a5c5e" stroke-width="1.3"/>
<line x1="183.5" y1="1256.0" x2="191.0" y2="1256.0" stroke="#5a5c5e" stroke-width="1.3"/>
<text class="t" x="163.6" y="1266.4" font-size="29" text-anchor="end" fill="#1e1e1e" >2</text>
<line x1="334.0" y1="1467.6" x2="334.0" y2="1460.1" stroke="#5a5c5e" stroke-width="1.3"/>
<line x1="484.5" y1="1467.6" x2="484.5" y2="1460.1" stroke="#5a5c5e" stroke-width="1.3"/>
<line x1="635.0" y1="1467.6" x2="635.0" y2="1460.1" stroke="#5a5c5e" stroke-width="1.3"/>
<line x1="785.5" y1="1467.6" x2="785.5" y2="1460.1" stroke="#5a5c5e" stroke-width="1.3"/>
<line x1="936.0" y1="1467.6" x2="936.0" y2="1460.1" stroke="#5a5c5e" stroke-width="1.3"/>
<path d="M1175.0,1246.2 V1467.7 H1928.6" fill="none" stroke="#5a5c5e" stroke-width="1.3"/>
<text class="t" x="1161.0" y="1473.1" font-size="29" text-anchor="end" fill="#1e1e1e" >0</text>
<line x1="1175.0" y1="1412.3" x2="1182.5" y2="1412.3" stroke="#5a5c5e" stroke-width="1.3"/>
<line x1="1175.0" y1="1357.0" x2="1182.5" y2="1357.0" stroke="#5a5c5e" stroke-width="1.3"/>
<text class="t" x="1161.0" y="1367.4" font-size="29" text-anchor="end" fill="#1e1e1e" >20</text>
<line x1="1175.0" y1="1301.6" x2="1182.5" y2="1301.6" stroke="#5a5c5e" stroke-width="1.3"/>
<line x1="1175.0" y1="1246.2" x2="1182.5" y2="1246.2" stroke="#5a5c5e" stroke-width="1.3"/>
<text class="t" x="1161.0" y="1256.6" font-size="29" text-anchor="end" fill="#1e1e1e" >40</text>
<line x1="1325.7" y1="1467.7" x2="1325.7" y2="1460.2" stroke="#5a5c5e" stroke-width="1.3"/>
<line x1="1476.4" y1="1467.7" x2="1476.4" y2="1460.2" stroke="#5a5c5e" stroke-width="1.3"/>
<line x1="1627.2" y1="1467.7" x2="1627.2" y2="1460.2" stroke="#5a5c5e" stroke-width="1.3"/>
<line x1="1777.9" y1="1467.7" x2="1777.9" y2="1460.2" stroke="#5a5c5e" stroke-width="1.3"/>
<line x1="1928.6" y1="1467.7" x2="1928.6" y2="1460.2" stroke="#5a5c5e" stroke-width="1.3"/>
<path d="M183.5,1554.8 V1777.2 H936.0" fill="none" stroke="#5a5c5e" stroke-width="1.3"/>
<text class="t" x="168.0" y="1778.6" font-size="29" text-anchor="end" fill="#1e1e1e" >0</text>
<line x1="183.5" y1="1721.6" x2="191.0" y2="1721.6" stroke="#5a5c5e" stroke-width="1.3"/>
<line x1="183.5" y1="1666.0" x2="191.0" y2="1666.0" stroke="#5a5c5e" stroke-width="1.3"/>
<text class="t" x="165.0" y="1676.4" font-size="29" text-anchor="end" fill="#1e1e1e" >20</text>
<line x1="183.5" y1="1610.4" x2="191.0" y2="1610.4" stroke="#5a5c5e" stroke-width="1.3"/>
<line x1="183.5" y1="1554.8" x2="191.0" y2="1554.8" stroke="#5a5c5e" stroke-width="1.3"/>
<text class="t" x="165.0" y="1565.2" font-size="29" text-anchor="end" fill="#1e1e1e" >40</text>
<line x1="334.0" y1="1777.2" x2="334.0" y2="1769.7" stroke="#5a5c5e" stroke-width="1.3"/>
<line x1="484.5" y1="1777.2" x2="484.5" y2="1769.7" stroke="#5a5c5e" stroke-width="1.3"/>
<line x1="635.0" y1="1777.2" x2="635.0" y2="1769.7" stroke="#5a5c5e" stroke-width="1.3"/>
<line x1="785.5" y1="1777.2" x2="785.5" y2="1769.7" stroke="#5a5c5e" stroke-width="1.3"/>
<line x1="936.0" y1="1777.2" x2="936.0" y2="1769.7" stroke="#5a5c5e" stroke-width="1.3"/>
<path d="M1175.0,1555.4 V1776.9 H1928.6" fill="none" stroke="#5a5c5e" stroke-width="1.3"/>
<text class="t" x="1156.0" y="1783.3" font-size="29" text-anchor="end" fill="#1e1e1e" >0</text>
<line x1="1175.0" y1="1732.6" x2="1182.5" y2="1732.6" stroke="#5a5c5e" stroke-width="1.3"/>
<line x1="1175.0" y1="1688.3" x2="1182.5" y2="1688.3" stroke="#5a5c5e" stroke-width="1.3"/>
<text class="t" x="1156.0" y="1694.7" font-size="29" text-anchor="end" fill="#1e1e1e" >20</text>
<line x1="1175.0" y1="1644.0" x2="1182.5" y2="1644.0" stroke="#5a5c5e" stroke-width="1.3"/>
<line x1="1175.0" y1="1599.7" x2="1182.5" y2="1599.7" stroke="#5a5c5e" stroke-width="1.3"/>
<text class="t" x="1156.0" y="1606.1" font-size="29" text-anchor="end" fill="#1e1e1e" >40</text>
<line x1="1175.0" y1="1555.4" x2="1182.5" y2="1555.4" stroke="#5a5c5e" stroke-width="1.3"/>
<line x1="1325.7" y1="1776.9" x2="1325.7" y2="1769.4" stroke="#5a5c5e" stroke-width="1.3"/>
<line x1="1476.4" y1="1776.9" x2="1476.4" y2="1769.4" stroke="#5a5c5e" stroke-width="1.3"/>
<line x1="1627.2" y1="1776.9" x2="1627.2" y2="1769.4" stroke="#5a5c5e" stroke-width="1.3"/>
<line x1="1777.9" y1="1776.9" x2="1777.9" y2="1769.4" stroke="#5a5c5e" stroke-width="1.3"/>
<line x1="1928.6" y1="1776.9" x2="1928.6" y2="1769.4" stroke="#5a5c5e" stroke-width="1.3"/>
<path d="M183.5,1864.1 V2085.9 H936.0" fill="none" stroke="#5a5c5e" stroke-width="1.3"/>
<text class="t" x="165.0" y="2093.3" font-size="29" text-anchor="end" fill="#1e1e1e" >0</text>
<line x1="183.5" y1="1975.0" x2="191.0" y2="1975.0" stroke="#5a5c5e" stroke-width="1.3"/>
<text class="t" x="165.0" y="1985.4" font-size="29" text-anchor="end" fill="#1e1e1e" >0.5</text>
<line x1="183.5" y1="1864.1" x2="191.0" y2="1864.1" stroke="#5a5c5e" stroke-width="1.3"/>
<text class="t" x="165.0" y="1874.5" font-size="29" text-anchor="end" fill="#1e1e1e" >1</text>
<line x1="334.0" y1="2085.9" x2="334.0" y2="2078.4" stroke="#5a5c5e" stroke-width="1.3"/>
<line x1="484.5" y1="2085.9" x2="484.5" y2="2078.4" stroke="#5a5c5e" stroke-width="1.3"/>
<line x1="635.0" y1="2085.9" x2="635.0" y2="2078.4" stroke="#5a5c5e" stroke-width="1.3"/>
<line x1="785.5" y1="2085.9" x2="785.5" y2="2078.4" stroke="#5a5c5e" stroke-width="1.3"/>
<line x1="936.0" y1="2085.9" x2="936.0" y2="2078.4" stroke="#5a5c5e" stroke-width="1.3"/>
<text class="t" x="182.5" y="2135.0" font-size="29" text-anchor="middle" fill="#1e1e1e" >0</text>
<text class="t" x="333.0" y="2135.0" font-size="29" text-anchor="middle" fill="#1e1e1e" >5</text>
<text class="t" x="483.5" y="2135.0" font-size="29" text-anchor="middle" fill="#1e1e1e" >10</text>
<text class="t" x="634.0" y="2135.0" font-size="29" text-anchor="middle" fill="#1e1e1e" >15</text>
<text class="t" x="789.5" y="2135.0" font-size="29" text-anchor="middle" fill="#1e1e1e" >20</text>
<text class="t" x="935.0" y="2135.0" font-size="29" text-anchor="middle" fill="#1e1e1e" >25</text>
<path d="M1175.0,1864.5 V2085.9 H1928.6" fill="none" stroke="#5a5c5e" stroke-width="1.3"/>
<text class="t" x="1155.5" y="2086.4" font-size="29" text-anchor="end" fill="#1e1e1e" >0</text>
<line x1="1175.0" y1="1975.0" x2="1182.5" y2="1975.0" stroke="#5a5c5e" stroke-width="1.3"/>
<text class="t" x="1155.5" y="1985.4" font-size="29" text-anchor="end" fill="#1e1e1e" >5</text>
<line x1="1175.0" y1="1864.5" x2="1182.5" y2="1864.5" stroke="#5a5c5e" stroke-width="1.3"/>
<text class="t" x="1155.5" y="1871.9" font-size="29" text-anchor="end" fill="#1e1e1e" >10</text>
<line x1="1325.7" y1="2085.9" x2="1325.7" y2="2078.4" stroke="#5a5c5e" stroke-width="1.3"/>
<line x1="1476.4" y1="2085.9" x2="1476.4" y2="2078.4" stroke="#5a5c5e" stroke-width="1.3"/>
<line x1="1627.2" y1="2085.9" x2="1627.2" y2="2078.4" stroke="#5a5c5e" stroke-width="1.3"/>
<line x1="1777.9" y1="2085.9" x2="1777.9" y2="2078.4" stroke="#5a5c5e" stroke-width="1.3"/>
<line x1="1928.6" y1="2085.9" x2="1928.6" y2="2078.4" stroke="#5a5c5e" stroke-width="1.3"/>
<text class="t" x="1178.0" y="2134.5" font-size="29" text-anchor="middle" fill="#1e1e1e" >0</text>
<text class="t" x="1325.7" y="2134.5" font-size="29" text-anchor="middle" fill="#1e1e1e" >5</text>
<text class="t" x="1477.9" y="2134.5" font-size="29" text-anchor="middle" fill="#1e1e1e" >10</text>
<text class="t" x="1628.7" y="2134.5" font-size="29" text-anchor="middle" fill="#1e1e1e" >15</text>
<text class="t" x="1782.9" y="2134.5" font-size="29" text-anchor="middle" fill="#1e1e1e" >20</text>
<text class="t" x="1930.1" y="2134.5" font-size="29" text-anchor="middle" fill="#1e1e1e" >25</text>
<defs><linearGradient id="cb1" x1="0" y1="0" x2="0" y2="1"><stop offset="0.000" stop-color="#462c2e"/><stop offset="0.045" stop-color="#835757"/><stop offset="0.388" stop-color="#835757"/><stop offset="0.444" stop-color="#b87474"/><stop offset="0.528" stop-color="#c9a08c"/><stop offset="0.612" stop-color="#d2bc94"/><stop offset="0.710" stop-color="#dce2a8"/><stop offset="0.822" stop-color="#eaedd0"/><stop offset="0.927" stop-color="#f6f6f0"/><stop offset="1.000" stop-color="#fcfcfc"/></linearGradient></defs>
<rect x="948.0" y="147.4" width="13.8" height="105.4" fill="url(#cb1)" stroke="#5a5c5e" stroke-width="1.2"/>
<text x="969.5" y="179.0" font-size="20.5" fill="#2e3032">10<tspan dy="-10" font-size="16">-4</tspan></text>
<text x="969.5" y="221.0" font-size="20.5" fill="#2e3032">10<tspan dy="-10" font-size="16">-6</tspan></text>
<defs><linearGradient id="cb2" x1="0" y1="0" x2="0" y2="1"><stop offset="0.000" stop-color="#462c2e"/><stop offset="0.045" stop-color="#835757"/><stop offset="0.388" stop-color="#835757"/><stop offset="0.444" stop-color="#b87474"/><stop offset="0.528" stop-color="#c9a08c"/><stop offset="0.612" stop-color="#d2bc94"/><stop offset="0.710" stop-color="#dce2a8"/><stop offset="0.822" stop-color="#eaedd0"/><stop offset="0.927" stop-color="#f6f6f0"/><stop offset="1.000" stop-color="#fcfcfc"/></linearGradient></defs>
<rect x="1934.5" y="147.6" width="13.8" height="105.3" fill="url(#cb2)" stroke="#5a5c5e" stroke-width="1.2"/>
<text x="1957.5" y="179.2" font-size="20.5" fill="#2e3032">10<tspan dy="-10" font-size="16">-4</tspan></text>
<text x="1957.5" y="221.0" font-size="20.5" fill="#2e3032">10<tspan dy="-10" font-size="16">-6</tspan></text>
<defs><linearGradient id="cb3" x1="0" y1="0" x2="0" y2="1"><stop offset="0.000" stop-color="#462c2e"/><stop offset="0.045" stop-color="#835757"/><stop offset="0.388" stop-color="#835757"/><stop offset="0.444" stop-color="#b87474"/><stop offset="0.528" stop-color="#c9a08c"/><stop offset="0.612" stop-color="#d2bc94"/><stop offset="0.710" stop-color="#dce2a8"/><stop offset="0.822" stop-color="#eaedd0"/><stop offset="0.927" stop-color="#f6f6f0"/><stop offset="1.000" stop-color="#fcfcfc"/></linearGradient></defs>
<rect x="948.5" y="654.4" width="13.8" height="106.1" fill="url(#cb3)" stroke="#5a5c5e" stroke-width="1.2"/>
<text x="969.5" y="689.0" font-size="20.5" fill="#2e3032">10<tspan dy="-10" font-size="16">-4</tspan></text>
<text x="969.5" y="738.6" font-size="20.5" fill="#2e3032">10<tspan dy="-10" font-size="16">-6</tspan></text>
<defs><linearGradient id="cb4" x1="0" y1="0" x2="0" y2="1"><stop offset="0.000" stop-color="#462c2e"/><stop offset="0.045" stop-color="#835757"/><stop offset="0.388" stop-color="#835757"/><stop offset="0.444" stop-color="#b87474"/><stop offset="0.528" stop-color="#c9a08c"/><stop offset="0.612" stop-color="#d2bc94"/><stop offset="0.710" stop-color="#dce2a8"/><stop offset="0.822" stop-color="#eaedd0"/><stop offset="0.927" stop-color="#f6f6f0"/><stop offset="1.000" stop-color="#fcfcfc"/></linearGradient></defs>
<rect x="1938.5" y="654.2" width="13.8" height="106.4" fill="url(#cb4)" stroke="#5a5c5e" stroke-width="1.2"/>
<text x="1961.5" y="689.5" font-size="20.5" fill="#2e3032">10<tspan dy="-10" font-size="16">-4</tspan></text>
<text x="1961.5" y="739.0" font-size="20.5" fill="#2e3032">10<tspan dy="-10" font-size="16">-6</tspan></text>
<defs><linearGradient id="cb5" x1="0" y1="0" x2="0" y2="1"><stop offset="0.000" stop-color="#462c2e"/><stop offset="0.045" stop-color="#835757"/><stop offset="0.388" stop-color="#835757"/><stop offset="0.444" stop-color="#b87474"/><stop offset="0.528" stop-color="#c9a08c"/><stop offset="0.612" stop-color="#d2bc94"/><stop offset="0.710" stop-color="#dce2a8"/><stop offset="0.822" stop-color="#eaedd0"/><stop offset="0.927" stop-color="#f6f6f0"/><stop offset="1.000" stop-color="#fcfcfc"/></linearGradient></defs>
<rect x="948.5" y="959.0" width="13.8" height="106.8" fill="url(#cb5)" stroke="#5a5c5e" stroke-width="1.2"/>
<text x="969.5" y="984.4" font-size="20.5" fill="#2e3032">10<tspan dy="-10" font-size="16">-4</tspan></text>
<text x="969.5" y="1039.5" font-size="20.5" fill="#2e3032">10<tspan dy="-10" font-size="16">-6</tspan></text>
<defs><linearGradient id="cb6" x1="0" y1="0" x2="0" y2="1"><stop offset="0.000" stop-color="#462c2e"/><stop offset="0.045" stop-color="#835757"/><stop offset="0.388" stop-color="#835757"/><stop offset="0.444" stop-color="#b87474"/><stop offset="0.528" stop-color="#c9a08c"/><stop offset="0.612" stop-color="#d2bc94"/><stop offset="0.710" stop-color="#dce2a8"/><stop offset="0.822" stop-color="#eaedd0"/><stop offset="0.927" stop-color="#f6f6f0"/><stop offset="1.000" stop-color="#fcfcfc"/></linearGradient></defs>
<rect x="1938.5" y="959.1" width="13.8" height="107.2" fill="url(#cb6)" stroke="#5a5c5e" stroke-width="1.2"/>
<text x="1961.5" y="983.0" font-size="20.5" fill="#2e3032">10<tspan dy="-10" font-size="16">-5</tspan></text>
<text x="1961.5" y="1022.6" font-size="20.5" fill="#2e3032">10<tspan dy="-10" font-size="16">-6</tspan></text>
<defs><linearGradient id="cb7" x1="0" y1="0" x2="0" y2="1"><stop offset="0.000" stop-color="#462c2e"/><stop offset="0.045" stop-color="#835757"/><stop offset="0.388" stop-color="#835757"/><stop offset="0.444" stop-color="#b87474"/><stop offset="0.528" stop-color="#c9a08c"/><stop offset="0.612" stop-color="#d2bc94"/><stop offset="0.710" stop-color="#dce2a8"/><stop offset="0.822" stop-color="#eaedd0"/><stop offset="0.927" stop-color="#f6f6f0"/><stop offset="1.000" stop-color="#fcfcfc"/></linearGradient></defs>
<rect x="948.5" y="1263.6" width="13.8" height="107.4" fill="url(#cb7)" stroke="#5a5c5e" stroke-width="1.2"/>
<text x="969.5" y="1290.7" font-size="20.5" fill="#2e3032">10<tspan dy="-10" font-size="16">-5</tspan></text>
<text x="969.5" y="1329.5" font-size="20.5" fill="#2e3032">10<tspan dy="-10" font-size="16">-6</tspan></text>
<defs><linearGradient id="cb8" x1="0" y1="0" x2="0" y2="1"><stop offset="0.000" stop-color="#462c2e"/><stop offset="0.045" stop-color="#835757"/><stop offset="0.388" stop-color="#835757"/><stop offset="0.444" stop-color="#b87474"/><stop offset="0.528" stop-color="#c9a08c"/><stop offset="0.612" stop-color="#d2bc94"/><stop offset="0.710" stop-color="#dce2a8"/><stop offset="0.822" stop-color="#eaedd0"/><stop offset="0.927" stop-color="#f6f6f0"/><stop offset="1.000" stop-color="#fcfcfc"/></linearGradient></defs>
<rect x="1938.5" y="1262.7" width="13.8" height="107.9" fill="url(#cb8)" stroke="#5a5c5e" stroke-width="1.2"/>
<text x="1961.5" y="1298.5" font-size="20.5" fill="#2e3032">10<tspan dy="-10" font-size="16">-4</tspan></text>
<text x="1961.5" y="1347.5" font-size="20.5" fill="#2e3032">10<tspan dy="-10" font-size="16">-6</tspan></text>
<defs><linearGradient id="cb9" x1="0" y1="0" x2="0" y2="1"><stop offset="0.000" stop-color="#462c2e"/><stop offset="0.045" stop-color="#835757"/><stop offset="0.388" stop-color="#835757"/><stop offset="0.444" stop-color="#b87474"/><stop offset="0.528" stop-color="#c9a08c"/><stop offset="0.612" stop-color="#d2bc94"/><stop offset="0.710" stop-color="#dce2a8"/><stop offset="0.822" stop-color="#eaedd0"/><stop offset="0.927" stop-color="#f6f6f0"/><stop offset="1.000" stop-color="#fcfcfc"/></linearGradient></defs>
<rect x="948.5" y="1577.5" width="13.8" height="107.4" fill="url(#cb9)" stroke="#5a5c5e" stroke-width="1.2"/>
<text x="969.5" y="1616.3" font-size="20.5" fill="#2e3032">10<tspan dy="-10" font-size="16">-4</tspan></text>
<text x="969.5" y="1662.8" font-size="20.5" fill="#2e3032">10<tspan dy="-10" font-size="16">-6</tspan></text>
<defs><linearGradient id="cb10" x1="0" y1="0" x2="0" y2="1"><stop offset="0.000" stop-color="#462c2e"/><stop offset="0.045" stop-color="#835757"/><stop offset="0.388" stop-color="#835757"/><stop offset="0.444" stop-color="#b87474"/><stop offset="0.528" stop-color="#c9a08c"/><stop offset="0.612" stop-color="#d2bc94"/><stop offset="0.710" stop-color="#dce2a8"/><stop offset="0.822" stop-color="#eaedd0"/><stop offset="0.927" stop-color="#f6f6f0"/><stop offset="1.000" stop-color="#fcfcfc"/></linearGradient></defs>
<rect x="1938.4" y="1576.4" width="13.8" height="107.7" fill="url(#cb10)" stroke="#5a5c5e" stroke-width="1.2"/>
<text x="1961.5" y="1611.2" font-size="20.5" fill="#2e3032">10<tspan dy="-10" font-size="16">-4</tspan></text>
<text x="1961.5" y="1659.7" font-size="20.5" fill="#2e3032">10<tspan dy="-10" font-size="16">-6</tspan></text>
<defs><linearGradient id="cb11" x1="0" y1="0" x2="0" y2="1"><stop offset="0.000" stop-color="#462c2e"/><stop offset="0.045" stop-color="#835757"/><stop offset="0.388" stop-color="#835757"/><stop offset="0.444" stop-color="#b87474"/><stop offset="0.528" stop-color="#c9a08c"/><stop offset="0.612" stop-color="#d2bc94"/><stop offset="0.710" stop-color="#dce2a8"/><stop offset="0.822" stop-color="#eaedd0"/><stop offset="0.927" stop-color="#f6f6f0"/><stop offset="1.000" stop-color="#fcfcfc"/></linearGradient></defs>
<rect x="948.5" y="1880.5" width="13.8" height="107.9" fill="url(#cb11)" stroke="#5a5c5e" stroke-width="1.2"/>
<text x="969.5" y="1919.6" font-size="20.5" fill="#2e3032">10<tspan dy="-10" font-size="16">-4</tspan></text>
<text x="969.5" y="1967.1" font-size="20.5" fill="#2e3032">10<tspan dy="-10" font-size="16">-6</tspan></text>
<defs><linearGradient id="cb12" x1="0" y1="0" x2="0" y2="1"><stop offset="0.000" stop-color="#462c2e"/><stop offset="0.045" stop-color="#835757"/><stop offset="0.388" stop-color="#835757"/><stop offset="0.444" stop-color="#b87474"/><stop offset="0.528" stop-color="#c9a08c"/><stop offset="0.612" stop-color="#d2bc94"/><stop offset="0.710" stop-color="#dce2a8"/><stop offset="0.822" stop-color="#eaedd0"/><stop offset="0.927" stop-color="#f6f6f0"/><stop offset="1.000" stop-color="#fcfcfc"/></linearGradient></defs>
<rect x="1938.5" y="1880.5" width="13.8" height="107.9" fill="url(#cb12)" stroke="#5a5c5e" stroke-width="1.2"/>
<text x="1961.5" y="1916.2" font-size="20.5" fill="#2e3032">10<tspan dy="-10" font-size="16">-4</tspan></text>
<text x="1961.5" y="1965.7" font-size="20.5" fill="#2e3032">10<tspan dy="-10" font-size="16">-6</tspan></text>
<text class="t" x="15.7" y="29.8" font-size="36" text-anchor="start" fill="#1e1e1e" textLength="376" lengthAdjust="spacingAndGlyphs">Simulation 1 (all runs)</text>
<line x1="0" y1="460.1" x2="1996" y2="460.1" stroke="#c4c4c4" stroke-width="1.2"/>
<text class="t" x="3.2" y="543.9" font-size="38" text-anchor="start" fill="#1e1e1e" textLength="524" lengthAdjust="spacingAndGlyphs">Simulation 2 (successful runs)</text>
<text class="t" x="1325.1" y="557.6" font-size="36" text-anchor="start" fill="#7a7a7a" textLength="259.4" lengthAdjust="spacingAndGlyphs">extinction interval</text>
<polygon points="1326,578.4 1478.7,578.4 1504.8,591.4 1478.7,608.7 1326,608.7" fill="#dfe0df"/>
<text class="t" x="16.8" y="134.0" font-size="32" text-anchor="start" fill="#1e1e1e" >(A)</text>
<text class="t" x="1007.0" y="138.0" font-size="32" text-anchor="start" fill="#1e1e1e" >(B)</text>
<text class="t" x="7.7" y="616.5" font-size="32" text-anchor="start" fill="#1e1e1e" >(C)</text>
<text class="t" x="1007.0" y="619.0" font-size="32" text-anchor="start" fill="#1e1e1e" >(D)</text>
<text class="t" x="12.0" y="927.0" font-size="32" text-anchor="start" fill="#1e1e1e" >(E)</text>
<text class="t" x="1010.0" y="930.0" font-size="32" text-anchor="start" fill="#1e1e1e" >(F)</text>
<text class="t" x="12.0" y="1244.0" font-size="32" text-anchor="start" fill="#1e1e1e" >(G)</text>
<text class="t" x="1010.0" y="1243.0" font-size="32" text-anchor="start" fill="#1e1e1e" >(H)</text>
<text class="t" x="14.0" y="1572.0" font-size="32" text-anchor="start" fill="#1e1e1e" >(I)</text>
<text class="t" x="1012.0" y="1576.0" font-size="32" text-anchor="start" fill="#1e1e1e" >(J)</text>
<text class="t" x="16.0" y="1862.0" font-size="32" text-anchor="start" fill="#1e1e1e" >(K)</text>
<text class="t" x="1016.0" y="1868.0" font-size="32" text-anchor="start" fill="#1e1e1e" >(L)</text>
<text class="t" x="99.0" y="230.7" font-size="32" text-anchor="middle" fill="#1e1e1e" transform="rotate(-90 99.0 230.7)" textLength="279" lengthAdjust="spacingAndGlyphs">C release (Tmol/yr)</text>
<text class="t" x="1090.5" y="216.4" font-size="32" text-anchor="middle" fill="#1e1e1e" transform="rotate(-90 1090.5 216.4)" textLength="197" lengthAdjust="spacingAndGlyphs">T anomaly (C)</text>
<text class="t" x="97.0" y="730.4" font-size="32" text-anchor="middle" fill="#1e1e1e" transform="rotate(-90 97.0 730.4)" textLength="272.5" lengthAdjust="spacingAndGlyphs">C release (Tmol/yr)</text>
<text class="t" x="1086.9" y="722.0" font-size="32" text-anchor="middle" fill="#1e1e1e" transform="rotate(-90 1086.9 722.0)" textLength="197.6" lengthAdjust="spacingAndGlyphs">T anomaly (C)</text>
<text class="t" x="100.9" y="1025.8" font-size="32" text-anchor="middle" fill="#1e1e1e" transform="rotate(-90 100.9 1025.8)" textLength="187.6" lengthAdjust="spacingAndGlyphs">pCO<tspan font-size="21">2</tspan> (xPIAL)</text>
<text class="t" x="1086.9" y="1046.1" font-size="32" text-anchor="middle" fill="#1e1e1e" transform="rotate(-90 1086.9 1046.1)" textLength="158" lengthAdjust="spacingAndGlyphs">Surface pH</text>
<text class="t" x="100.9" y="1351.4" font-size="32" text-anchor="middle" fill="#1e1e1e" transform="rotate(-90 100.9 1351.4)" textLength="202.5" lengthAdjust="spacingAndGlyphs">Surf. [Si] (mM)</text>
<text class="t" x="1099.0" y="1365.9" font-size="32" text-anchor="middle" fill="#1e1e1e" transform="rotate(-90 1099.0 1365.9)" textLength="265" lengthAdjust="spacingAndGlyphs">bSi burial (Tmol/yr)</text>
<text class="t" x="100.9" y="1661.4" font-size="32" text-anchor="middle" fill="#1e1e1e" transform="rotate(-90 100.9 1661.4)" textLength="234.5" lengthAdjust="spacingAndGlyphs">iSi exp. (Tmol/yr)</text>
<text class="t" x="1097.5" y="1673.4" font-size="32" text-anchor="middle" fill="#1e1e1e" transform="rotate(-90 1097.5 1673.4)" textLength="272.5" lengthAdjust="spacingAndGlyphs">RW burial (Tmol/yr)</text>
<text class="t" x="101.0" y="1975.7" font-size="32" text-anchor="middle" fill="#1e1e1e" transform="rotate(-90 101.0 1975.7)" textLength="85.3" lengthAdjust="spacingAndGlyphs"><tspan font-style="italic">f</tspan><tspan font-size="23.5">rw_m-a</tspan></text>
<text class="t" x="1098.9" y="1969.3" font-size="32" text-anchor="middle" fill="#1e1e1e" transform="rotate(-90 1098.9 1969.3)" textLength="253.5" lengthAdjust="spacingAndGlyphs">Carbon RT (norm)</text>
<text class="t" x="561.9" y="425.8" font-size="32.5" text-anchor="middle" fill="#1e1e1e" textLength="284" lengthAdjust="spacingAndGlyphs">model time (Myrs)</text>
<text class="t" x="1554.5" y="424.0" font-size="32.5" text-anchor="middle" fill="#1e1e1e" textLength="284" lengthAdjust="spacingAndGlyphs">model time (Myrs)</text>
<text class="t" x="562.5" y="2174.3" font-size="32.5" text-anchor="middle" fill="#1e1e1e" textLength="284" lengthAdjust="spacingAndGlyphs">model time (Myrs)</text>
<text class="t" x="1554.5" y="2174.3" font-size="32.5" text-anchor="middle" fill="#1e1e1e" textLength="284" lengthAdjust="spacingAndGlyphs">model time (Myrs)</text>
</svg></body></html>
